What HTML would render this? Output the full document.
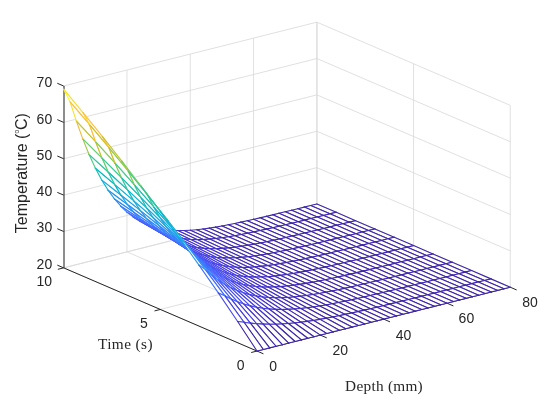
<!DOCTYPE html><html><head><meta charset="utf-8"><style>html,body{margin:0;padding:0;background:#fff;}svg{display:block;}</style></head><body><svg width="550" height="406" viewBox="0 0 550 406"><rect width="550" height="406" fill="#fff"/><g stroke="#dadada" stroke-width="0.85"><line x1="126.96" y1="251.89" x2="126.96" y2="70.04"/><line x1="190.28" y1="235.93" x2="190.28" y2="54.08"/><line x1="253.59" y1="219.96" x2="253.59" y2="38.11"/><line x1="316.90" y1="204.00" x2="316.90" y2="22.15"/><line x1="63.65" y1="267.85" x2="316.90" y2="204.00"/><line x1="63.65" y1="231.48" x2="316.90" y2="167.63"/><line x1="63.65" y1="195.11" x2="316.90" y2="131.26"/><line x1="63.65" y1="158.74" x2="316.90" y2="94.89"/><line x1="63.65" y1="122.37" x2="316.90" y2="58.52"/><line x1="63.65" y1="86.00" x2="316.90" y2="22.15"/><line x1="510.25" y1="287.20" x2="510.25" y2="105.35"/><line x1="413.57" y1="245.60" x2="413.57" y2="63.75"/><line x1="316.90" y1="204.00" x2="316.90" y2="22.15"/><line x1="510.25" y1="287.20" x2="316.90" y2="204.00"/><line x1="510.25" y1="250.83" x2="316.90" y2="167.63"/><line x1="510.25" y1="214.46" x2="316.90" y2="131.26"/><line x1="510.25" y1="178.09" x2="316.90" y2="94.89"/><line x1="510.25" y1="141.72" x2="316.90" y2="58.52"/><line x1="510.25" y1="105.35" x2="316.90" y2="22.15"/><line x1="257.00" y1="351.05" x2="63.65" y2="267.85"/><line x1="320.31" y1="335.09" x2="126.96" y2="251.89"/><line x1="383.62" y1="319.12" x2="190.28" y2="235.93"/><line x1="446.94" y1="303.16" x2="253.59" y2="219.96"/><line x1="510.25" y1="287.20" x2="316.90" y2="204.00"/><line x1="257.00" y1="351.05" x2="510.25" y2="287.20"/><line x1="160.32" y1="309.45" x2="413.57" y2="245.60"/><line x1="63.65" y1="267.85" x2="316.90" y2="204.00"/></g><g stroke="#262626" stroke-width="1.00" stroke-linecap="butt"><line x1="257.00" y1="351.05" x2="510.25" y2="287.20"/><line x1="257.00" y1="351.05" x2="63.65" y2="267.85"/><line x1="64.00" y1="267.85" x2="64.00" y2="86.00" stroke-width="1.05"/><line x1="257.00" y1="351.05" x2="263.43" y2="353.82"/><line x1="320.31" y1="335.09" x2="326.74" y2="337.85"/><line x1="383.62" y1="319.12" x2="390.05" y2="321.89"/><line x1="446.94" y1="303.16" x2="453.37" y2="305.93"/><line x1="510.25" y1="287.20" x2="516.68" y2="289.97"/><line x1="257.00" y1="351.05" x2="251.18" y2="352.52"/><line x1="160.32" y1="309.45" x2="154.51" y2="310.92"/><line x1="63.65" y1="267.85" x2="57.83" y2="269.32"/><line x1="63.65" y1="267.85" x2="57.31" y2="265.12"/><line x1="63.65" y1="231.48" x2="57.31" y2="228.75"/><line x1="63.65" y1="195.11" x2="57.31" y2="192.38"/><line x1="63.65" y1="158.74" x2="57.31" y2="156.01"/><line x1="63.65" y1="122.37" x2="57.31" y2="119.64"/><line x1="63.65" y1="86.00" x2="57.31" y2="83.27"/></g><g stroke-width="1.1" stroke-linecap="round"><polygon points="329.90,213.85 336.24,212.32 316.90,204.00 310.57,205.53" fill="#fff"/>
<line x1="329.90" y1="213.85" x2="336.24" y2="212.32" stroke="#3e26a8"/>
<line x1="336.24" y1="212.32" x2="316.90" y2="204.00" stroke="#3e26a8"/>
<line x1="310.57" y1="205.53" x2="316.90" y2="204.00" stroke="#3e26a8"/>
<line x1="329.90" y1="213.85" x2="310.57" y2="205.53" stroke="#3e26a8"/>
<polygon points="323.57,215.42 329.90,213.85 310.57,205.53 304.24,207.10" fill="#fff"/>
<line x1="323.57" y1="215.42" x2="329.90" y2="213.85" stroke="#3e26a8"/>
<line x1="329.90" y1="213.85" x2="310.57" y2="205.53" stroke="#3e26a8"/>
<line x1="304.24" y1="207.10" x2="310.57" y2="205.53" stroke="#3e26a8"/>
<line x1="323.57" y1="215.42" x2="304.24" y2="207.10" stroke="#3e26a8"/>
<polygon points="317.24,217.00 323.57,215.42 304.24,207.10 297.91,208.67" fill="#fff"/>
<line x1="317.24" y1="217.00" x2="323.57" y2="215.42" stroke="#3e26a8"/>
<line x1="323.57" y1="215.42" x2="304.24" y2="207.10" stroke="#3e26a8"/>
<line x1="297.91" y1="208.67" x2="304.24" y2="207.10" stroke="#3e26a8"/>
<line x1="317.24" y1="217.00" x2="297.91" y2="208.67" stroke="#3e26a8"/>
<polygon points="310.91,218.56 317.24,217.00 297.91,208.67 291.58,210.23" fill="#fff"/>
<line x1="310.91" y1="218.56" x2="317.24" y2="217.00" stroke="#3e26a8"/>
<line x1="317.24" y1="217.00" x2="297.91" y2="208.67" stroke="#3e26a8"/>
<line x1="291.58" y1="210.23" x2="297.91" y2="208.67" stroke="#3e26a8"/>
<line x1="310.91" y1="218.56" x2="291.58" y2="210.23" stroke="#3e26a8"/>
<polygon points="304.58,220.12 310.91,218.56 291.58,210.23 285.24,211.78" fill="#fff"/>
<line x1="304.58" y1="220.12" x2="310.91" y2="218.56" stroke="#3e26a8"/>
<line x1="310.91" y1="218.56" x2="291.58" y2="210.23" stroke="#3e26a8"/>
<line x1="285.24" y1="211.78" x2="291.58" y2="210.23" stroke="#3e26a8"/>
<line x1="304.58" y1="220.12" x2="285.24" y2="211.78" stroke="#3e26a8"/>
<polygon points="298.25,221.67 304.58,220.12 285.24,211.78 278.91,213.33" fill="#fff"/>
<line x1="298.25" y1="221.67" x2="304.58" y2="220.12" stroke="#3e26a8"/>
<line x1="304.58" y1="220.12" x2="285.24" y2="211.78" stroke="#3e26a8"/>
<line x1="278.91" y1="213.33" x2="285.24" y2="211.78" stroke="#3e26a8"/>
<line x1="298.25" y1="221.67" x2="278.91" y2="213.33" stroke="#3e26a8"/>
<polygon points="349.24,222.18 355.57,220.64 336.24,212.32 329.90,213.85" fill="#fff"/>
<line x1="349.24" y1="222.18" x2="355.57" y2="220.64" stroke="#3e26a8"/>
<line x1="355.57" y1="220.64" x2="336.24" y2="212.32" stroke="#3e26a8"/>
<line x1="329.90" y1="213.85" x2="336.24" y2="212.32" stroke="#3e26a8"/>
<line x1="349.24" y1="222.18" x2="329.90" y2="213.85" stroke="#3e26a8"/>
<polygon points="291.92,223.20 298.25,221.67 278.91,213.33 272.58,214.86" fill="#fff"/>
<line x1="291.92" y1="223.20" x2="298.25" y2="221.67" stroke="#3e26a8"/>
<line x1="298.25" y1="221.67" x2="278.91" y2="213.33" stroke="#3e26a8"/>
<line x1="272.58" y1="214.86" x2="278.91" y2="213.33" stroke="#3e26a8"/>
<line x1="291.92" y1="223.20" x2="272.58" y2="214.86" stroke="#3e26a8"/>
<polygon points="342.91,223.75 349.24,222.18 329.90,213.85 323.57,215.42" fill="#fff"/>
<line x1="342.91" y1="223.75" x2="349.24" y2="222.18" stroke="#3e26a8"/>
<line x1="349.24" y1="222.18" x2="329.90" y2="213.85" stroke="#3e26a8"/>
<line x1="323.57" y1="215.42" x2="329.90" y2="213.85" stroke="#3e26a8"/>
<line x1="342.91" y1="223.75" x2="323.57" y2="215.42" stroke="#3e26a8"/>
<polygon points="285.59,224.73 291.92,223.20 272.58,214.86 266.25,216.37" fill="#fff"/>
<line x1="285.59" y1="224.73" x2="291.92" y2="223.20" stroke="#3e26a8"/>
<line x1="291.92" y1="223.20" x2="272.58" y2="214.86" stroke="#3e26a8"/>
<line x1="266.25" y1="216.37" x2="272.58" y2="214.86" stroke="#3e26a8"/>
<line x1="285.59" y1="224.73" x2="266.25" y2="216.37" stroke="#3e26a8"/>
<polygon points="336.58,225.33 342.91,223.75 323.57,215.42 317.24,217.00" fill="#fff"/>
<line x1="336.58" y1="225.33" x2="342.91" y2="223.75" stroke="#3e26a8"/>
<line x1="342.91" y1="223.75" x2="323.57" y2="215.42" stroke="#3e26a8"/>
<line x1="317.24" y1="217.00" x2="323.57" y2="215.42" stroke="#3e26a8"/>
<line x1="336.58" y1="225.33" x2="317.24" y2="217.00" stroke="#3e26a8"/>
<polygon points="279.25,226.23 285.59,224.73 266.25,216.37 259.92,217.86" fill="#fff"/>
<line x1="279.25" y1="226.23" x2="285.59" y2="224.73" stroke="#3e26a8"/>
<line x1="285.59" y1="224.73" x2="266.25" y2="216.37" stroke="#3e26a8"/>
<line x1="259.92" y1="217.86" x2="266.25" y2="216.37" stroke="#3e26a8"/>
<line x1="279.25" y1="226.23" x2="259.92" y2="217.86" stroke="#3e26a8"/>
<polygon points="330.25,226.90 336.58,225.33 317.24,217.00 310.91,218.56" fill="#fff"/>
<line x1="330.25" y1="226.90" x2="336.58" y2="225.33" stroke="#3e26a8"/>
<line x1="336.58" y1="225.33" x2="317.24" y2="217.00" stroke="#3e26a8"/>
<line x1="310.91" y1="218.56" x2="317.24" y2="217.00" stroke="#3e26a8"/>
<line x1="330.25" y1="226.90" x2="310.91" y2="218.56" stroke="#3e26a8"/>
<polygon points="272.92,227.71 279.25,226.23 259.92,217.86 253.59,219.33" fill="#fff"/>
<line x1="272.92" y1="227.71" x2="279.25" y2="226.23" stroke="#3e26a8"/>
<line x1="279.25" y1="226.23" x2="259.92" y2="217.86" stroke="#3e26a8"/>
<line x1="253.59" y1="219.33" x2="259.92" y2="217.86" stroke="#3e26a8"/>
<line x1="272.92" y1="227.71" x2="253.59" y2="219.33" stroke="#3e26a8"/>
<polygon points="323.91,228.46 330.25,226.90 310.91,218.56 304.58,220.12" fill="#fff"/>
<line x1="323.91" y1="228.46" x2="330.25" y2="226.90" stroke="#3e26a8"/>
<line x1="330.25" y1="226.90" x2="310.91" y2="218.56" stroke="#3e26a8"/>
<line x1="304.58" y1="220.12" x2="310.91" y2="218.56" stroke="#3e26a8"/>
<line x1="323.91" y1="228.46" x2="304.58" y2="220.12" stroke="#3e26a8"/>
<polygon points="266.59,229.16 272.92,227.71 253.59,219.33 247.26,220.77" fill="#fff"/>
<line x1="266.59" y1="229.16" x2="272.92" y2="227.71" stroke="#3e26a8"/>
<line x1="272.92" y1="227.71" x2="253.59" y2="219.33" stroke="#3e26a8"/>
<line x1="247.26" y1="220.77" x2="253.59" y2="219.33" stroke="#3e26a8"/>
<line x1="266.59" y1="229.16" x2="247.26" y2="220.77" stroke="#3e26a8"/>
<polygon points="317.58,230.01 323.91,228.46 304.58,220.12 298.25,221.67" fill="#fff"/>
<line x1="317.58" y1="230.01" x2="323.91" y2="228.46" stroke="#3e26a8"/>
<line x1="323.91" y1="228.46" x2="304.58" y2="220.12" stroke="#3e26a8"/>
<line x1="298.25" y1="221.67" x2="304.58" y2="220.12" stroke="#3e26a8"/>
<line x1="317.58" y1="230.01" x2="298.25" y2="221.67" stroke="#3e26a8"/>
<polygon points="368.57,230.50 374.90,228.96 355.57,220.64 349.24,222.18" fill="#fff"/>
<line x1="368.57" y1="230.50" x2="374.90" y2="228.96" stroke="#3e26a8"/>
<line x1="374.90" y1="228.96" x2="355.57" y2="220.64" stroke="#3e26a8"/>
<line x1="349.24" y1="222.18" x2="355.57" y2="220.64" stroke="#3e26a8"/>
<line x1="368.57" y1="230.50" x2="349.24" y2="222.18" stroke="#3e26a8"/>
<polygon points="260.26,230.57 266.59,229.16 247.26,220.77 240.92,222.16" fill="#fff"/>
<line x1="260.26" y1="230.57" x2="266.59" y2="229.16" stroke="#3e26a8"/>
<line x1="266.59" y1="229.16" x2="247.26" y2="220.77" stroke="#3e26a8"/>
<line x1="240.92" y1="222.16" x2="247.26" y2="220.77" stroke="#3e26a8"/>
<line x1="260.26" y1="230.57" x2="240.92" y2="222.16" stroke="#3e26a8"/>
<polygon points="311.25,231.55 317.58,230.01 298.25,221.67 291.92,223.20" fill="#fff"/>
<line x1="311.25" y1="231.55" x2="317.58" y2="230.01" stroke="#3e26a8"/>
<line x1="317.58" y1="230.01" x2="298.25" y2="221.67" stroke="#3e26a8"/>
<line x1="291.92" y1="223.20" x2="298.25" y2="221.67" stroke="#3e26a8"/>
<line x1="311.25" y1="231.55" x2="291.92" y2="223.20" stroke="#3e26a8"/>
<polygon points="362.24,232.08 368.57,230.50 349.24,222.18 342.91,223.75" fill="#fff"/>
<line x1="362.24" y1="232.08" x2="368.57" y2="230.50" stroke="#3e26a8"/>
<line x1="368.57" y1="230.50" x2="349.24" y2="222.18" stroke="#3e26a8"/>
<line x1="342.91" y1="223.75" x2="349.24" y2="222.18" stroke="#3e26a8"/>
<line x1="362.24" y1="232.08" x2="342.91" y2="223.75" stroke="#3e26a8"/>
<polygon points="253.93,231.94 260.26,230.57 240.92,222.16 234.59,223.51" fill="#fff"/>
<line x1="253.93" y1="231.94" x2="260.26" y2="230.57" stroke="#3e26a8"/>
<line x1="260.26" y1="230.57" x2="240.92" y2="222.16" stroke="#3e26a8"/>
<line x1="234.59" y1="223.51" x2="240.92" y2="222.16" stroke="#3e26a8"/>
<line x1="253.93" y1="231.94" x2="234.59" y2="223.51" stroke="#3e26a8"/>
<polygon points="304.92,233.08 311.25,231.55 291.92,223.20 285.59,224.73" fill="#fff"/>
<line x1="304.92" y1="233.08" x2="311.25" y2="231.55" stroke="#3e26a8"/>
<line x1="311.25" y1="231.55" x2="291.92" y2="223.20" stroke="#3e26a8"/>
<line x1="285.59" y1="224.73" x2="291.92" y2="223.20" stroke="#3e26a8"/>
<line x1="304.92" y1="233.08" x2="285.59" y2="224.73" stroke="#3e26a8"/>
<polygon points="355.91,233.66 362.24,232.08 342.91,223.75 336.58,225.33" fill="#fff"/>
<line x1="355.91" y1="233.66" x2="362.24" y2="232.08" stroke="#3e26a8"/>
<line x1="362.24" y1="232.08" x2="342.91" y2="223.75" stroke="#3e26a8"/>
<line x1="336.58" y1="225.33" x2="342.91" y2="223.75" stroke="#3e26a8"/>
<line x1="355.91" y1="233.66" x2="336.58" y2="225.33" stroke="#3e26a8"/>
<polygon points="247.60,233.26 253.93,231.94 234.59,223.51 228.26,224.80" fill="#fff"/>
<line x1="247.60" y1="233.26" x2="253.93" y2="231.94" stroke="#3e26a8"/>
<line x1="253.93" y1="231.94" x2="234.59" y2="223.51" stroke="#3e26a8"/>
<line x1="228.26" y1="224.80" x2="234.59" y2="223.51" stroke="#3e26a8"/>
<line x1="247.60" y1="233.26" x2="228.26" y2="224.80" stroke="#3e26a8"/>
<polygon points="298.59,234.59 304.92,233.08 285.59,224.73 279.25,226.23" fill="#fff"/>
<line x1="298.59" y1="234.59" x2="304.92" y2="233.08" stroke="#3e26a8"/>
<line x1="304.92" y1="233.08" x2="285.59" y2="224.73" stroke="#3e26a8"/>
<line x1="279.25" y1="226.23" x2="285.59" y2="224.73" stroke="#3e26a8"/>
<line x1="298.59" y1="234.59" x2="279.25" y2="226.23" stroke="#3e26a8"/>
<polygon points="349.58,235.23 355.91,233.66 336.58,225.33 330.25,226.90" fill="#fff"/>
<line x1="349.58" y1="235.23" x2="355.91" y2="233.66" stroke="#3e26a8"/>
<line x1="355.91" y1="233.66" x2="336.58" y2="225.33" stroke="#3e26a8"/>
<line x1="330.25" y1="226.90" x2="336.58" y2="225.33" stroke="#3e26a8"/>
<line x1="349.58" y1="235.23" x2="330.25" y2="226.90" stroke="#3e26a8"/>
<polygon points="241.27,234.50 247.60,233.26 228.26,224.80 221.93,226.01" fill="#fff"/>
<line x1="241.27" y1="234.50" x2="247.60" y2="233.26" stroke="#3e26a8"/>
<line x1="247.60" y1="233.26" x2="228.26" y2="224.80" stroke="#3e26a8"/>
<line x1="221.93" y1="226.01" x2="228.26" y2="224.80" stroke="#3e26a8"/>
<line x1="241.27" y1="234.50" x2="221.93" y2="226.01" stroke="#3e26a8"/>
<polygon points="292.26,236.08 298.59,234.59 279.25,226.23 272.92,227.71" fill="#fff"/>
<line x1="292.26" y1="236.08" x2="298.59" y2="234.59" stroke="#3e26a8"/>
<line x1="298.59" y1="234.59" x2="279.25" y2="226.23" stroke="#3e26a8"/>
<line x1="272.92" y1="227.71" x2="279.25" y2="226.23" stroke="#3e26a8"/>
<line x1="292.26" y1="236.08" x2="272.92" y2="227.71" stroke="#3e26a8"/>
<polygon points="343.25,236.80 349.58,235.23 330.25,226.90 323.91,228.46" fill="#fff"/>
<line x1="343.25" y1="236.80" x2="349.58" y2="235.23" stroke="#3e26a8"/>
<line x1="349.58" y1="235.23" x2="330.25" y2="226.90" stroke="#3e26a8"/>
<line x1="323.91" y1="228.46" x2="330.25" y2="226.90" stroke="#3e26a8"/>
<line x1="343.25" y1="236.80" x2="323.91" y2="228.46" stroke="#3e26a8"/>
<polygon points="234.94,235.67 241.27,234.50 221.93,226.01 215.60,227.14" fill="#fff"/>
<line x1="234.94" y1="235.67" x2="241.27" y2="234.50" stroke="#3e26a8"/>
<line x1="241.27" y1="234.50" x2="221.93" y2="226.01" stroke="#3e26a8"/>
<line x1="215.60" y1="227.14" x2="221.93" y2="226.01" stroke="#3e26a8"/>
<line x1="234.94" y1="235.67" x2="215.60" y2="227.14" stroke="#3e26a8"/>
<polygon points="285.93,237.55 292.26,236.08 272.92,227.71 266.59,229.16" fill="#fff"/>
<line x1="285.93" y1="237.55" x2="292.26" y2="236.08" stroke="#3e26a8"/>
<line x1="292.26" y1="236.08" x2="272.92" y2="227.71" stroke="#3e26a8"/>
<line x1="266.59" y1="229.16" x2="272.92" y2="227.71" stroke="#3e26a8"/>
<line x1="285.93" y1="237.55" x2="266.59" y2="229.16" stroke="#3e26a8"/>
<polygon points="336.92,238.35 343.25,236.80 323.91,228.46 317.58,230.01" fill="#fff"/>
<line x1="336.92" y1="238.35" x2="343.25" y2="236.80" stroke="#3e26a8"/>
<line x1="343.25" y1="236.80" x2="323.91" y2="228.46" stroke="#3e26a8"/>
<line x1="317.58" y1="230.01" x2="323.91" y2="228.46" stroke="#3e26a8"/>
<line x1="336.92" y1="238.35" x2="317.58" y2="230.01" stroke="#3e26a8"/>
<polygon points="387.91,238.83 394.24,237.28 374.90,228.96 368.57,230.50" fill="#fff"/>
<line x1="387.91" y1="238.83" x2="394.24" y2="237.28" stroke="#3e26a8"/>
<line x1="394.24" y1="237.28" x2="374.90" y2="228.96" stroke="#3e26a8"/>
<line x1="368.57" y1="230.50" x2="374.90" y2="228.96" stroke="#3e26a8"/>
<line x1="387.91" y1="238.83" x2="368.57" y2="230.50" stroke="#3e26a8"/>
<polygon points="228.60,236.73 234.94,235.67 215.60,227.14 209.27,228.15" fill="#fff"/>
<line x1="228.60" y1="236.73" x2="234.94" y2="235.67" stroke="#3e26a8"/>
<line x1="234.94" y1="235.67" x2="215.60" y2="227.14" stroke="#3e26a8"/>
<line x1="209.27" y1="228.15" x2="215.60" y2="227.14" stroke="#402ab4"/>
<line x1="228.60" y1="236.73" x2="209.27" y2="228.15" stroke="#3e26a8"/>
<polygon points="279.59,238.98 285.93,237.55 266.59,229.16 260.26,230.57" fill="#fff"/>
<line x1="279.59" y1="238.98" x2="285.93" y2="237.55" stroke="#3e26a8"/>
<line x1="285.93" y1="237.55" x2="266.59" y2="229.16" stroke="#3e26a8"/>
<line x1="260.26" y1="230.57" x2="266.59" y2="229.16" stroke="#3e26a8"/>
<line x1="279.59" y1="238.98" x2="260.26" y2="230.57" stroke="#3e26a8"/>
<polygon points="330.59,239.90 336.92,238.35 317.58,230.01 311.25,231.55" fill="#fff"/>
<line x1="330.59" y1="239.90" x2="336.92" y2="238.35" stroke="#3e26a8"/>
<line x1="336.92" y1="238.35" x2="317.58" y2="230.01" stroke="#3e26a8"/>
<line x1="311.25" y1="231.55" x2="317.58" y2="230.01" stroke="#3e26a8"/>
<line x1="330.59" y1="239.90" x2="311.25" y2="231.55" stroke="#3e26a8"/>
<polygon points="381.58,240.41 387.91,238.83 368.57,230.50 362.24,232.08" fill="#fff"/>
<line x1="381.58" y1="240.41" x2="387.91" y2="238.83" stroke="#3e26a8"/>
<line x1="387.91" y1="238.83" x2="368.57" y2="230.50" stroke="#3e26a8"/>
<line x1="362.24" y1="232.08" x2="368.57" y2="230.50" stroke="#3e26a8"/>
<line x1="381.58" y1="240.41" x2="362.24" y2="232.08" stroke="#3e26a8"/>
<polygon points="222.27,237.67 228.60,236.73 209.27,228.15 202.94,229.03" fill="#fff"/>
<line x1="222.27" y1="237.67" x2="228.60" y2="236.73" stroke="#402ab4"/>
<line x1="228.60" y1="236.73" x2="209.27" y2="228.15" stroke="#3e26a8"/>
<line x1="202.94" y1="229.03" x2="209.27" y2="228.15" stroke="#402ab4"/>
<line x1="222.27" y1="237.67" x2="202.94" y2="229.03" stroke="#402ab4"/>
<polygon points="273.26,240.37 279.59,238.98 260.26,230.57 253.93,231.94" fill="#fff"/>
<line x1="273.26" y1="240.37" x2="279.59" y2="238.98" stroke="#3e26a8"/>
<line x1="279.59" y1="238.98" x2="260.26" y2="230.57" stroke="#3e26a8"/>
<line x1="253.93" y1="231.94" x2="260.26" y2="230.57" stroke="#3e26a8"/>
<line x1="273.26" y1="240.37" x2="253.93" y2="231.94" stroke="#3e26a8"/>
<polygon points="324.25,241.44 330.59,239.90 311.25,231.55 304.92,233.08" fill="#fff"/>
<line x1="324.25" y1="241.44" x2="330.59" y2="239.90" stroke="#3e26a8"/>
<line x1="330.59" y1="239.90" x2="311.25" y2="231.55" stroke="#3e26a8"/>
<line x1="304.92" y1="233.08" x2="311.25" y2="231.55" stroke="#3e26a8"/>
<line x1="324.25" y1="241.44" x2="304.92" y2="233.08" stroke="#3e26a8"/>
<polygon points="375.25,241.99 381.58,240.41 362.24,232.08 355.91,233.66" fill="#fff"/>
<line x1="375.25" y1="241.99" x2="381.58" y2="240.41" stroke="#3e26a8"/>
<line x1="381.58" y1="240.41" x2="362.24" y2="232.08" stroke="#3e26a8"/>
<line x1="355.91" y1="233.66" x2="362.24" y2="232.08" stroke="#3e26a8"/>
<line x1="375.25" y1="241.99" x2="355.91" y2="233.66" stroke="#3e26a8"/>
<polygon points="215.94,238.47 222.27,237.67 202.94,229.03 196.61,229.74" fill="#fff"/>
<line x1="215.94" y1="238.47" x2="222.27" y2="237.67" stroke="#402ab4"/>
<line x1="222.27" y1="237.67" x2="202.94" y2="229.03" stroke="#402ab4"/>
<line x1="196.61" y1="229.74" x2="202.94" y2="229.03" stroke="#402ab4"/>
<line x1="215.94" y1="238.47" x2="196.61" y2="229.74" stroke="#402ab4"/>
<polygon points="266.93,241.72 273.26,240.37 253.93,231.94 247.60,233.26" fill="#fff"/>
<line x1="266.93" y1="241.72" x2="273.26" y2="240.37" stroke="#3e26a8"/>
<line x1="273.26" y1="240.37" x2="253.93" y2="231.94" stroke="#3e26a8"/>
<line x1="247.60" y1="233.26" x2="253.93" y2="231.94" stroke="#3e26a8"/>
<line x1="266.93" y1="241.72" x2="247.60" y2="233.26" stroke="#3e26a8"/>
<polygon points="317.92,242.96 324.25,241.44 304.92,233.08 298.59,234.59" fill="#fff"/>
<line x1="317.92" y1="242.96" x2="324.25" y2="241.44" stroke="#3e26a8"/>
<line x1="324.25" y1="241.44" x2="304.92" y2="233.08" stroke="#3e26a8"/>
<line x1="298.59" y1="234.59" x2="304.92" y2="233.08" stroke="#3e26a8"/>
<line x1="317.92" y1="242.96" x2="298.59" y2="234.59" stroke="#3e26a8"/>
<polygon points="368.92,243.57 375.25,241.99 355.91,233.66 349.58,235.23" fill="#fff"/>
<line x1="368.92" y1="243.57" x2="375.25" y2="241.99" stroke="#3e26a8"/>
<line x1="375.25" y1="241.99" x2="355.91" y2="233.66" stroke="#3e26a8"/>
<line x1="349.58" y1="235.23" x2="355.91" y2="233.66" stroke="#3e26a8"/>
<line x1="368.92" y1="243.57" x2="349.58" y2="235.23" stroke="#3e26a8"/>
<polygon points="209.61,239.08 215.94,238.47 196.61,229.74 190.28,230.26" fill="#fff"/>
<line x1="209.61" y1="239.08" x2="215.94" y2="238.47" stroke="#402ab4"/>
<line x1="215.94" y1="238.47" x2="196.61" y2="229.74" stroke="#402ab4"/>
<line x1="190.28" y1="230.26" x2="196.61" y2="229.74" stroke="#422ec0"/>
<line x1="209.61" y1="239.08" x2="190.28" y2="230.26" stroke="#402ab4"/>
<polygon points="260.60,243.00 266.93,241.72 247.60,233.26 241.27,234.50" fill="#fff"/>
<line x1="260.60" y1="243.00" x2="266.93" y2="241.72" stroke="#3e26a8"/>
<line x1="266.93" y1="241.72" x2="247.60" y2="233.26" stroke="#3e26a8"/>
<line x1="241.27" y1="234.50" x2="247.60" y2="233.26" stroke="#3e26a8"/>
<line x1="260.60" y1="243.00" x2="241.27" y2="234.50" stroke="#3e26a8"/>
<polygon points="311.59,244.46 317.92,242.96 298.59,234.59 292.26,236.08" fill="#fff"/>
<line x1="311.59" y1="244.46" x2="317.92" y2="242.96" stroke="#3e26a8"/>
<line x1="317.92" y1="242.96" x2="298.59" y2="234.59" stroke="#3e26a8"/>
<line x1="292.26" y1="236.08" x2="298.59" y2="234.59" stroke="#3e26a8"/>
<line x1="311.59" y1="244.46" x2="292.26" y2="236.08" stroke="#3e26a8"/>
<polygon points="362.58,245.14 368.92,243.57 349.58,235.23 343.25,236.80" fill="#fff"/>
<line x1="362.58" y1="245.14" x2="368.92" y2="243.57" stroke="#3e26a8"/>
<line x1="368.92" y1="243.57" x2="349.58" y2="235.23" stroke="#3e26a8"/>
<line x1="343.25" y1="236.80" x2="349.58" y2="235.23" stroke="#3e26a8"/>
<line x1="362.58" y1="245.14" x2="343.25" y2="236.80" stroke="#3e26a8"/>
<polygon points="203.28,239.47 209.61,239.08 190.28,230.26 183.94,230.54" fill="#fff"/>
<line x1="203.28" y1="239.47" x2="209.61" y2="239.08" stroke="#422ec0"/>
<line x1="209.61" y1="239.08" x2="190.28" y2="230.26" stroke="#402ab4"/>
<line x1="183.94" y1="230.54" x2="190.28" y2="230.26" stroke="#422ec0"/>
<line x1="203.28" y1="239.47" x2="183.94" y2="230.54" stroke="#422ec0"/>
<polygon points="254.27,244.20 260.60,243.00 241.27,234.50 234.94,235.67" fill="#fff"/>
<line x1="254.27" y1="244.20" x2="260.60" y2="243.00" stroke="#3e26a8"/>
<line x1="260.60" y1="243.00" x2="241.27" y2="234.50" stroke="#3e26a8"/>
<line x1="234.94" y1="235.67" x2="241.27" y2="234.50" stroke="#3e26a8"/>
<line x1="254.27" y1="244.20" x2="234.94" y2="235.67" stroke="#3e26a8"/>
<polygon points="305.26,245.94 311.59,244.46 292.26,236.08 285.93,237.55" fill="#fff"/>
<line x1="305.26" y1="245.94" x2="311.59" y2="244.46" stroke="#3e26a8"/>
<line x1="311.59" y1="244.46" x2="292.26" y2="236.08" stroke="#3e26a8"/>
<line x1="285.93" y1="237.55" x2="292.26" y2="236.08" stroke="#3e26a8"/>
<line x1="305.26" y1="245.94" x2="285.93" y2="237.55" stroke="#3e26a8"/>
<polygon points="356.25,246.70 362.58,245.14 343.25,236.80 336.92,238.35" fill="#fff"/>
<line x1="356.25" y1="246.70" x2="362.58" y2="245.14" stroke="#3e26a8"/>
<line x1="362.58" y1="245.14" x2="343.25" y2="236.80" stroke="#3e26a8"/>
<line x1="336.92" y1="238.35" x2="343.25" y2="236.80" stroke="#3e26a8"/>
<line x1="356.25" y1="246.70" x2="336.92" y2="238.35" stroke="#3e26a8"/>
<polygon points="407.24,247.16 413.57,245.60 394.24,237.28 387.91,238.83" fill="#fff"/>
<line x1="407.24" y1="247.16" x2="413.57" y2="245.60" stroke="#3e26a8"/>
<line x1="413.57" y1="245.60" x2="394.24" y2="237.28" stroke="#3e26a8"/>
<line x1="387.91" y1="238.83" x2="394.24" y2="237.28" stroke="#3e26a8"/>
<line x1="407.24" y1="247.16" x2="387.91" y2="238.83" stroke="#3e26a8"/>
<polygon points="196.95,239.61 203.28,239.47 183.94,230.54 177.61,230.54" fill="#fff"/>
<line x1="196.95" y1="239.61" x2="203.28" y2="239.47" stroke="#422ec0"/>
<line x1="203.28" y1="239.47" x2="183.94" y2="230.54" stroke="#422ec0"/>
<line x1="177.61" y1="230.54" x2="183.94" y2="230.54" stroke="#4332cb"/>
<line x1="196.95" y1="239.61" x2="177.61" y2="230.54" stroke="#422ec0"/>
<polygon points="247.94,245.32 254.27,244.20 234.94,235.67 228.60,236.73" fill="#fff"/>
<line x1="247.94" y1="245.32" x2="254.27" y2="244.20" stroke="#3e26a8"/>
<line x1="254.27" y1="244.20" x2="234.94" y2="235.67" stroke="#3e26a8"/>
<line x1="228.60" y1="236.73" x2="234.94" y2="235.67" stroke="#3e26a8"/>
<line x1="247.94" y1="245.32" x2="228.60" y2="236.73" stroke="#3e26a8"/>
<polygon points="298.93,247.39 305.26,245.94 285.93,237.55 279.59,238.98" fill="#fff"/>
<line x1="298.93" y1="247.39" x2="305.26" y2="245.94" stroke="#3e26a8"/>
<line x1="305.26" y1="245.94" x2="285.93" y2="237.55" stroke="#3e26a8"/>
<line x1="279.59" y1="238.98" x2="285.93" y2="237.55" stroke="#3e26a8"/>
<line x1="298.93" y1="247.39" x2="279.59" y2="238.98" stroke="#3e26a8"/>
<polygon points="349.92,248.25 356.25,246.70 336.92,238.35 330.59,239.90" fill="#fff"/>
<line x1="349.92" y1="248.25" x2="356.25" y2="246.70" stroke="#3e26a8"/>
<line x1="356.25" y1="246.70" x2="336.92" y2="238.35" stroke="#3e26a8"/>
<line x1="330.59" y1="239.90" x2="336.92" y2="238.35" stroke="#3e26a8"/>
<line x1="349.92" y1="248.25" x2="330.59" y2="239.90" stroke="#3e26a8"/>
<polygon points="400.91,248.74 407.24,247.16 387.91,238.83 381.58,240.41" fill="#fff"/>
<line x1="400.91" y1="248.74" x2="407.24" y2="247.16" stroke="#3e26a8"/>
<line x1="407.24" y1="247.16" x2="387.91" y2="238.83" stroke="#3e26a8"/>
<line x1="381.58" y1="240.41" x2="387.91" y2="238.83" stroke="#3e26a8"/>
<line x1="400.91" y1="248.74" x2="381.58" y2="240.41" stroke="#3e26a8"/>
<polygon points="190.62,239.44 196.95,239.61 177.61,230.54 171.28,230.20" fill="#fff"/>
<line x1="190.62" y1="239.44" x2="196.95" y2="239.61" stroke="#4332cb"/>
<line x1="196.95" y1="239.61" x2="177.61" y2="230.54" stroke="#422ec0"/>
<line x1="171.28" y1="230.20" x2="177.61" y2="230.54" stroke="#4332cb"/>
<line x1="190.62" y1="239.44" x2="171.28" y2="230.20" stroke="#4332cb"/>
<polygon points="241.61,246.33 247.94,245.32 228.60,236.73 222.27,237.67" fill="#fff"/>
<line x1="241.61" y1="246.33" x2="247.94" y2="245.32" stroke="#402ab4"/>
<line x1="247.94" y1="245.32" x2="228.60" y2="236.73" stroke="#3e26a8"/>
<line x1="222.27" y1="237.67" x2="228.60" y2="236.73" stroke="#402ab4"/>
<line x1="241.61" y1="246.33" x2="222.27" y2="237.67" stroke="#402ab4"/>
<polygon points="292.60,248.81 298.93,247.39 279.59,238.98 273.26,240.37" fill="#fff"/>
<line x1="292.60" y1="248.81" x2="298.93" y2="247.39" stroke="#3e26a8"/>
<line x1="298.93" y1="247.39" x2="279.59" y2="238.98" stroke="#3e26a8"/>
<line x1="273.26" y1="240.37" x2="279.59" y2="238.98" stroke="#3e26a8"/>
<line x1="292.60" y1="248.81" x2="273.26" y2="240.37" stroke="#3e26a8"/>
<polygon points="343.59,249.80 349.92,248.25 330.59,239.90 324.25,241.44" fill="#fff"/>
<line x1="343.59" y1="249.80" x2="349.92" y2="248.25" stroke="#3e26a8"/>
<line x1="349.92" y1="248.25" x2="330.59" y2="239.90" stroke="#3e26a8"/>
<line x1="324.25" y1="241.44" x2="330.59" y2="239.90" stroke="#3e26a8"/>
<line x1="343.59" y1="249.80" x2="324.25" y2="241.44" stroke="#3e26a8"/>
<polygon points="394.58,250.32 400.91,248.74 381.58,240.41 375.25,241.99" fill="#fff"/>
<line x1="394.58" y1="250.32" x2="400.91" y2="248.74" stroke="#3e26a8"/>
<line x1="400.91" y1="248.74" x2="381.58" y2="240.41" stroke="#3e26a8"/>
<line x1="375.25" y1="241.99" x2="381.58" y2="240.41" stroke="#3e26a8"/>
<line x1="394.58" y1="250.32" x2="375.25" y2="241.99" stroke="#3e26a8"/>
<polygon points="184.29,238.91 190.62,239.44 171.28,230.20 164.95,229.46" fill="#fff"/>
<line x1="184.29" y1="238.91" x2="190.62" y2="239.44" stroke="#4537d5"/>
<line x1="190.62" y1="239.44" x2="171.28" y2="230.20" stroke="#4332cb"/>
<line x1="164.95" y1="229.46" x2="171.28" y2="230.20" stroke="#4537d5"/>
<line x1="184.29" y1="238.91" x2="164.95" y2="229.46" stroke="#4537d5"/>
<polygon points="235.28,247.20 241.61,246.33 222.27,237.67 215.94,238.47" fill="#fff"/>
<line x1="235.28" y1="247.20" x2="241.61" y2="246.33" stroke="#402ab4"/>
<line x1="241.61" y1="246.33" x2="222.27" y2="237.67" stroke="#402ab4"/>
<line x1="215.94" y1="238.47" x2="222.27" y2="237.67" stroke="#402ab4"/>
<line x1="235.28" y1="247.20" x2="215.94" y2="238.47" stroke="#402ab4"/>
<polygon points="286.27,250.18 292.60,248.81 273.26,240.37 266.93,241.72" fill="#fff"/>
<line x1="286.27" y1="250.18" x2="292.60" y2="248.81" stroke="#3e26a8"/>
<line x1="292.60" y1="248.81" x2="273.26" y2="240.37" stroke="#3e26a8"/>
<line x1="266.93" y1="241.72" x2="273.26" y2="240.37" stroke="#3e26a8"/>
<line x1="286.27" y1="250.18" x2="266.93" y2="241.72" stroke="#3e26a8"/>
<polygon points="337.26,251.33 343.59,249.80 324.25,241.44 317.92,242.96" fill="#fff"/>
<line x1="337.26" y1="251.33" x2="343.59" y2="249.80" stroke="#3e26a8"/>
<line x1="343.59" y1="249.80" x2="324.25" y2="241.44" stroke="#3e26a8"/>
<line x1="317.92" y1="242.96" x2="324.25" y2="241.44" stroke="#3e26a8"/>
<line x1="337.26" y1="251.33" x2="317.92" y2="242.96" stroke="#3e26a8"/>
<polygon points="388.25,251.90 394.58,250.32 375.25,241.99 368.92,243.57" fill="#fff"/>
<line x1="388.25" y1="251.90" x2="394.58" y2="250.32" stroke="#3e26a8"/>
<line x1="394.58" y1="250.32" x2="375.25" y2="241.99" stroke="#3e26a8"/>
<line x1="368.92" y1="243.57" x2="375.25" y2="241.99" stroke="#3e26a8"/>
<line x1="388.25" y1="251.90" x2="368.92" y2="243.57" stroke="#3e26a8"/>
<polygon points="177.95,237.94 184.29,238.91 164.95,229.46 158.62,228.25" fill="#fff"/>
<line x1="177.95" y1="237.94" x2="184.29" y2="238.91" stroke="#463cde"/>
<line x1="184.29" y1="238.91" x2="164.95" y2="229.46" stroke="#4537d5"/>
<line x1="158.62" y1="228.25" x2="164.95" y2="229.46" stroke="#463cde"/>
<line x1="177.95" y1="237.94" x2="158.62" y2="228.25" stroke="#463cde"/>
<polygon points="228.94,247.91 235.28,247.20 215.94,238.47 209.61,239.08" fill="#fff"/>
<line x1="228.94" y1="247.91" x2="235.28" y2="247.20" stroke="#402ab4"/>
<line x1="235.28" y1="247.20" x2="215.94" y2="238.47" stroke="#402ab4"/>
<line x1="209.61" y1="239.08" x2="215.94" y2="238.47" stroke="#402ab4"/>
<line x1="228.94" y1="247.91" x2="209.61" y2="239.08" stroke="#402ab4"/>
<polygon points="279.94,251.50 286.27,250.18 266.93,241.72 260.60,243.00" fill="#fff"/>
<line x1="279.94" y1="251.50" x2="286.27" y2="250.18" stroke="#3e26a8"/>
<line x1="286.27" y1="250.18" x2="266.93" y2="241.72" stroke="#3e26a8"/>
<line x1="260.60" y1="243.00" x2="266.93" y2="241.72" stroke="#3e26a8"/>
<line x1="279.94" y1="251.50" x2="260.60" y2="243.00" stroke="#3e26a8"/>
<polygon points="330.93,252.84 337.26,251.33 317.92,242.96 311.59,244.46" fill="#fff"/>
<line x1="330.93" y1="252.84" x2="337.26" y2="251.33" stroke="#3e26a8"/>
<line x1="337.26" y1="251.33" x2="317.92" y2="242.96" stroke="#3e26a8"/>
<line x1="311.59" y1="244.46" x2="317.92" y2="242.96" stroke="#3e26a8"/>
<line x1="330.93" y1="252.84" x2="311.59" y2="244.46" stroke="#3e26a8"/>
<polygon points="381.92,253.48 388.25,251.90 368.92,243.57 362.58,245.14" fill="#fff"/>
<line x1="381.92" y1="253.48" x2="388.25" y2="251.90" stroke="#3e26a8"/>
<line x1="388.25" y1="251.90" x2="368.92" y2="243.57" stroke="#3e26a8"/>
<line x1="362.58" y1="245.14" x2="368.92" y2="243.57" stroke="#3e26a8"/>
<line x1="381.92" y1="253.48" x2="362.58" y2="245.14" stroke="#3e26a8"/>
<polygon points="171.62,236.48 177.95,237.94 158.62,228.25 152.29,226.49" fill="#fff"/>
<line x1="171.62" y1="236.48" x2="177.95" y2="237.94" stroke="#4741e5"/>
<line x1="177.95" y1="237.94" x2="158.62" y2="228.25" stroke="#463cde"/>
<line x1="152.29" y1="226.49" x2="158.62" y2="228.25" stroke="#4741e5"/>
<line x1="171.62" y1="236.48" x2="152.29" y2="226.49" stroke="#4741e5"/>
<polygon points="222.61,248.42 228.94,247.91 209.61,239.08 203.28,239.47" fill="#fff"/>
<line x1="222.61" y1="248.42" x2="228.94" y2="247.91" stroke="#422ec0"/>
<line x1="228.94" y1="247.91" x2="209.61" y2="239.08" stroke="#402ab4"/>
<line x1="203.28" y1="239.47" x2="209.61" y2="239.08" stroke="#422ec0"/>
<line x1="222.61" y1="248.42" x2="203.28" y2="239.47" stroke="#422ec0"/>
<polygon points="273.61,252.75 279.94,251.50 260.60,243.00 254.27,244.20" fill="#fff"/>
<line x1="273.61" y1="252.75" x2="279.94" y2="251.50" stroke="#3e26a8"/>
<line x1="279.94" y1="251.50" x2="260.60" y2="243.00" stroke="#3e26a8"/>
<line x1="254.27" y1="244.20" x2="260.60" y2="243.00" stroke="#3e26a8"/>
<line x1="273.61" y1="252.75" x2="254.27" y2="244.20" stroke="#3e26a8"/>
<polygon points="324.60,254.34 330.93,252.84 311.59,244.46 305.26,245.94" fill="#fff"/>
<line x1="324.60" y1="254.34" x2="330.93" y2="252.84" stroke="#3e26a8"/>
<line x1="330.93" y1="252.84" x2="311.59" y2="244.46" stroke="#3e26a8"/>
<line x1="305.26" y1="245.94" x2="311.59" y2="244.46" stroke="#3e26a8"/>
<line x1="324.60" y1="254.34" x2="305.26" y2="245.94" stroke="#3e26a8"/>
<polygon points="375.59,255.04 381.92,253.48 362.58,245.14 356.25,246.70" fill="#fff"/>
<line x1="375.59" y1="255.04" x2="381.92" y2="253.48" stroke="#3e26a8"/>
<line x1="381.92" y1="253.48" x2="362.58" y2="245.14" stroke="#3e26a8"/>
<line x1="356.25" y1="246.70" x2="362.58" y2="245.14" stroke="#3e26a8"/>
<line x1="375.59" y1="255.04" x2="356.25" y2="246.70" stroke="#3e26a8"/>
<polygon points="165.29,234.43 171.62,236.48 152.29,226.49 145.96,224.10" fill="#fff"/>
<line x1="165.29" y1="234.43" x2="171.62" y2="236.48" stroke="#4747eb"/>
<line x1="171.62" y1="236.48" x2="152.29" y2="226.49" stroke="#4741e5"/>
<line x1="145.96" y1="224.10" x2="152.29" y2="226.49" stroke="#484df0"/>
<line x1="165.29" y1="234.43" x2="145.96" y2="224.10" stroke="#4747eb"/>
<polygon points="426.58,255.48 432.91,253.92 413.57,245.60 407.24,247.16" fill="#fff"/>
<line x1="426.58" y1="255.48" x2="432.91" y2="253.92" stroke="#3e26a8"/>
<line x1="432.91" y1="253.92" x2="413.57" y2="245.60" stroke="#3e26a8"/>
<line x1="407.24" y1="247.16" x2="413.57" y2="245.60" stroke="#3e26a8"/>
<line x1="426.58" y1="255.48" x2="407.24" y2="247.16" stroke="#3e26a8"/>
<polygon points="216.28,248.71 222.61,248.42 203.28,239.47 196.95,239.61" fill="#fff"/>
<line x1="216.28" y1="248.71" x2="222.61" y2="248.42" stroke="#422ec0"/>
<line x1="222.61" y1="248.42" x2="203.28" y2="239.47" stroke="#422ec0"/>
<line x1="196.95" y1="239.61" x2="203.28" y2="239.47" stroke="#422ec0"/>
<line x1="216.28" y1="248.71" x2="196.95" y2="239.61" stroke="#422ec0"/>
<polygon points="267.27,253.92 273.61,252.75 254.27,244.20 247.94,245.32" fill="#fff"/>
<line x1="267.27" y1="253.92" x2="273.61" y2="252.75" stroke="#3e26a8"/>
<line x1="273.61" y1="252.75" x2="254.27" y2="244.20" stroke="#3e26a8"/>
<line x1="247.94" y1="245.32" x2="254.27" y2="244.20" stroke="#3e26a8"/>
<line x1="267.27" y1="253.92" x2="247.94" y2="245.32" stroke="#3e26a8"/>
<polygon points="318.26,255.81 324.60,254.34 305.26,245.94 298.93,247.39" fill="#fff"/>
<line x1="318.26" y1="255.81" x2="324.60" y2="254.34" stroke="#3e26a8"/>
<line x1="324.60" y1="254.34" x2="305.26" y2="245.94" stroke="#3e26a8"/>
<line x1="298.93" y1="247.39" x2="305.26" y2="245.94" stroke="#3e26a8"/>
<line x1="318.26" y1="255.81" x2="298.93" y2="247.39" stroke="#3e26a8"/>
<polygon points="369.26,256.60 375.59,255.04 356.25,246.70 349.92,248.25" fill="#fff"/>
<line x1="369.26" y1="256.60" x2="375.59" y2="255.04" stroke="#3e26a8"/>
<line x1="375.59" y1="255.04" x2="356.25" y2="246.70" stroke="#3e26a8"/>
<line x1="349.92" y1="248.25" x2="356.25" y2="246.70" stroke="#3e26a8"/>
<line x1="369.26" y1="256.60" x2="349.92" y2="248.25" stroke="#3e26a8"/>
<polygon points="158.96,231.71 165.29,234.43 145.96,224.10 139.63,220.96" fill="#fff"/>
<line x1="158.96" y1="231.71" x2="165.29" y2="234.43" stroke="#4852f4"/>
<line x1="165.29" y1="234.43" x2="145.96" y2="224.10" stroke="#4747eb"/>
<line x1="139.63" y1="220.96" x2="145.96" y2="224.10" stroke="#4852f4"/>
<line x1="158.96" y1="231.71" x2="139.63" y2="220.96" stroke="#4852f4"/>
<polygon points="420.25,257.07 426.58,255.48 407.24,247.16 400.91,248.74" fill="#fff"/>
<line x1="420.25" y1="257.07" x2="426.58" y2="255.48" stroke="#3e26a8"/>
<line x1="426.58" y1="255.48" x2="407.24" y2="247.16" stroke="#3e26a8"/>
<line x1="400.91" y1="248.74" x2="407.24" y2="247.16" stroke="#3e26a8"/>
<line x1="420.25" y1="257.07" x2="400.91" y2="248.74" stroke="#3e26a8"/>
<polygon points="209.95,248.71 216.28,248.71 196.95,239.61 190.62,239.44" fill="#fff"/>
<line x1="209.95" y1="248.71" x2="216.28" y2="248.71" stroke="#4332cb"/>
<line x1="216.28" y1="248.71" x2="196.95" y2="239.61" stroke="#422ec0"/>
<line x1="190.62" y1="239.44" x2="196.95" y2="239.61" stroke="#4332cb"/>
<line x1="209.95" y1="248.71" x2="190.62" y2="239.44" stroke="#4332cb"/>
<polygon points="260.94,254.99 267.27,253.92 247.94,245.32 241.61,246.33" fill="#fff"/>
<line x1="260.94" y1="254.99" x2="267.27" y2="253.92" stroke="#3e26a8"/>
<line x1="267.27" y1="253.92" x2="247.94" y2="245.32" stroke="#3e26a8"/>
<line x1="241.61" y1="246.33" x2="247.94" y2="245.32" stroke="#402ab4"/>
<line x1="260.94" y1="254.99" x2="241.61" y2="246.33" stroke="#3e26a8"/>
<polygon points="311.93,257.25 318.26,255.81 298.93,247.39 292.60,248.81" fill="#fff"/>
<line x1="311.93" y1="257.25" x2="318.26" y2="255.81" stroke="#3e26a8"/>
<line x1="318.26" y1="255.81" x2="298.93" y2="247.39" stroke="#3e26a8"/>
<line x1="292.60" y1="248.81" x2="298.93" y2="247.39" stroke="#3e26a8"/>
<line x1="311.93" y1="257.25" x2="292.60" y2="248.81" stroke="#3e26a8"/>
<polygon points="362.93,258.16 369.26,256.60 349.92,248.25 343.59,249.80" fill="#fff"/>
<line x1="362.93" y1="258.16" x2="369.26" y2="256.60" stroke="#3e26a8"/>
<line x1="369.26" y1="256.60" x2="349.92" y2="248.25" stroke="#3e26a8"/>
<line x1="343.59" y1="249.80" x2="349.92" y2="248.25" stroke="#3e26a8"/>
<line x1="362.93" y1="258.16" x2="343.59" y2="249.80" stroke="#3e26a8"/>
<polygon points="152.63,228.21 158.96,231.71 139.63,220.96 133.29,216.98" fill="#fff"/>
<line x1="152.63" y1="228.21" x2="158.96" y2="231.71" stroke="#4758f8"/>
<line x1="158.96" y1="231.71" x2="139.63" y2="220.96" stroke="#4852f4"/>
<line x1="133.29" y1="216.98" x2="139.63" y2="220.96" stroke="#465efb"/>
<line x1="152.63" y1="228.21" x2="133.29" y2="216.98" stroke="#4758f8"/>
<polygon points="413.92,258.66 420.25,257.07 400.91,248.74 394.58,250.32" fill="#fff"/>
<line x1="413.92" y1="258.66" x2="420.25" y2="257.07" stroke="#3e26a8"/>
<line x1="420.25" y1="257.07" x2="400.91" y2="248.74" stroke="#3e26a8"/>
<line x1="394.58" y1="250.32" x2="400.91" y2="248.74" stroke="#3e26a8"/>
<line x1="413.92" y1="258.66" x2="394.58" y2="250.32" stroke="#3e26a8"/>
<polygon points="203.62,248.38 209.95,248.71 190.62,239.44 184.29,238.91" fill="#fff"/>
<line x1="203.62" y1="248.38" x2="209.95" y2="248.71" stroke="#4332cb"/>
<line x1="209.95" y1="248.71" x2="190.62" y2="239.44" stroke="#4332cb"/>
<line x1="184.29" y1="238.91" x2="190.62" y2="239.44" stroke="#4537d5"/>
<line x1="203.62" y1="248.38" x2="184.29" y2="238.91" stroke="#4332cb"/>
<polygon points="254.61,255.94 260.94,254.99 241.61,246.33 235.28,247.20" fill="#fff"/>
<line x1="254.61" y1="255.94" x2="260.94" y2="254.99" stroke="#402ab4"/>
<line x1="260.94" y1="254.99" x2="241.61" y2="246.33" stroke="#3e26a8"/>
<line x1="235.28" y1="247.20" x2="241.61" y2="246.33" stroke="#402ab4"/>
<line x1="254.61" y1="255.94" x2="235.28" y2="247.20" stroke="#402ab4"/>
<polygon points="305.60,258.65 311.93,257.25 292.60,248.81 286.27,250.18" fill="#fff"/>
<line x1="305.60" y1="258.65" x2="311.93" y2="257.25" stroke="#3e26a8"/>
<line x1="311.93" y1="257.25" x2="292.60" y2="248.81" stroke="#3e26a8"/>
<line x1="286.27" y1="250.18" x2="292.60" y2="248.81" stroke="#3e26a8"/>
<line x1="305.60" y1="258.65" x2="286.27" y2="250.18" stroke="#3e26a8"/>
<polygon points="356.59,259.70 362.93,258.16 343.59,249.80 337.26,251.33" fill="#fff"/>
<line x1="356.59" y1="259.70" x2="362.93" y2="258.16" stroke="#3e26a8"/>
<line x1="362.93" y1="258.16" x2="343.59" y2="249.80" stroke="#3e26a8"/>
<line x1="337.26" y1="251.33" x2="343.59" y2="249.80" stroke="#3e26a8"/>
<line x1="356.59" y1="259.70" x2="337.26" y2="251.33" stroke="#3e26a8"/>
<polygon points="146.30,223.83 152.63,228.21 133.29,216.98 126.96,212.03" fill="#fff"/>
<line x1="146.30" y1="223.83" x2="152.63" y2="228.21" stroke="#4269fe"/>
<line x1="152.63" y1="228.21" x2="133.29" y2="216.98" stroke="#4758f8"/>
<line x1="126.96" y1="212.03" x2="133.29" y2="216.98" stroke="#3e6fff"/>
<line x1="146.30" y1="223.83" x2="126.96" y2="212.03" stroke="#4269fe"/>
<polygon points="407.59,260.24 413.92,258.66 394.58,250.32 388.25,251.90" fill="#fff"/>
<line x1="407.59" y1="260.24" x2="413.92" y2="258.66" stroke="#3e26a8"/>
<line x1="413.92" y1="258.66" x2="394.58" y2="250.32" stroke="#3e26a8"/>
<line x1="388.25" y1="251.90" x2="394.58" y2="250.32" stroke="#3e26a8"/>
<line x1="407.59" y1="260.24" x2="388.25" y2="251.90" stroke="#3e26a8"/>
<polygon points="197.29,247.67 203.62,248.38 184.29,238.91 177.95,237.94" fill="#fff"/>
<line x1="197.29" y1="247.67" x2="203.62" y2="248.38" stroke="#4537d5"/>
<line x1="203.62" y1="248.38" x2="184.29" y2="238.91" stroke="#4332cb"/>
<line x1="177.95" y1="237.94" x2="184.29" y2="238.91" stroke="#463cde"/>
<line x1="197.29" y1="247.67" x2="177.95" y2="237.94" stroke="#4537d5"/>
<polygon points="248.28,256.75 254.61,255.94 235.28,247.20 228.94,247.91" fill="#fff"/>
<line x1="248.28" y1="256.75" x2="254.61" y2="255.94" stroke="#402ab4"/>
<line x1="254.61" y1="255.94" x2="235.28" y2="247.20" stroke="#402ab4"/>
<line x1="228.94" y1="247.91" x2="235.28" y2="247.20" stroke="#402ab4"/>
<line x1="248.28" y1="256.75" x2="228.94" y2="247.91" stroke="#402ab4"/>
<polygon points="299.27,260.00 305.60,258.65 286.27,250.18 279.94,251.50" fill="#fff"/>
<line x1="299.27" y1="260.00" x2="305.60" y2="258.65" stroke="#3e26a8"/>
<line x1="305.60" y1="258.65" x2="286.27" y2="250.18" stroke="#3e26a8"/>
<line x1="279.94" y1="251.50" x2="286.27" y2="250.18" stroke="#3e26a8"/>
<line x1="299.27" y1="260.00" x2="279.94" y2="251.50" stroke="#3e26a8"/>
<polygon points="350.26,261.23 356.59,259.70 337.26,251.33 330.93,252.84" fill="#fff"/>
<line x1="350.26" y1="261.23" x2="356.59" y2="259.70" stroke="#3e26a8"/>
<line x1="356.59" y1="259.70" x2="337.26" y2="251.33" stroke="#3e26a8"/>
<line x1="330.93" y1="252.84" x2="337.26" y2="251.33" stroke="#3e26a8"/>
<line x1="350.26" y1="261.23" x2="330.93" y2="252.84" stroke="#3e26a8"/>
<polygon points="139.97,218.45 146.30,223.83 126.96,212.03 120.63,205.98" fill="#fff"/>
<line x1="139.97" y1="218.45" x2="146.30" y2="223.83" stroke="#3875fe"/>
<line x1="146.30" y1="223.83" x2="126.96" y2="212.03" stroke="#4269fe"/>
<line x1="120.63" y1="205.98" x2="126.96" y2="212.03" stroke="#2f81fa"/>
<line x1="139.97" y1="218.45" x2="120.63" y2="205.98" stroke="#3875fe"/>
<polygon points="401.25,261.82 407.59,260.24 388.25,251.90 381.92,253.48" fill="#fff"/>
<line x1="401.25" y1="261.82" x2="407.59" y2="260.24" stroke="#3e26a8"/>
<line x1="407.59" y1="260.24" x2="388.25" y2="251.90" stroke="#3e26a8"/>
<line x1="381.92" y1="253.48" x2="388.25" y2="251.90" stroke="#3e26a8"/>
<line x1="401.25" y1="261.82" x2="381.92" y2="253.48" stroke="#3e26a8"/>
<polygon points="190.96,246.51 197.29,247.67 177.95,237.94 171.62,236.48" fill="#fff"/>
<line x1="190.96" y1="246.51" x2="197.29" y2="247.67" stroke="#463cde"/>
<line x1="197.29" y1="247.67" x2="177.95" y2="237.94" stroke="#4537d5"/>
<line x1="171.62" y1="236.48" x2="177.95" y2="237.94" stroke="#4741e5"/>
<line x1="190.96" y1="246.51" x2="171.62" y2="236.48" stroke="#463cde"/>
<polygon points="241.95,257.39 248.28,256.75 228.94,247.91 222.61,248.42" fill="#fff"/>
<line x1="241.95" y1="257.39" x2="248.28" y2="256.75" stroke="#402ab4"/>
<line x1="248.28" y1="256.75" x2="228.94" y2="247.91" stroke="#402ab4"/>
<line x1="222.61" y1="248.42" x2="228.94" y2="247.91" stroke="#422ec0"/>
<line x1="241.95" y1="257.39" x2="222.61" y2="248.42" stroke="#402ab4"/>
<polygon points="292.94,261.30 299.27,260.00 279.94,251.50 273.61,252.75" fill="#fff"/>
<line x1="292.94" y1="261.30" x2="299.27" y2="260.00" stroke="#3e26a8"/>
<line x1="299.27" y1="260.00" x2="279.94" y2="251.50" stroke="#3e26a8"/>
<line x1="273.61" y1="252.75" x2="279.94" y2="251.50" stroke="#3e26a8"/>
<line x1="292.94" y1="261.30" x2="273.61" y2="252.75" stroke="#3e26a8"/>
<polygon points="343.93,262.74 350.26,261.23 330.93,252.84 324.60,254.34" fill="#fff"/>
<line x1="343.93" y1="262.74" x2="350.26" y2="261.23" stroke="#3e26a8"/>
<line x1="350.26" y1="261.23" x2="330.93" y2="252.84" stroke="#3e26a8"/>
<line x1="324.60" y1="254.34" x2="330.93" y2="252.84" stroke="#3e26a8"/>
<line x1="343.93" y1="262.74" x2="324.60" y2="254.34" stroke="#3e26a8"/>
<polygon points="133.63,211.95 139.97,218.45 120.63,205.98 114.30,198.70" fill="#fff"/>
<line x1="133.63" y1="211.95" x2="139.97" y2="218.45" stroke="#2e87f7"/>
<line x1="139.97" y1="218.45" x2="120.63" y2="205.98" stroke="#3875fe"/>
<line x1="114.30" y1="198.70" x2="120.63" y2="205.98" stroke="#2b91ef"/>
<line x1="133.63" y1="211.95" x2="114.30" y2="198.70" stroke="#2e87f7"/>
<polygon points="394.92,263.39 401.25,261.82 381.92,253.48 375.59,255.04" fill="#fff"/>
<line x1="394.92" y1="263.39" x2="401.25" y2="261.82" stroke="#3e26a8"/>
<line x1="401.25" y1="261.82" x2="381.92" y2="253.48" stroke="#3e26a8"/>
<line x1="375.59" y1="255.04" x2="381.92" y2="253.48" stroke="#3e26a8"/>
<line x1="394.92" y1="263.39" x2="375.59" y2="255.04" stroke="#3e26a8"/>
<polygon points="184.63,244.82 190.96,246.51 171.62,236.48 165.29,234.43" fill="#fff"/>
<line x1="184.63" y1="244.82" x2="190.96" y2="246.51" stroke="#4741e5"/>
<line x1="190.96" y1="246.51" x2="171.62" y2="236.48" stroke="#463cde"/>
<line x1="165.29" y1="234.43" x2="171.62" y2="236.48" stroke="#4747eb"/>
<line x1="184.63" y1="244.82" x2="165.29" y2="234.43" stroke="#4741e5"/>
<polygon points="445.91,263.81 452.25,262.24 432.91,253.92 426.58,255.48" fill="#fff"/>
<line x1="445.91" y1="263.81" x2="452.25" y2="262.24" stroke="#3e26a8"/>
<line x1="452.25" y1="262.24" x2="432.91" y2="253.92" stroke="#3e26a8"/>
<line x1="426.58" y1="255.48" x2="432.91" y2="253.92" stroke="#3e26a8"/>
<line x1="445.91" y1="263.81" x2="426.58" y2="255.48" stroke="#3e26a8"/>
<polygon points="235.62,257.82 241.95,257.39 222.61,248.42 216.28,248.71" fill="#fff"/>
<line x1="235.62" y1="257.82" x2="241.95" y2="257.39" stroke="#422ec0"/>
<line x1="241.95" y1="257.39" x2="222.61" y2="248.42" stroke="#402ab4"/>
<line x1="216.28" y1="248.71" x2="222.61" y2="248.42" stroke="#422ec0"/>
<line x1="235.62" y1="257.82" x2="216.28" y2="248.71" stroke="#422ec0"/>
<polygon points="286.61,262.52 292.94,261.30 273.61,252.75 267.27,253.92" fill="#fff"/>
<line x1="286.61" y1="262.52" x2="292.94" y2="261.30" stroke="#3e26a8"/>
<line x1="292.94" y1="261.30" x2="273.61" y2="252.75" stroke="#3e26a8"/>
<line x1="267.27" y1="253.92" x2="273.61" y2="252.75" stroke="#3e26a8"/>
<line x1="286.61" y1="262.52" x2="267.27" y2="253.92" stroke="#3e26a8"/>
<polygon points="337.60,264.22 343.93,262.74 324.60,254.34 318.26,255.81" fill="#fff"/>
<line x1="337.60" y1="264.22" x2="343.93" y2="262.74" stroke="#3e26a8"/>
<line x1="343.93" y1="262.74" x2="324.60" y2="254.34" stroke="#3e26a8"/>
<line x1="318.26" y1="255.81" x2="324.60" y2="254.34" stroke="#3e26a8"/>
<line x1="337.60" y1="264.22" x2="318.26" y2="255.81" stroke="#3e26a8"/>
<polygon points="127.30,204.20 133.63,211.95 114.30,198.70 107.97,190.06" fill="#fff"/>
<line x1="127.30" y1="204.20" x2="133.63" y2="211.95" stroke="#2797eb"/>
<line x1="133.63" y1="211.95" x2="114.30" y2="198.70" stroke="#2e87f7"/>
<line x1="107.97" y1="190.06" x2="114.30" y2="198.70" stroke="#23a0e5"/>
<line x1="127.30" y1="204.20" x2="107.97" y2="190.06" stroke="#2797eb"/>
<polygon points="388.59,264.96 394.92,263.39 375.59,255.04 369.26,256.60" fill="#fff"/>
<line x1="388.59" y1="264.96" x2="394.92" y2="263.39" stroke="#3e26a8"/>
<line x1="394.92" y1="263.39" x2="375.59" y2="255.04" stroke="#3e26a8"/>
<line x1="369.26" y1="256.60" x2="375.59" y2="255.04" stroke="#3e26a8"/>
<line x1="388.59" y1="264.96" x2="369.26" y2="256.60" stroke="#3e26a8"/>
<polygon points="178.30,242.52 184.63,244.82 165.29,234.43 158.96,231.71" fill="#fff"/>
<line x1="178.30" y1="242.52" x2="184.63" y2="244.82" stroke="#484df0"/>
<line x1="184.63" y1="244.82" x2="165.29" y2="234.43" stroke="#4741e5"/>
<line x1="158.96" y1="231.71" x2="165.29" y2="234.43" stroke="#4852f4"/>
<line x1="178.30" y1="242.52" x2="158.96" y2="231.71" stroke="#484df0"/>
<polygon points="439.58,265.40 445.91,263.81 426.58,255.48 420.25,257.07" fill="#fff"/>
<line x1="439.58" y1="265.40" x2="445.91" y2="263.81" stroke="#3e26a8"/>
<line x1="445.91" y1="263.81" x2="426.58" y2="255.48" stroke="#3e26a8"/>
<line x1="420.25" y1="257.07" x2="426.58" y2="255.48" stroke="#3e26a8"/>
<line x1="439.58" y1="265.40" x2="420.25" y2="257.07" stroke="#3e26a8"/>
<polygon points="229.29,258.00 235.62,257.82 216.28,248.71 209.95,248.71" fill="#fff"/>
<line x1="229.29" y1="258.00" x2="235.62" y2="257.82" stroke="#422ec0"/>
<line x1="235.62" y1="257.82" x2="216.28" y2="248.71" stroke="#422ec0"/>
<line x1="209.95" y1="248.71" x2="216.28" y2="248.71" stroke="#4332cb"/>
<line x1="229.29" y1="258.00" x2="209.95" y2="248.71" stroke="#422ec0"/>
<polygon points="280.28,263.66 286.61,262.52 267.27,253.92 260.94,254.99" fill="#fff"/>
<line x1="280.28" y1="263.66" x2="286.61" y2="262.52" stroke="#3e26a8"/>
<line x1="286.61" y1="262.52" x2="267.27" y2="253.92" stroke="#3e26a8"/>
<line x1="260.94" y1="254.99" x2="267.27" y2="253.92" stroke="#3e26a8"/>
<line x1="280.28" y1="263.66" x2="260.94" y2="254.99" stroke="#3e26a8"/>
<polygon points="331.27,265.69 337.60,264.22 318.26,255.81 311.93,257.25" fill="#fff"/>
<line x1="331.27" y1="265.69" x2="337.60" y2="264.22" stroke="#3e26a8"/>
<line x1="337.60" y1="264.22" x2="318.26" y2="255.81" stroke="#3e26a8"/>
<line x1="311.93" y1="257.25" x2="318.26" y2="255.81" stroke="#3e26a8"/>
<line x1="331.27" y1="265.69" x2="311.93" y2="257.25" stroke="#3e26a8"/>
<polygon points="120.97,195.05 127.30,204.20 107.97,190.06 101.64,179.88" fill="#fff"/>
<line x1="120.97" y1="195.05" x2="127.30" y2="204.20" stroke="#1ca9df"/>
<line x1="127.30" y1="204.20" x2="107.97" y2="190.06" stroke="#2797eb"/>
<line x1="101.64" y1="179.88" x2="107.97" y2="190.06" stroke="#08b5d0"/>
<line x1="120.97" y1="195.05" x2="101.64" y2="179.88" stroke="#1ca9df"/>
<polygon points="382.26,266.52 388.59,264.96 369.26,256.60 362.93,258.16" fill="#fff"/>
<line x1="382.26" y1="266.52" x2="388.59" y2="264.96" stroke="#3e26a8"/>
<line x1="388.59" y1="264.96" x2="369.26" y2="256.60" stroke="#3e26a8"/>
<line x1="362.93" y1="258.16" x2="369.26" y2="256.60" stroke="#3e26a8"/>
<line x1="382.26" y1="266.52" x2="362.93" y2="258.16" stroke="#3e26a8"/>
<polygon points="171.96,239.53 178.30,242.52 158.96,231.71 152.63,228.21" fill="#fff"/>
<line x1="171.96" y1="239.53" x2="178.30" y2="242.52" stroke="#4852f4"/>
<line x1="178.30" y1="242.52" x2="158.96" y2="231.71" stroke="#484df0"/>
<line x1="152.63" y1="228.21" x2="158.96" y2="231.71" stroke="#4758f8"/>
<line x1="171.96" y1="239.53" x2="152.63" y2="228.21" stroke="#4852f4"/>
<polygon points="433.25,266.99 439.58,265.40 420.25,257.07 413.92,258.66" fill="#fff"/>
<line x1="433.25" y1="266.99" x2="439.58" y2="265.40" stroke="#3e26a8"/>
<line x1="439.58" y1="265.40" x2="420.25" y2="257.07" stroke="#3e26a8"/>
<line x1="413.92" y1="258.66" x2="420.25" y2="257.07" stroke="#3e26a8"/>
<line x1="433.25" y1="266.99" x2="413.92" y2="258.66" stroke="#3e26a8"/>
<polygon points="222.96,257.90 229.29,258.00 209.95,248.71 203.62,248.38" fill="#fff"/>
<line x1="222.96" y1="257.90" x2="229.29" y2="258.00" stroke="#4332cb"/>
<line x1="229.29" y1="258.00" x2="209.95" y2="248.71" stroke="#422ec0"/>
<line x1="203.62" y1="248.38" x2="209.95" y2="248.71" stroke="#4332cb"/>
<line x1="222.96" y1="257.90" x2="203.62" y2="248.38" stroke="#4332cb"/>
<polygon points="273.95,264.70 280.28,263.66 260.94,254.99 254.61,255.94" fill="#fff"/>
<line x1="273.95" y1="264.70" x2="280.28" y2="263.66" stroke="#402ab4"/>
<line x1="280.28" y1="263.66" x2="260.94" y2="254.99" stroke="#3e26a8"/>
<line x1="254.61" y1="255.94" x2="260.94" y2="254.99" stroke="#402ab4"/>
<line x1="273.95" y1="264.70" x2="254.61" y2="255.94" stroke="#402ab4"/>
<polygon points="324.94,267.12 331.27,265.69 311.93,257.25 305.60,258.65" fill="#fff"/>
<line x1="324.94" y1="267.12" x2="331.27" y2="265.69" stroke="#3e26a8"/>
<line x1="331.27" y1="265.69" x2="311.93" y2="257.25" stroke="#3e26a8"/>
<line x1="305.60" y1="258.65" x2="311.93" y2="257.25" stroke="#3e26a8"/>
<line x1="324.94" y1="267.12" x2="305.60" y2="258.65" stroke="#3e26a8"/>
<polygon points="114.64,184.37 120.97,195.05 101.64,179.88 95.31,168.03" fill="#fff"/>
<line x1="114.64" y1="184.37" x2="120.97" y2="195.05" stroke="#02bac3"/>
<line x1="120.97" y1="195.05" x2="101.64" y2="179.88" stroke="#1ca9df"/>
<line x1="95.31" y1="168.03" x2="101.64" y2="179.88" stroke="#19bfb6"/>
<line x1="114.64" y1="184.37" x2="95.31" y2="168.03" stroke="#02bac3"/>
<polygon points="375.93,268.07 382.26,266.52 362.93,258.16 356.59,259.70" fill="#fff"/>
<line x1="375.93" y1="268.07" x2="382.26" y2="266.52" stroke="#3e26a8"/>
<line x1="382.26" y1="266.52" x2="362.93" y2="258.16" stroke="#3e26a8"/>
<line x1="356.59" y1="259.70" x2="362.93" y2="258.16" stroke="#3e26a8"/>
<line x1="375.93" y1="268.07" x2="356.59" y2="259.70" stroke="#3e26a8"/>
<polygon points="165.63,235.74 171.96,239.53 152.63,228.21 146.30,223.83" fill="#fff"/>
<line x1="165.63" y1="235.74" x2="171.96" y2="239.53" stroke="#465efb"/>
<line x1="171.96" y1="239.53" x2="152.63" y2="228.21" stroke="#4852f4"/>
<line x1="146.30" y1="223.83" x2="152.63" y2="228.21" stroke="#4269fe"/>
<line x1="165.63" y1="235.74" x2="146.30" y2="223.83" stroke="#465efb"/>
<polygon points="426.92,268.57 433.25,266.99 413.92,258.66 407.59,260.24" fill="#fff"/>
<line x1="426.92" y1="268.57" x2="433.25" y2="266.99" stroke="#3e26a8"/>
<line x1="433.25" y1="266.99" x2="413.92" y2="258.66" stroke="#3e26a8"/>
<line x1="407.59" y1="260.24" x2="413.92" y2="258.66" stroke="#3e26a8"/>
<line x1="426.92" y1="268.57" x2="407.59" y2="260.24" stroke="#3e26a8"/>
<polygon points="216.62,257.45 222.96,257.90 203.62,248.38 197.29,247.67" fill="#fff"/>
<line x1="216.62" y1="257.45" x2="222.96" y2="257.90" stroke="#4537d5"/>
<line x1="222.96" y1="257.90" x2="203.62" y2="248.38" stroke="#4332cb"/>
<line x1="197.29" y1="247.67" x2="203.62" y2="248.38" stroke="#4537d5"/>
<line x1="216.62" y1="257.45" x2="197.29" y2="247.67" stroke="#4537d5"/>
<polygon points="267.62,265.61 273.95,264.70 254.61,255.94 248.28,256.75" fill="#fff"/>
<line x1="267.62" y1="265.61" x2="273.95" y2="264.70" stroke="#402ab4"/>
<line x1="273.95" y1="264.70" x2="254.61" y2="255.94" stroke="#402ab4"/>
<line x1="248.28" y1="256.75" x2="254.61" y2="255.94" stroke="#402ab4"/>
<line x1="267.62" y1="265.61" x2="248.28" y2="256.75" stroke="#402ab4"/>
<polygon points="318.61,268.51 324.94,267.12 305.60,258.65 299.27,260.00" fill="#fff"/>
<line x1="318.61" y1="268.51" x2="324.94" y2="267.12" stroke="#3e26a8"/>
<line x1="324.94" y1="267.12" x2="305.60" y2="258.65" stroke="#3e26a8"/>
<line x1="299.27" y1="260.00" x2="305.60" y2="258.65" stroke="#3e26a8"/>
<line x1="318.61" y1="268.51" x2="299.27" y2="260.00" stroke="#3e26a8"/>
<polygon points="108.31,172.01 114.64,184.37 95.31,168.03 88.97,154.33" fill="#fff"/>
<line x1="108.31" y1="172.01" x2="114.64" y2="184.37" stroke="#31c69f"/>
<line x1="114.64" y1="184.37" x2="95.31" y2="168.03" stroke="#02bac3"/>
<line x1="88.97" y1="154.33" x2="95.31" y2="168.03" stroke="#4acb84"/>
<line x1="108.31" y1="172.01" x2="88.97" y2="154.33" stroke="#31c69f"/>
<polygon points="369.60,269.61 375.93,268.07 356.59,259.70 350.26,261.23" fill="#fff"/>
<line x1="369.60" y1="269.61" x2="375.93" y2="268.07" stroke="#3e26a8"/>
<line x1="375.93" y1="268.07" x2="356.59" y2="259.70" stroke="#3e26a8"/>
<line x1="350.26" y1="261.23" x2="356.59" y2="259.70" stroke="#3e26a8"/>
<line x1="369.60" y1="269.61" x2="350.26" y2="261.23" stroke="#3e26a8"/>
<polygon points="159.30,231.05 165.63,235.74 146.30,223.83 139.97,218.45" fill="#fff"/>
<line x1="159.30" y1="231.05" x2="165.63" y2="235.74" stroke="#4269fe"/>
<line x1="165.63" y1="235.74" x2="146.30" y2="223.83" stroke="#465efb"/>
<line x1="139.97" y1="218.45" x2="146.30" y2="223.83" stroke="#3875fe"/>
<line x1="159.30" y1="231.05" x2="139.97" y2="218.45" stroke="#4269fe"/>
<polygon points="420.59,270.16 426.92,268.57 407.59,260.24 401.25,261.82" fill="#fff"/>
<line x1="420.59" y1="270.16" x2="426.92" y2="268.57" stroke="#3e26a8"/>
<line x1="426.92" y1="268.57" x2="407.59" y2="260.24" stroke="#3e26a8"/>
<line x1="401.25" y1="261.82" x2="407.59" y2="260.24" stroke="#3e26a8"/>
<line x1="420.59" y1="270.16" x2="401.25" y2="261.82" stroke="#3e26a8"/>
<polygon points="210.29,256.59 216.62,257.45 197.29,247.67 190.96,246.51" fill="#fff"/>
<line x1="210.29" y1="256.59" x2="216.62" y2="257.45" stroke="#4537d5"/>
<line x1="216.62" y1="257.45" x2="197.29" y2="247.67" stroke="#4537d5"/>
<line x1="190.96" y1="246.51" x2="197.29" y2="247.67" stroke="#463cde"/>
<line x1="210.29" y1="256.59" x2="190.96" y2="246.51" stroke="#4537d5"/>
<polygon points="261.28,266.38 267.62,265.61 248.28,256.75 241.95,257.39" fill="#fff"/>
<line x1="261.28" y1="266.38" x2="267.62" y2="265.61" stroke="#402ab4"/>
<line x1="267.62" y1="265.61" x2="248.28" y2="256.75" stroke="#402ab4"/>
<line x1="241.95" y1="257.39" x2="248.28" y2="256.75" stroke="#402ab4"/>
<line x1="261.28" y1="266.38" x2="241.95" y2="257.39" stroke="#402ab4"/>
<polygon points="312.27,269.85 318.61,268.51 299.27,260.00 292.94,261.30" fill="#fff"/>
<line x1="312.27" y1="269.85" x2="318.61" y2="268.51" stroke="#3e26a8"/>
<line x1="318.61" y1="268.51" x2="299.27" y2="260.00" stroke="#3e26a8"/>
<line x1="292.94" y1="261.30" x2="299.27" y2="260.00" stroke="#3e26a8"/>
<line x1="312.27" y1="269.85" x2="292.94" y2="261.30" stroke="#3e26a8"/>
<polygon points="101.98,157.83 108.31,172.01 88.97,154.33 82.64,138.64" fill="#fff"/>
<line x1="101.98" y1="157.83" x2="108.31" y2="172.01" stroke="#64cd6f"/>
<line x1="108.31" y1="172.01" x2="88.97" y2="154.33" stroke="#31c69f"/>
<line x1="82.64" y1="138.64" x2="88.97" y2="154.33" stroke="#9dc943"/>
<line x1="101.98" y1="157.83" x2="82.64" y2="138.64" stroke="#64cd6f"/>
<polygon points="363.27,271.14 369.60,269.61 350.26,261.23 343.93,262.74" fill="#fff"/>
<line x1="363.27" y1="271.14" x2="369.60" y2="269.61" stroke="#3e26a8"/>
<line x1="369.60" y1="269.61" x2="350.26" y2="261.23" stroke="#3e26a8"/>
<line x1="343.93" y1="262.74" x2="350.26" y2="261.23" stroke="#3e26a8"/>
<line x1="363.27" y1="271.14" x2="343.93" y2="262.74" stroke="#3e26a8"/>
<polygon points="152.97,225.35 159.30,231.05 139.97,218.45 133.63,211.95" fill="#fff"/>
<line x1="152.97" y1="225.35" x2="159.30" y2="231.05" stroke="#327cfc"/>
<line x1="159.30" y1="231.05" x2="139.97" y2="218.45" stroke="#4269fe"/>
<line x1="133.63" y1="211.95" x2="139.97" y2="218.45" stroke="#2e87f7"/>
<line x1="152.97" y1="225.35" x2="133.63" y2="211.95" stroke="#327cfc"/>
<polygon points="414.26,271.73 420.59,270.16 401.25,261.82 394.92,263.39" fill="#fff"/>
<line x1="414.26" y1="271.73" x2="420.59" y2="270.16" stroke="#3e26a8"/>
<line x1="420.59" y1="270.16" x2="401.25" y2="261.82" stroke="#3e26a8"/>
<line x1="394.92" y1="263.39" x2="401.25" y2="261.82" stroke="#3e26a8"/>
<line x1="414.26" y1="271.73" x2="394.92" y2="263.39" stroke="#3e26a8"/>
<polygon points="203.96,255.27 210.29,256.59 190.96,246.51 184.63,244.82" fill="#fff"/>
<line x1="203.96" y1="255.27" x2="210.29" y2="256.59" stroke="#4741e5"/>
<line x1="210.29" y1="256.59" x2="190.96" y2="246.51" stroke="#4537d5"/>
<line x1="184.63" y1="244.82" x2="190.96" y2="246.51" stroke="#4741e5"/>
<line x1="203.96" y1="255.27" x2="184.63" y2="244.82" stroke="#4741e5"/>
<polygon points="465.25,272.14 471.58,270.56 452.25,262.24 445.91,263.81" fill="#fff"/>
<line x1="465.25" y1="272.14" x2="471.58" y2="270.56" stroke="#3e26a8"/>
<line x1="471.58" y1="270.56" x2="452.25" y2="262.24" stroke="#3e26a8"/>
<line x1="445.91" y1="263.81" x2="452.25" y2="262.24" stroke="#3e26a8"/>
<line x1="465.25" y1="272.14" x2="445.91" y2="263.81" stroke="#3e26a8"/>
<polygon points="254.95,266.96 261.28,266.38 241.95,257.39 235.62,257.82" fill="#fff"/>
<line x1="254.95" y1="266.96" x2="261.28" y2="266.38" stroke="#402ab4"/>
<line x1="261.28" y1="266.38" x2="241.95" y2="257.39" stroke="#402ab4"/>
<line x1="235.62" y1="257.82" x2="241.95" y2="257.39" stroke="#422ec0"/>
<line x1="254.95" y1="266.96" x2="235.62" y2="257.82" stroke="#402ab4"/>
<polygon points="305.94,271.14 312.27,269.85 292.94,261.30 286.61,262.52" fill="#fff"/>
<line x1="305.94" y1="271.14" x2="312.27" y2="269.85" stroke="#3e26a8"/>
<line x1="312.27" y1="269.85" x2="292.94" y2="261.30" stroke="#3e26a8"/>
<line x1="286.61" y1="262.52" x2="292.94" y2="261.30" stroke="#3e26a8"/>
<line x1="305.94" y1="271.14" x2="286.61" y2="262.52" stroke="#3e26a8"/>
<polygon points="95.65,141.70 101.98,157.83 82.64,138.64 76.31,120.83" fill="#fff"/>
<line x1="95.65" y1="141.70" x2="101.98" y2="157.83" stroke="#c5c22a"/>
<line x1="101.98" y1="157.83" x2="82.64" y2="138.64" stroke="#64cd6f"/>
<line x1="76.31" y1="120.83" x2="82.64" y2="138.64" stroke="#f0ba36"/>
<line x1="95.65" y1="141.70" x2="76.31" y2="120.83" stroke="#c5c22a"/>
<polygon points="356.93,272.64 363.27,271.14 343.93,262.74 337.60,264.22" fill="#fff"/>
<line x1="356.93" y1="272.64" x2="363.27" y2="271.14" stroke="#3e26a8"/>
<line x1="363.27" y1="271.14" x2="343.93" y2="262.74" stroke="#3e26a8"/>
<line x1="337.60" y1="264.22" x2="343.93" y2="262.74" stroke="#3e26a8"/>
<line x1="356.93" y1="272.64" x2="337.60" y2="264.22" stroke="#3e26a8"/>
<polygon points="146.64,218.51 152.97,225.35 133.63,211.95 127.30,204.20" fill="#fff"/>
<line x1="146.64" y1="218.51" x2="152.97" y2="225.35" stroke="#2d8cf3"/>
<line x1="152.97" y1="225.35" x2="133.63" y2="211.95" stroke="#327cfc"/>
<line x1="127.30" y1="204.20" x2="133.63" y2="211.95" stroke="#2797eb"/>
<line x1="146.64" y1="218.51" x2="127.30" y2="204.20" stroke="#2d8cf3"/>
<polygon points="407.93,273.31 414.26,271.73 394.92,263.39 388.59,264.96" fill="#fff"/>
<line x1="407.93" y1="273.31" x2="414.26" y2="271.73" stroke="#3e26a8"/>
<line x1="414.26" y1="271.73" x2="394.92" y2="263.39" stroke="#3e26a8"/>
<line x1="388.59" y1="264.96" x2="394.92" y2="263.39" stroke="#3e26a8"/>
<line x1="407.93" y1="273.31" x2="388.59" y2="264.96" stroke="#3e26a8"/>
<polygon points="197.63,253.41 203.96,255.27 184.63,244.82 178.30,242.52" fill="#fff"/>
<line x1="197.63" y1="253.41" x2="203.96" y2="255.27" stroke="#4747eb"/>
<line x1="203.96" y1="255.27" x2="184.63" y2="244.82" stroke="#4741e5"/>
<line x1="178.30" y1="242.52" x2="184.63" y2="244.82" stroke="#484df0"/>
<line x1="197.63" y1="253.41" x2="178.30" y2="242.52" stroke="#4747eb"/>
<polygon points="458.92,273.73 465.25,272.14 445.91,263.81 439.58,265.40" fill="#fff"/>
<line x1="458.92" y1="273.73" x2="465.25" y2="272.14" stroke="#3e26a8"/>
<line x1="465.25" y1="272.14" x2="445.91" y2="263.81" stroke="#3e26a8"/>
<line x1="439.58" y1="265.40" x2="445.91" y2="263.81" stroke="#3e26a8"/>
<line x1="458.92" y1="273.73" x2="439.58" y2="265.40" stroke="#3e26a8"/>
<polygon points="248.62,267.33 254.95,266.96 235.62,257.82 229.29,258.00" fill="#fff"/>
<line x1="248.62" y1="267.33" x2="254.95" y2="266.96" stroke="#422ec0"/>
<line x1="254.95" y1="266.96" x2="235.62" y2="257.82" stroke="#402ab4"/>
<line x1="229.29" y1="258.00" x2="235.62" y2="257.82" stroke="#422ec0"/>
<line x1="248.62" y1="267.33" x2="229.29" y2="258.00" stroke="#422ec0"/>
<polygon points="299.61,272.35 305.94,271.14 286.61,262.52 280.28,263.66" fill="#fff"/>
<line x1="299.61" y1="272.35" x2="305.94" y2="271.14" stroke="#3e26a8"/>
<line x1="305.94" y1="271.14" x2="286.61" y2="262.52" stroke="#3e26a8"/>
<line x1="280.28" y1="263.66" x2="286.61" y2="262.52" stroke="#3e26a8"/>
<line x1="299.61" y1="272.35" x2="280.28" y2="263.66" stroke="#3e26a8"/>
<polygon points="89.32,124.06 95.65,141.70 76.31,120.83 69.98,101.52" fill="#fff"/>
<line x1="89.32" y1="124.06" x2="95.65" y2="141.70" stroke="#febe3c"/>
<line x1="95.65" y1="141.70" x2="76.31" y2="120.83" stroke="#c5c22a"/>
<line x1="69.98" y1="101.52" x2="76.31" y2="120.83" stroke="#f5e327"/>
<line x1="89.32" y1="124.06" x2="69.98" y2="101.52" stroke="#febe3c"/>
<polygon points="350.60,274.13 356.93,272.64 337.60,264.22 331.27,265.69" fill="#fff"/>
<line x1="350.60" y1="274.13" x2="356.93" y2="272.64" stroke="#3e26a8"/>
<line x1="356.93" y1="272.64" x2="337.60" y2="264.22" stroke="#3e26a8"/>
<line x1="331.27" y1="265.69" x2="337.60" y2="264.22" stroke="#3e26a8"/>
<line x1="350.60" y1="274.13" x2="331.27" y2="265.69" stroke="#3e26a8"/>
<polygon points="140.31,210.42 146.64,218.51 127.30,204.20 120.97,195.05" fill="#fff"/>
<line x1="140.31" y1="210.42" x2="146.64" y2="218.51" stroke="#23a0e5"/>
<line x1="146.64" y1="218.51" x2="127.30" y2="204.20" stroke="#2d8cf3"/>
<line x1="120.97" y1="195.05" x2="127.30" y2="204.20" stroke="#1ca9df"/>
<line x1="140.31" y1="210.42" x2="120.97" y2="195.05" stroke="#23a0e5"/>
<polygon points="401.60,274.88 407.93,273.31 388.59,264.96 382.26,266.52" fill="#fff"/>
<line x1="401.60" y1="274.88" x2="407.93" y2="273.31" stroke="#3e26a8"/>
<line x1="407.93" y1="273.31" x2="388.59" y2="264.96" stroke="#3e26a8"/>
<line x1="382.26" y1="266.52" x2="388.59" y2="264.96" stroke="#3e26a8"/>
<line x1="401.60" y1="274.88" x2="382.26" y2="266.52" stroke="#3e26a8"/>
<polygon points="191.30,250.94 197.63,253.41 178.30,242.52 171.96,239.53" fill="#fff"/>
<line x1="191.30" y1="250.94" x2="197.63" y2="253.41" stroke="#484df0"/>
<line x1="197.63" y1="253.41" x2="178.30" y2="242.52" stroke="#4747eb"/>
<line x1="171.96" y1="239.53" x2="178.30" y2="242.52" stroke="#4852f4"/>
<line x1="191.30" y1="250.94" x2="171.96" y2="239.53" stroke="#484df0"/>
<polygon points="452.59,275.32 458.92,273.73 439.58,265.40 433.25,266.99" fill="#fff"/>
<line x1="452.59" y1="275.32" x2="458.92" y2="273.73" stroke="#3e26a8"/>
<line x1="458.92" y1="273.73" x2="439.58" y2="265.40" stroke="#3e26a8"/>
<line x1="433.25" y1="266.99" x2="439.58" y2="265.40" stroke="#3e26a8"/>
<line x1="452.59" y1="275.32" x2="433.25" y2="266.99" stroke="#3e26a8"/>
<polygon points="242.29,267.44 248.62,267.33 229.29,258.00 222.96,257.90" fill="#fff"/>
<line x1="242.29" y1="267.44" x2="248.62" y2="267.33" stroke="#422ec0"/>
<line x1="248.62" y1="267.33" x2="229.29" y2="258.00" stroke="#422ec0"/>
<line x1="222.96" y1="257.90" x2="229.29" y2="258.00" stroke="#4332cb"/>
<line x1="242.29" y1="267.44" x2="222.96" y2="257.90" stroke="#422ec0"/>
<polygon points="293.28,273.47 299.61,272.35 280.28,263.66 273.95,264.70" fill="#fff"/>
<line x1="293.28" y1="273.47" x2="299.61" y2="272.35" stroke="#3e26a8"/>
<line x1="299.61" y1="272.35" x2="280.28" y2="263.66" stroke="#3e26a8"/>
<line x1="273.95" y1="264.70" x2="280.28" y2="263.66" stroke="#402ab4"/>
<line x1="293.28" y1="273.47" x2="273.95" y2="264.70" stroke="#3e26a8"/>
<polygon points="82.99,112.56 89.32,124.06 69.98,101.52 63.65,89.21" fill="#fff"/>
<line x1="82.99" y1="112.56" x2="89.32" y2="124.06" stroke="#f7dc2a"/>
<line x1="89.32" y1="124.06" x2="69.98" y2="101.52" stroke="#febe3c"/>
<line x1="63.65" y1="89.21" x2="69.98" y2="101.52" stroke="#f9fb15"/>
<line x1="82.99" y1="112.56" x2="63.65" y2="89.21" stroke="#f7dc2a"/>
<polygon points="344.27,275.60 350.60,274.13 331.27,265.69 324.94,267.12" fill="#fff"/>
<line x1="344.27" y1="275.60" x2="350.60" y2="274.13" stroke="#3e26a8"/>
<line x1="350.60" y1="274.13" x2="331.27" y2="265.69" stroke="#3e26a8"/>
<line x1="324.94" y1="267.12" x2="331.27" y2="265.69" stroke="#3e26a8"/>
<line x1="344.27" y1="275.60" x2="324.94" y2="267.12" stroke="#3e26a8"/>
<polygon points="133.98,200.95 140.31,210.42 120.97,195.05 114.64,184.37" fill="#fff"/>
<line x1="133.98" y1="200.95" x2="140.31" y2="210.42" stroke="#12b1d6"/>
<line x1="140.31" y1="210.42" x2="120.97" y2="195.05" stroke="#23a0e5"/>
<line x1="114.64" y1="184.37" x2="120.97" y2="195.05" stroke="#02bac3"/>
<line x1="133.98" y1="200.95" x2="114.64" y2="184.37" stroke="#12b1d6"/>
<polygon points="395.26,276.44 401.60,274.88 382.26,266.52 375.93,268.07" fill="#fff"/>
<line x1="395.26" y1="276.44" x2="401.60" y2="274.88" stroke="#3e26a8"/>
<line x1="401.60" y1="274.88" x2="382.26" y2="266.52" stroke="#3e26a8"/>
<line x1="375.93" y1="268.07" x2="382.26" y2="266.52" stroke="#3e26a8"/>
<line x1="395.26" y1="276.44" x2="375.93" y2="268.07" stroke="#3e26a8"/>
<polygon points="184.97,247.75 191.30,250.94 171.96,239.53 165.63,235.74" fill="#fff"/>
<line x1="184.97" y1="247.75" x2="191.30" y2="250.94" stroke="#4758f8"/>
<line x1="191.30" y1="250.94" x2="171.96" y2="239.53" stroke="#484df0"/>
<line x1="165.63" y1="235.74" x2="171.96" y2="239.53" stroke="#465efb"/>
<line x1="184.97" y1="247.75" x2="165.63" y2="235.74" stroke="#4758f8"/>
<polygon points="446.25,276.91 452.59,275.32 433.25,266.99 426.92,268.57" fill="#fff"/>
<line x1="446.25" y1="276.91" x2="452.59" y2="275.32" stroke="#3e26a8"/>
<line x1="452.59" y1="275.32" x2="433.25" y2="266.99" stroke="#3e26a8"/>
<line x1="426.92" y1="268.57" x2="433.25" y2="266.99" stroke="#3e26a8"/>
<line x1="446.25" y1="276.91" x2="426.92" y2="268.57" stroke="#3e26a8"/>
<polygon points="235.96,267.26 242.29,267.44 222.96,257.90 216.62,257.45" fill="#fff"/>
<line x1="235.96" y1="267.26" x2="242.29" y2="267.44" stroke="#4332cb"/>
<line x1="242.29" y1="267.44" x2="222.96" y2="257.90" stroke="#422ec0"/>
<line x1="216.62" y1="257.45" x2="222.96" y2="257.90" stroke="#4537d5"/>
<line x1="235.96" y1="267.26" x2="216.62" y2="257.45" stroke="#4332cb"/>
<polygon points="286.95,274.49 293.28,273.47 273.95,264.70 267.62,265.61" fill="#fff"/>
<line x1="286.95" y1="274.49" x2="293.28" y2="273.47" stroke="#402ab4"/>
<line x1="293.28" y1="273.47" x2="273.95" y2="264.70" stroke="#3e26a8"/>
<line x1="267.62" y1="265.61" x2="273.95" y2="264.70" stroke="#402ab4"/>
<line x1="286.95" y1="274.49" x2="267.62" y2="265.61" stroke="#402ab4"/>
<polygon points="337.94,277.03 344.27,275.60 324.94,267.12 318.61,268.51" fill="#fff"/>
<line x1="337.94" y1="277.03" x2="344.27" y2="275.60" stroke="#3e26a8"/>
<line x1="344.27" y1="275.60" x2="324.94" y2="267.12" stroke="#3e26a8"/>
<line x1="318.61" y1="268.51" x2="324.94" y2="267.12" stroke="#3e26a8"/>
<line x1="337.94" y1="277.03" x2="318.61" y2="268.51" stroke="#3e26a8"/>
<polygon points="127.64,189.97 133.98,200.95 114.64,184.37 108.31,172.01" fill="#fff"/>
<line x1="127.64" y1="189.97" x2="133.98" y2="200.95" stroke="#0bbdbd"/>
<line x1="133.98" y1="200.95" x2="114.64" y2="184.37" stroke="#12b1d6"/>
<line x1="108.31" y1="172.01" x2="114.64" y2="184.37" stroke="#31c69f"/>
<line x1="127.64" y1="189.97" x2="108.31" y2="172.01" stroke="#0bbdbd"/>
<polygon points="388.93,277.99 395.26,276.44 375.93,268.07 369.60,269.61" fill="#fff"/>
<line x1="388.93" y1="277.99" x2="395.26" y2="276.44" stroke="#3e26a8"/>
<line x1="395.26" y1="276.44" x2="375.93" y2="268.07" stroke="#3e26a8"/>
<line x1="369.60" y1="269.61" x2="375.93" y2="268.07" stroke="#3e26a8"/>
<line x1="388.93" y1="277.99" x2="369.60" y2="269.61" stroke="#3e26a8"/>
<polygon points="178.64,243.77 184.97,247.75 165.63,235.74 159.30,231.05" fill="#fff"/>
<line x1="178.64" y1="243.77" x2="184.97" y2="247.75" stroke="#4563fd"/>
<line x1="184.97" y1="247.75" x2="165.63" y2="235.74" stroke="#4758f8"/>
<line x1="159.30" y1="231.05" x2="165.63" y2="235.74" stroke="#4269fe"/>
<line x1="178.64" y1="243.77" x2="159.30" y2="231.05" stroke="#4563fd"/>
<polygon points="439.92,278.50 446.25,276.91 426.92,268.57 420.59,270.16" fill="#fff"/>
<line x1="439.92" y1="278.50" x2="446.25" y2="276.91" stroke="#3e26a8"/>
<line x1="446.25" y1="276.91" x2="426.92" y2="268.57" stroke="#3e26a8"/>
<line x1="420.59" y1="270.16" x2="426.92" y2="268.57" stroke="#3e26a8"/>
<line x1="439.92" y1="278.50" x2="420.59" y2="270.16" stroke="#3e26a8"/>
<polygon points="229.63,266.73 235.96,267.26 216.62,257.45 210.29,256.59" fill="#fff"/>
<line x1="229.63" y1="266.73" x2="235.96" y2="267.26" stroke="#4537d5"/>
<line x1="235.96" y1="267.26" x2="216.62" y2="257.45" stroke="#4332cb"/>
<line x1="210.29" y1="256.59" x2="216.62" y2="257.45" stroke="#4537d5"/>
<line x1="229.63" y1="266.73" x2="210.29" y2="256.59" stroke="#4537d5"/>
<polygon points="280.62,275.38 286.95,274.49 267.62,265.61 261.28,266.38" fill="#fff"/>
<line x1="280.62" y1="275.38" x2="286.95" y2="274.49" stroke="#402ab4"/>
<line x1="286.95" y1="274.49" x2="267.62" y2="265.61" stroke="#402ab4"/>
<line x1="261.28" y1="266.38" x2="267.62" y2="265.61" stroke="#402ab4"/>
<line x1="280.62" y1="275.38" x2="261.28" y2="266.38" stroke="#402ab4"/>
<polygon points="331.61,278.42 337.94,277.03 318.61,268.51 312.27,269.85" fill="#fff"/>
<line x1="331.61" y1="278.42" x2="337.94" y2="277.03" stroke="#3e26a8"/>
<line x1="337.94" y1="277.03" x2="318.61" y2="268.51" stroke="#3e26a8"/>
<line x1="312.27" y1="269.85" x2="318.61" y2="268.51" stroke="#3e26a8"/>
<line x1="331.61" y1="278.42" x2="312.27" y2="269.85" stroke="#3e26a8"/>
<polygon points="121.31,177.34 127.64,189.97 108.31,172.01 101.98,157.83" fill="#fff"/>
<line x1="121.31" y1="177.34" x2="127.64" y2="189.97" stroke="#37c897"/>
<line x1="127.64" y1="189.97" x2="108.31" y2="172.01" stroke="#0bbdbd"/>
<line x1="101.98" y1="157.83" x2="108.31" y2="172.01" stroke="#64cd6f"/>
<line x1="121.31" y1="177.34" x2="101.98" y2="157.83" stroke="#37c897"/>
<polygon points="382.60,279.54 388.93,277.99 369.60,269.61 363.27,271.14" fill="#fff"/>
<line x1="382.60" y1="279.54" x2="388.93" y2="277.99" stroke="#3e26a8"/>
<line x1="388.93" y1="277.99" x2="369.60" y2="269.61" stroke="#3e26a8"/>
<line x1="363.27" y1="271.14" x2="369.60" y2="269.61" stroke="#3e26a8"/>
<line x1="382.60" y1="279.54" x2="363.27" y2="271.14" stroke="#3e26a8"/>
<polygon points="172.30,238.89 178.64,243.77 159.30,231.05 152.97,225.35" fill="#fff"/>
<line x1="172.30" y1="238.89" x2="178.64" y2="243.77" stroke="#3e6fff"/>
<line x1="178.64" y1="243.77" x2="159.30" y2="231.05" stroke="#4563fd"/>
<line x1="152.97" y1="225.35" x2="159.30" y2="231.05" stroke="#327cfc"/>
<line x1="172.30" y1="238.89" x2="152.97" y2="225.35" stroke="#3e6fff"/>
<polygon points="433.59,280.08 439.92,278.50 420.59,270.16 414.26,271.73" fill="#fff"/>
<line x1="433.59" y1="280.08" x2="439.92" y2="278.50" stroke="#3e26a8"/>
<line x1="439.92" y1="278.50" x2="420.59" y2="270.16" stroke="#3e26a8"/>
<line x1="414.26" y1="271.73" x2="420.59" y2="270.16" stroke="#3e26a8"/>
<line x1="433.59" y1="280.08" x2="414.26" y2="271.73" stroke="#3e26a8"/>
<polygon points="223.30,265.79 229.63,266.73 210.29,256.59 203.96,255.27" fill="#fff"/>
<line x1="223.30" y1="265.79" x2="229.63" y2="266.73" stroke="#463cde"/>
<line x1="229.63" y1="266.73" x2="210.29" y2="256.59" stroke="#4537d5"/>
<line x1="203.96" y1="255.27" x2="210.29" y2="256.59" stroke="#4741e5"/>
<line x1="223.30" y1="265.79" x2="203.96" y2="255.27" stroke="#463cde"/>
<polygon points="484.58,280.47 490.92,278.88 471.58,270.56 465.25,272.14" fill="#fff"/>
<line x1="484.58" y1="280.47" x2="490.92" y2="278.88" stroke="#3e26a8"/>
<line x1="490.92" y1="278.88" x2="471.58" y2="270.56" stroke="#3e26a8"/>
<line x1="465.25" y1="272.14" x2="471.58" y2="270.56" stroke="#3e26a8"/>
<line x1="484.58" y1="280.47" x2="465.25" y2="272.14" stroke="#3e26a8"/>
<polygon points="274.29,276.12 280.62,275.38 261.28,266.38 254.95,266.96" fill="#fff"/>
<line x1="274.29" y1="276.12" x2="280.62" y2="275.38" stroke="#402ab4"/>
<line x1="280.62" y1="275.38" x2="261.28" y2="266.38" stroke="#402ab4"/>
<line x1="254.95" y1="266.96" x2="261.28" y2="266.38" stroke="#402ab4"/>
<line x1="274.29" y1="276.12" x2="254.95" y2="266.96" stroke="#402ab4"/>
<polygon points="325.28,279.76 331.61,278.42 312.27,269.85 305.94,271.14" fill="#fff"/>
<line x1="325.28" y1="279.76" x2="331.61" y2="278.42" stroke="#3e26a8"/>
<line x1="331.61" y1="278.42" x2="312.27" y2="269.85" stroke="#3e26a8"/>
<line x1="305.94" y1="271.14" x2="312.27" y2="269.85" stroke="#3e26a8"/>
<line x1="325.28" y1="279.76" x2="305.94" y2="271.14" stroke="#3e26a8"/>
<polygon points="114.98,162.94 121.31,177.34 101.98,157.83 95.65,141.70" fill="#fff"/>
<line x1="114.98" y1="162.94" x2="121.31" y2="177.34" stroke="#81cc59"/>
<line x1="121.31" y1="177.34" x2="101.98" y2="157.83" stroke="#37c897"/>
<line x1="95.65" y1="141.70" x2="101.98" y2="157.83" stroke="#c5c22a"/>
<line x1="114.98" y1="162.94" x2="95.65" y2="141.70" stroke="#81cc59"/>
<polygon points="376.27,281.07 382.60,279.54 363.27,271.14 356.93,272.64" fill="#fff"/>
<line x1="376.27" y1="281.07" x2="382.60" y2="279.54" stroke="#3e26a8"/>
<line x1="382.60" y1="279.54" x2="363.27" y2="271.14" stroke="#3e26a8"/>
<line x1="356.93" y1="272.64" x2="363.27" y2="271.14" stroke="#3e26a8"/>
<line x1="376.27" y1="281.07" x2="356.93" y2="272.64" stroke="#3e26a8"/>
<polygon points="165.97,233.00 172.30,238.89 152.97,225.35 146.64,218.51" fill="#fff"/>
<line x1="165.97" y1="233.00" x2="172.30" y2="238.89" stroke="#2f81fa"/>
<line x1="172.30" y1="238.89" x2="152.97" y2="225.35" stroke="#3e6fff"/>
<line x1="146.64" y1="218.51" x2="152.97" y2="225.35" stroke="#2d8cf3"/>
<line x1="165.97" y1="233.00" x2="146.64" y2="218.51" stroke="#2f81fa"/>
<polygon points="427.26,281.66 433.59,280.08 414.26,271.73 407.93,273.31" fill="#fff"/>
<line x1="427.26" y1="281.66" x2="433.59" y2="280.08" stroke="#3e26a8"/>
<line x1="433.59" y1="280.08" x2="414.26" y2="271.73" stroke="#3e26a8"/>
<line x1="407.93" y1="273.31" x2="414.26" y2="271.73" stroke="#3e26a8"/>
<line x1="427.26" y1="281.66" x2="407.93" y2="273.31" stroke="#3e26a8"/>
<polygon points="216.97,264.38 223.30,265.79 203.96,255.27 197.63,253.41" fill="#fff"/>
<line x1="216.97" y1="264.38" x2="223.30" y2="265.79" stroke="#4741e5"/>
<line x1="223.30" y1="265.79" x2="203.96" y2="255.27" stroke="#463cde"/>
<line x1="197.63" y1="253.41" x2="203.96" y2="255.27" stroke="#4747eb"/>
<line x1="216.97" y1="264.38" x2="197.63" y2="253.41" stroke="#4741e5"/>
<polygon points="478.25,282.06 484.58,280.47 465.25,272.14 458.92,273.73" fill="#fff"/>
<line x1="478.25" y1="282.06" x2="484.58" y2="280.47" stroke="#3e26a8"/>
<line x1="484.58" y1="280.47" x2="465.25" y2="272.14" stroke="#3e26a8"/>
<line x1="458.92" y1="273.73" x2="465.25" y2="272.14" stroke="#3e26a8"/>
<line x1="478.25" y1="282.06" x2="458.92" y2="273.73" stroke="#3e26a8"/>
<polygon points="267.96,276.68 274.29,276.12 254.95,266.96 248.62,267.33" fill="#fff"/>
<line x1="267.96" y1="276.68" x2="274.29" y2="276.12" stroke="#422ec0"/>
<line x1="274.29" y1="276.12" x2="254.95" y2="266.96" stroke="#402ab4"/>
<line x1="248.62" y1="267.33" x2="254.95" y2="266.96" stroke="#422ec0"/>
<line x1="267.96" y1="276.68" x2="248.62" y2="267.33" stroke="#422ec0"/>
<polygon points="318.95,281.04 325.28,279.76 305.94,271.14 299.61,272.35" fill="#fff"/>
<line x1="318.95" y1="281.04" x2="325.28" y2="279.76" stroke="#3e26a8"/>
<line x1="325.28" y1="279.76" x2="305.94" y2="271.14" stroke="#3e26a8"/>
<line x1="299.61" y1="272.35" x2="305.94" y2="271.14" stroke="#3e26a8"/>
<line x1="318.95" y1="281.04" x2="299.61" y2="272.35" stroke="#3e26a8"/>
<polygon points="108.65,147.07 114.98,162.94 95.65,141.70 89.32,124.06" fill="#fff"/>
<line x1="108.65" y1="147.07" x2="114.98" y2="162.94" stroke="#d1bf27"/>
<line x1="114.98" y1="162.94" x2="95.65" y2="141.70" stroke="#81cc59"/>
<line x1="89.32" y1="124.06" x2="95.65" y2="141.70" stroke="#febe3c"/>
<line x1="108.65" y1="147.07" x2="89.32" y2="124.06" stroke="#d1bf27"/>
<polygon points="369.94,282.58 376.27,281.07 356.93,272.64 350.60,274.13" fill="#fff"/>
<line x1="369.94" y1="282.58" x2="376.27" y2="281.07" stroke="#3e26a8"/>
<line x1="376.27" y1="281.07" x2="356.93" y2="272.64" stroke="#3e26a8"/>
<line x1="350.60" y1="274.13" x2="356.93" y2="272.64" stroke="#3e26a8"/>
<line x1="369.94" y1="282.58" x2="350.60" y2="274.13" stroke="#3e26a8"/>
<polygon points="159.64,226.00 165.97,233.00 146.64,218.51 140.31,210.42" fill="#fff"/>
<line x1="159.64" y1="226.00" x2="165.97" y2="233.00" stroke="#2b91ef"/>
<line x1="165.97" y1="233.00" x2="146.64" y2="218.51" stroke="#2f81fa"/>
<line x1="140.31" y1="210.42" x2="146.64" y2="218.51" stroke="#23a0e5"/>
<line x1="159.64" y1="226.00" x2="140.31" y2="210.42" stroke="#2b91ef"/>
<polygon points="420.93,283.24 427.26,281.66 407.93,273.31 401.60,274.88" fill="#fff"/>
<line x1="420.93" y1="283.24" x2="427.26" y2="281.66" stroke="#3e26a8"/>
<line x1="427.26" y1="281.66" x2="407.93" y2="273.31" stroke="#3e26a8"/>
<line x1="401.60" y1="274.88" x2="407.93" y2="273.31" stroke="#3e26a8"/>
<line x1="420.93" y1="283.24" x2="401.60" y2="274.88" stroke="#3e26a8"/>
<polygon points="210.63,262.44 216.97,264.38 197.63,253.41 191.30,250.94" fill="#fff"/>
<line x1="210.63" y1="262.44" x2="216.97" y2="264.38" stroke="#4747eb"/>
<line x1="216.97" y1="264.38" x2="197.63" y2="253.41" stroke="#4741e5"/>
<line x1="191.30" y1="250.94" x2="197.63" y2="253.41" stroke="#484df0"/>
<line x1="210.63" y1="262.44" x2="191.30" y2="250.94" stroke="#4747eb"/>
<polygon points="471.92,283.65 478.25,282.06 458.92,273.73 452.59,275.32" fill="#fff"/>
<line x1="471.92" y1="283.65" x2="478.25" y2="282.06" stroke="#3e26a8"/>
<line x1="478.25" y1="282.06" x2="458.92" y2="273.73" stroke="#3e26a8"/>
<line x1="452.59" y1="275.32" x2="458.92" y2="273.73" stroke="#3e26a8"/>
<line x1="471.92" y1="283.65" x2="452.59" y2="275.32" stroke="#3e26a8"/>
<polygon points="261.62,277.02 267.96,276.68 248.62,267.33 242.29,267.44" fill="#fff"/>
<line x1="261.62" y1="277.02" x2="267.96" y2="276.68" stroke="#422ec0"/>
<line x1="267.96" y1="276.68" x2="248.62" y2="267.33" stroke="#422ec0"/>
<line x1="242.29" y1="267.44" x2="248.62" y2="267.33" stroke="#422ec0"/>
<line x1="261.62" y1="277.02" x2="242.29" y2="267.44" stroke="#422ec0"/>
<polygon points="312.62,282.26 318.95,281.04 299.61,272.35 293.28,273.47" fill="#fff"/>
<line x1="312.62" y1="282.26" x2="318.95" y2="281.04" stroke="#3e26a8"/>
<line x1="318.95" y1="281.04" x2="299.61" y2="272.35" stroke="#3e26a8"/>
<line x1="293.28" y1="273.47" x2="299.61" y2="272.35" stroke="#3e26a8"/>
<line x1="312.62" y1="282.26" x2="293.28" y2="273.47" stroke="#3e26a8"/>
<polygon points="102.32,136.46 108.65,147.07 89.32,124.06 82.99,112.56" fill="#fff"/>
<line x1="102.32" y1="136.46" x2="108.65" y2="147.07" stroke="#febe3c"/>
<line x1="108.65" y1="147.07" x2="89.32" y2="124.06" stroke="#d1bf27"/>
<line x1="82.99" y1="112.56" x2="89.32" y2="124.06" stroke="#f7dc2a"/>
<line x1="102.32" y1="136.46" x2="82.99" y2="112.56" stroke="#febe3c"/>
<polygon points="363.61,284.08 369.94,282.58 350.60,274.13 344.27,275.60" fill="#fff"/>
<line x1="363.61" y1="284.08" x2="369.94" y2="282.58" stroke="#3e26a8"/>
<line x1="369.94" y1="282.58" x2="350.60" y2="274.13" stroke="#3e26a8"/>
<line x1="344.27" y1="275.60" x2="350.60" y2="274.13" stroke="#3e26a8"/>
<line x1="363.61" y1="284.08" x2="344.27" y2="275.60" stroke="#3e26a8"/>
<polygon points="153.31,217.78 159.64,226.00 140.31,210.42 133.98,200.95" fill="#fff"/>
<line x1="153.31" y1="217.78" x2="159.64" y2="226.00" stroke="#20a5e3"/>
<line x1="159.64" y1="226.00" x2="140.31" y2="210.42" stroke="#2b91ef"/>
<line x1="133.98" y1="200.95" x2="140.31" y2="210.42" stroke="#12b1d6"/>
<line x1="153.31" y1="217.78" x2="133.98" y2="200.95" stroke="#20a5e3"/>
<polygon points="414.60,284.81 420.93,283.24 401.60,274.88 395.26,276.44" fill="#fff"/>
<line x1="414.60" y1="284.81" x2="420.93" y2="283.24" stroke="#3e26a8"/>
<line x1="420.93" y1="283.24" x2="401.60" y2="274.88" stroke="#3e26a8"/>
<line x1="395.26" y1="276.44" x2="401.60" y2="274.88" stroke="#3e26a8"/>
<line x1="414.60" y1="284.81" x2="395.26" y2="276.44" stroke="#3e26a8"/>
<polygon points="204.30,259.88 210.63,262.44 191.30,250.94 184.97,247.75" fill="#fff"/>
<line x1="204.30" y1="259.88" x2="210.63" y2="262.44" stroke="#4852f4"/>
<line x1="210.63" y1="262.44" x2="191.30" y2="250.94" stroke="#4747eb"/>
<line x1="184.97" y1="247.75" x2="191.30" y2="250.94" stroke="#4758f8"/>
<line x1="204.30" y1="259.88" x2="184.97" y2="247.75" stroke="#4852f4"/>
<polygon points="465.59,285.25 471.92,283.65 452.59,275.32 446.25,276.91" fill="#fff"/>
<line x1="465.59" y1="285.25" x2="471.92" y2="283.65" stroke="#3e26a8"/>
<line x1="471.92" y1="283.65" x2="452.59" y2="275.32" stroke="#3e26a8"/>
<line x1="446.25" y1="276.91" x2="452.59" y2="275.32" stroke="#3e26a8"/>
<line x1="465.59" y1="285.25" x2="446.25" y2="276.91" stroke="#3e26a8"/>
<polygon points="255.29,277.12 261.62,277.02 242.29,267.44 235.96,267.26" fill="#fff"/>
<line x1="255.29" y1="277.12" x2="261.62" y2="277.02" stroke="#4332cb"/>
<line x1="261.62" y1="277.02" x2="242.29" y2="267.44" stroke="#422ec0"/>
<line x1="235.96" y1="267.26" x2="242.29" y2="267.44" stroke="#4332cb"/>
<line x1="255.29" y1="277.12" x2="235.96" y2="267.26" stroke="#4332cb"/>
<polygon points="306.28,283.38 312.62,282.26 293.28,273.47 286.95,274.49" fill="#fff"/>
<line x1="306.28" y1="283.38" x2="312.62" y2="282.26" stroke="#3e26a8"/>
<line x1="312.62" y1="282.26" x2="293.28" y2="273.47" stroke="#3e26a8"/>
<line x1="286.95" y1="274.49" x2="293.28" y2="273.47" stroke="#402ab4"/>
<line x1="306.28" y1="283.38" x2="286.95" y2="274.49" stroke="#3e26a8"/>
<polygon points="357.28,285.55 363.61,284.08 344.27,275.60 337.94,277.03" fill="#fff"/>
<line x1="357.28" y1="285.55" x2="363.61" y2="284.08" stroke="#3e26a8"/>
<line x1="363.61" y1="284.08" x2="344.27" y2="275.60" stroke="#3e26a8"/>
<line x1="337.94" y1="277.03" x2="344.27" y2="275.60" stroke="#3e26a8"/>
<line x1="357.28" y1="285.55" x2="337.94" y2="277.03" stroke="#3e26a8"/>
<polygon points="146.98,208.21 153.31,217.78 133.98,200.95 127.64,189.97" fill="#fff"/>
<line x1="146.98" y1="208.21" x2="153.31" y2="217.78" stroke="#08b5d0"/>
<line x1="153.31" y1="217.78" x2="133.98" y2="200.95" stroke="#20a5e3"/>
<line x1="127.64" y1="189.97" x2="133.98" y2="200.95" stroke="#0bbdbd"/>
<line x1="146.98" y1="208.21" x2="127.64" y2="189.97" stroke="#08b5d0"/>
<polygon points="408.27,286.38 414.60,284.81 395.26,276.44 388.93,277.99" fill="#fff"/>
<line x1="408.27" y1="286.38" x2="414.60" y2="284.81" stroke="#3e26a8"/>
<line x1="414.60" y1="284.81" x2="395.26" y2="276.44" stroke="#3e26a8"/>
<line x1="388.93" y1="277.99" x2="395.26" y2="276.44" stroke="#3e26a8"/>
<line x1="408.27" y1="286.38" x2="388.93" y2="277.99" stroke="#3e26a8"/>
<polygon points="197.97,256.62 204.30,259.88 184.97,247.75 178.64,243.77" fill="#fff"/>
<line x1="197.97" y1="256.62" x2="204.30" y2="259.88" stroke="#4758f8"/>
<line x1="204.30" y1="259.88" x2="184.97" y2="247.75" stroke="#4852f4"/>
<line x1="178.64" y1="243.77" x2="184.97" y2="247.75" stroke="#4563fd"/>
<line x1="197.97" y1="256.62" x2="178.64" y2="243.77" stroke="#4758f8"/>
<polygon points="459.26,286.84 465.59,285.25 446.25,276.91 439.92,278.50" fill="#fff"/>
<line x1="459.26" y1="286.84" x2="465.59" y2="285.25" stroke="#3e26a8"/>
<line x1="465.59" y1="285.25" x2="446.25" y2="276.91" stroke="#3e26a8"/>
<line x1="439.92" y1="278.50" x2="446.25" y2="276.91" stroke="#3e26a8"/>
<line x1="459.26" y1="286.84" x2="439.92" y2="278.50" stroke="#3e26a8"/>
<polygon points="248.96,276.91 255.29,277.12 235.96,267.26 229.63,266.73" fill="#fff"/>
<line x1="248.96" y1="276.91" x2="255.29" y2="277.12" stroke="#4332cb"/>
<line x1="255.29" y1="277.12" x2="235.96" y2="267.26" stroke="#4332cb"/>
<line x1="229.63" y1="266.73" x2="235.96" y2="267.26" stroke="#4537d5"/>
<line x1="248.96" y1="276.91" x2="229.63" y2="266.73" stroke="#4332cb"/>
<polygon points="299.95,284.41 306.28,283.38 286.95,274.49 280.62,275.38" fill="#fff"/>
<line x1="299.95" y1="284.41" x2="306.28" y2="283.38" stroke="#402ab4"/>
<line x1="306.28" y1="283.38" x2="286.95" y2="274.49" stroke="#3e26a8"/>
<line x1="280.62" y1="275.38" x2="286.95" y2="274.49" stroke="#402ab4"/>
<line x1="299.95" y1="284.41" x2="280.62" y2="275.38" stroke="#402ab4"/>
<polygon points="350.94,286.99 357.28,285.55 337.94,277.03 331.61,278.42" fill="#fff"/>
<line x1="350.94" y1="286.99" x2="357.28" y2="285.55" stroke="#3e26a8"/>
<line x1="357.28" y1="285.55" x2="337.94" y2="277.03" stroke="#3e26a8"/>
<line x1="331.61" y1="278.42" x2="337.94" y2="277.03" stroke="#3e26a8"/>
<line x1="350.94" y1="286.99" x2="331.61" y2="278.42" stroke="#3e26a8"/>
<polygon points="140.65,197.18 146.98,208.21 127.64,189.97 121.31,177.34" fill="#fff"/>
<line x1="140.65" y1="197.18" x2="146.98" y2="208.21" stroke="#19bfb6"/>
<line x1="146.98" y1="208.21" x2="127.64" y2="189.97" stroke="#08b5d0"/>
<line x1="121.31" y1="177.34" x2="127.64" y2="189.97" stroke="#37c897"/>
<line x1="140.65" y1="197.18" x2="121.31" y2="177.34" stroke="#19bfb6"/>
<polygon points="401.94,287.94 408.27,286.38 388.93,277.99 382.60,279.54" fill="#fff"/>
<line x1="401.94" y1="287.94" x2="408.27" y2="286.38" stroke="#3e26a8"/>
<line x1="408.27" y1="286.38" x2="388.93" y2="277.99" stroke="#3e26a8"/>
<line x1="382.60" y1="279.54" x2="388.93" y2="277.99" stroke="#3e26a8"/>
<line x1="401.94" y1="287.94" x2="382.60" y2="279.54" stroke="#3e26a8"/>
<polygon points="191.64,252.59 197.97,256.62 178.64,243.77 172.30,238.89" fill="#fff"/>
<line x1="191.64" y1="252.59" x2="197.97" y2="256.62" stroke="#4563fd"/>
<line x1="197.97" y1="256.62" x2="178.64" y2="243.77" stroke="#4758f8"/>
<line x1="172.30" y1="238.89" x2="178.64" y2="243.77" stroke="#3e6fff"/>
<line x1="191.64" y1="252.59" x2="172.30" y2="238.89" stroke="#4563fd"/>
<polygon points="452.93,288.43 459.26,286.84 439.92,278.50 433.59,280.08" fill="#fff"/>
<line x1="452.93" y1="288.43" x2="459.26" y2="286.84" stroke="#3e26a8"/>
<line x1="459.26" y1="286.84" x2="439.92" y2="278.50" stroke="#3e26a8"/>
<line x1="433.59" y1="280.08" x2="439.92" y2="278.50" stroke="#3e26a8"/>
<line x1="452.93" y1="288.43" x2="433.59" y2="280.08" stroke="#3e26a8"/>
<polygon points="242.63,276.37 248.96,276.91 229.63,266.73 223.30,265.79" fill="#fff"/>
<line x1="242.63" y1="276.37" x2="248.96" y2="276.91" stroke="#4537d5"/>
<line x1="248.96" y1="276.91" x2="229.63" y2="266.73" stroke="#4332cb"/>
<line x1="223.30" y1="265.79" x2="229.63" y2="266.73" stroke="#463cde"/>
<line x1="242.63" y1="276.37" x2="223.30" y2="265.79" stroke="#4537d5"/>
<polygon points="503.92,288.80 510.25,287.20 490.92,278.88 484.58,280.47" fill="#fff"/>
<line x1="503.92" y1="288.80" x2="510.25" y2="287.20" stroke="#3e26a8"/>
<line x1="510.25" y1="287.20" x2="490.92" y2="278.88" stroke="#3e26a8"/>
<line x1="484.58" y1="280.47" x2="490.92" y2="278.88" stroke="#3e26a8"/>
<line x1="503.92" y1="288.80" x2="484.58" y2="280.47" stroke="#3e26a8"/>
<polygon points="293.62,285.31 299.95,284.41 280.62,275.38 274.29,276.12" fill="#fff"/>
<line x1="293.62" y1="285.31" x2="299.95" y2="284.41" stroke="#402ab4"/>
<line x1="299.95" y1="284.41" x2="280.62" y2="275.38" stroke="#402ab4"/>
<line x1="274.29" y1="276.12" x2="280.62" y2="275.38" stroke="#402ab4"/>
<line x1="293.62" y1="285.31" x2="274.29" y2="276.12" stroke="#402ab4"/>
<polygon points="344.61,288.39 350.94,286.99 331.61,278.42 325.28,279.76" fill="#fff"/>
<line x1="344.61" y1="288.39" x2="350.94" y2="286.99" stroke="#3e26a8"/>
<line x1="350.94" y1="286.99" x2="331.61" y2="278.42" stroke="#3e26a8"/>
<line x1="325.28" y1="279.76" x2="331.61" y2="278.42" stroke="#3e26a8"/>
<line x1="344.61" y1="288.39" x2="325.28" y2="279.76" stroke="#3e26a8"/>
<polygon points="134.32,184.57 140.65,197.18 121.31,177.34 114.98,162.94" fill="#fff"/>
<line x1="134.32" y1="184.57" x2="140.65" y2="197.18" stroke="#3fca8e"/>
<line x1="140.65" y1="197.18" x2="121.31" y2="177.34" stroke="#19bfb6"/>
<line x1="114.98" y1="162.94" x2="121.31" y2="177.34" stroke="#81cc59"/>
<line x1="134.32" y1="184.57" x2="114.98" y2="162.94" stroke="#3fca8e"/>
<polygon points="395.60,289.49 401.94,287.94 382.60,279.54 376.27,281.07" fill="#fff"/>
<line x1="395.60" y1="289.49" x2="401.94" y2="287.94" stroke="#3e26a8"/>
<line x1="401.94" y1="287.94" x2="382.60" y2="279.54" stroke="#3e26a8"/>
<line x1="376.27" y1="281.07" x2="382.60" y2="279.54" stroke="#3e26a8"/>
<line x1="395.60" y1="289.49" x2="376.27" y2="281.07" stroke="#3e26a8"/>
<polygon points="185.31,247.68 191.64,252.59 172.30,238.89 165.97,233.00" fill="#fff"/>
<line x1="185.31" y1="247.68" x2="191.64" y2="252.59" stroke="#3875fe"/>
<line x1="191.64" y1="252.59" x2="172.30" y2="238.89" stroke="#4563fd"/>
<line x1="165.97" y1="233.00" x2="172.30" y2="238.89" stroke="#2f81fa"/>
<line x1="185.31" y1="247.68" x2="165.97" y2="233.00" stroke="#3875fe"/>
<polygon points="446.60,290.02 452.93,288.43 433.59,280.08 427.26,281.66" fill="#fff"/>
<line x1="446.60" y1="290.02" x2="452.93" y2="288.43" stroke="#3e26a8"/>
<line x1="452.93" y1="288.43" x2="433.59" y2="280.08" stroke="#3e26a8"/>
<line x1="427.26" y1="281.66" x2="433.59" y2="280.08" stroke="#3e26a8"/>
<line x1="446.60" y1="290.02" x2="427.26" y2="281.66" stroke="#3e26a8"/>
<polygon points="236.30,275.42 242.63,276.37 223.30,265.79 216.97,264.38" fill="#fff"/>
<line x1="236.30" y1="275.42" x2="242.63" y2="276.37" stroke="#463cde"/>
<line x1="242.63" y1="276.37" x2="223.30" y2="265.79" stroke="#4537d5"/>
<line x1="216.97" y1="264.38" x2="223.30" y2="265.79" stroke="#4741e5"/>
<line x1="236.30" y1="275.42" x2="216.97" y2="264.38" stroke="#463cde"/>
<polygon points="497.59,290.39 503.92,288.80 484.58,280.47 478.25,282.06" fill="#fff"/>
<line x1="497.59" y1="290.39" x2="503.92" y2="288.80" stroke="#3e26a8"/>
<line x1="503.92" y1="288.80" x2="484.58" y2="280.47" stroke="#3e26a8"/>
<line x1="478.25" y1="282.06" x2="484.58" y2="280.47" stroke="#3e26a8"/>
<line x1="497.59" y1="290.39" x2="478.25" y2="282.06" stroke="#3e26a8"/>
<polygon points="287.29,286.06 293.62,285.31 274.29,276.12 267.96,276.68" fill="#fff"/>
<line x1="287.29" y1="286.06" x2="293.62" y2="285.31" stroke="#402ab4"/>
<line x1="293.62" y1="285.31" x2="274.29" y2="276.12" stroke="#402ab4"/>
<line x1="267.96" y1="276.68" x2="274.29" y2="276.12" stroke="#422ec0"/>
<line x1="287.29" y1="286.06" x2="267.96" y2="276.68" stroke="#402ab4"/>
<polygon points="338.28,289.75 344.61,288.39 325.28,279.76 318.95,281.04" fill="#fff"/>
<line x1="338.28" y1="289.75" x2="344.61" y2="288.39" stroke="#3e26a8"/>
<line x1="344.61" y1="288.39" x2="325.28" y2="279.76" stroke="#3e26a8"/>
<line x1="318.95" y1="281.04" x2="325.28" y2="279.76" stroke="#3e26a8"/>
<line x1="338.28" y1="289.75" x2="318.95" y2="281.04" stroke="#3e26a8"/>
<polygon points="127.99,170.57 134.32,184.57 114.98,162.94 108.65,147.07" fill="#fff"/>
<line x1="127.99" y1="170.57" x2="134.32" y2="184.57" stroke="#8fcb4e"/>
<line x1="134.32" y1="184.57" x2="114.98" y2="162.94" stroke="#3fca8e"/>
<line x1="108.65" y1="147.07" x2="114.98" y2="162.94" stroke="#d1bf27"/>
<line x1="127.99" y1="170.57" x2="108.65" y2="147.07" stroke="#8fcb4e"/>
<polygon points="389.27,291.03 395.60,289.49 376.27,281.07 369.94,282.58" fill="#fff"/>
<line x1="389.27" y1="291.03" x2="395.60" y2="289.49" stroke="#3e26a8"/>
<line x1="395.60" y1="289.49" x2="376.27" y2="281.07" stroke="#3e26a8"/>
<line x1="369.94" y1="282.58" x2="376.27" y2="281.07" stroke="#3e26a8"/>
<line x1="389.27" y1="291.03" x2="369.94" y2="282.58" stroke="#3e26a8"/>
<polygon points="178.98,241.80 185.31,247.68 165.97,233.00 159.64,226.00" fill="#fff"/>
<line x1="178.98" y1="241.80" x2="185.31" y2="247.68" stroke="#2f81fa"/>
<line x1="185.31" y1="247.68" x2="165.97" y2="233.00" stroke="#3875fe"/>
<line x1="159.64" y1="226.00" x2="165.97" y2="233.00" stroke="#2b91ef"/>
<line x1="178.98" y1="241.80" x2="159.64" y2="226.00" stroke="#2f81fa"/>
<polygon points="440.27,291.60 446.60,290.02 427.26,281.66 420.93,283.24" fill="#fff"/>
<line x1="440.27" y1="291.60" x2="446.60" y2="290.02" stroke="#3e26a8"/>
<line x1="446.60" y1="290.02" x2="427.26" y2="281.66" stroke="#3e26a8"/>
<line x1="420.93" y1="283.24" x2="427.26" y2="281.66" stroke="#3e26a8"/>
<line x1="440.27" y1="291.60" x2="420.93" y2="283.24" stroke="#3e26a8"/>
<polygon points="229.97,274.03 236.30,275.42 216.97,264.38 210.63,262.44" fill="#fff"/>
<line x1="229.97" y1="274.03" x2="236.30" y2="275.42" stroke="#4741e5"/>
<line x1="236.30" y1="275.42" x2="216.97" y2="264.38" stroke="#463cde"/>
<line x1="210.63" y1="262.44" x2="216.97" y2="264.38" stroke="#4747eb"/>
<line x1="229.97" y1="274.03" x2="210.63" y2="262.44" stroke="#4741e5"/>
<polygon points="491.26,291.99 497.59,290.39 478.25,282.06 471.92,283.65" fill="#fff"/>
<line x1="491.26" y1="291.99" x2="497.59" y2="290.39" stroke="#3e26a8"/>
<line x1="497.59" y1="290.39" x2="478.25" y2="282.06" stroke="#3e26a8"/>
<line x1="471.92" y1="283.65" x2="478.25" y2="282.06" stroke="#3e26a8"/>
<line x1="491.26" y1="291.99" x2="471.92" y2="283.65" stroke="#3e26a8"/>
<polygon points="280.96,286.64 287.29,286.06 267.96,276.68 261.62,277.02" fill="#fff"/>
<line x1="280.96" y1="286.64" x2="287.29" y2="286.06" stroke="#422ec0"/>
<line x1="287.29" y1="286.06" x2="267.96" y2="276.68" stroke="#402ab4"/>
<line x1="261.62" y1="277.02" x2="267.96" y2="276.68" stroke="#422ec0"/>
<line x1="280.96" y1="286.64" x2="261.62" y2="277.02" stroke="#422ec0"/>
<polygon points="331.95,291.05 338.28,289.75 318.95,281.04 312.62,282.26" fill="#fff"/>
<line x1="331.95" y1="291.05" x2="338.28" y2="289.75" stroke="#3e26a8"/>
<line x1="338.28" y1="289.75" x2="318.95" y2="281.04" stroke="#3e26a8"/>
<line x1="312.62" y1="282.26" x2="318.95" y2="281.04" stroke="#3e26a8"/>
<line x1="331.95" y1="291.05" x2="312.62" y2="282.26" stroke="#3e26a8"/>
<polygon points="121.66,160.93 127.99,170.57 108.65,147.07 102.32,136.46" fill="#fff"/>
<line x1="121.66" y1="160.93" x2="127.99" y2="170.57" stroke="#c5c22a"/>
<line x1="127.99" y1="170.57" x2="108.65" y2="147.07" stroke="#8fcb4e"/>
<line x1="102.32" y1="136.46" x2="108.65" y2="147.07" stroke="#febe3c"/>
<line x1="121.66" y1="160.93" x2="102.32" y2="136.46" stroke="#c5c22a"/>
<polygon points="382.94,292.56 389.27,291.03 369.94,282.58 363.61,284.08" fill="#fff"/>
<line x1="382.94" y1="292.56" x2="389.27" y2="291.03" stroke="#3e26a8"/>
<line x1="389.27" y1="291.03" x2="369.94" y2="282.58" stroke="#3e26a8"/>
<line x1="363.61" y1="284.08" x2="369.94" y2="282.58" stroke="#3e26a8"/>
<line x1="382.94" y1="292.56" x2="363.61" y2="284.08" stroke="#3e26a8"/>
<polygon points="172.65,234.85 178.98,241.80 159.64,226.00 153.31,217.78" fill="#fff"/>
<line x1="172.65" y1="234.85" x2="178.98" y2="241.80" stroke="#2b91ef"/>
<line x1="178.98" y1="241.80" x2="159.64" y2="226.00" stroke="#2f81fa"/>
<line x1="153.31" y1="217.78" x2="159.64" y2="226.00" stroke="#20a5e3"/>
<line x1="172.65" y1="234.85" x2="153.31" y2="217.78" stroke="#2b91ef"/>
<polygon points="433.93,293.19 440.27,291.60 420.93,283.24 414.60,284.81" fill="#fff"/>
<line x1="433.93" y1="293.19" x2="440.27" y2="291.60" stroke="#3e26a8"/>
<line x1="440.27" y1="291.60" x2="420.93" y2="283.24" stroke="#3e26a8"/>
<line x1="414.60" y1="284.81" x2="420.93" y2="283.24" stroke="#3e26a8"/>
<line x1="433.93" y1="293.19" x2="414.60" y2="284.81" stroke="#3e26a8"/>
<polygon points="223.64,272.11 229.97,274.03 210.63,262.44 204.30,259.88" fill="#fff"/>
<line x1="223.64" y1="272.11" x2="229.97" y2="274.03" stroke="#4747eb"/>
<line x1="229.97" y1="274.03" x2="210.63" y2="262.44" stroke="#4741e5"/>
<line x1="204.30" y1="259.88" x2="210.63" y2="262.44" stroke="#4852f4"/>
<line x1="223.64" y1="272.11" x2="204.30" y2="259.88" stroke="#4747eb"/>
<polygon points="484.93,293.59 491.26,291.99 471.92,283.65 465.59,285.25" fill="#fff"/>
<line x1="484.93" y1="293.59" x2="491.26" y2="291.99" stroke="#3e26a8"/>
<line x1="491.26" y1="291.99" x2="471.92" y2="283.65" stroke="#3e26a8"/>
<line x1="465.59" y1="285.25" x2="471.92" y2="283.65" stroke="#3e26a8"/>
<line x1="484.93" y1="293.59" x2="465.59" y2="285.25" stroke="#3e26a8"/>
<polygon points="274.63,287.02 280.96,286.64 261.62,277.02 255.29,277.12" fill="#fff"/>
<line x1="274.63" y1="287.02" x2="280.96" y2="286.64" stroke="#422ec0"/>
<line x1="280.96" y1="286.64" x2="261.62" y2="277.02" stroke="#422ec0"/>
<line x1="255.29" y1="277.12" x2="261.62" y2="277.02" stroke="#4332cb"/>
<line x1="274.63" y1="287.02" x2="255.29" y2="277.12" stroke="#422ec0"/>
<polygon points="325.62,292.29 331.95,291.05 312.62,282.26 306.28,283.38" fill="#fff"/>
<line x1="325.62" y1="292.29" x2="331.95" y2="291.05" stroke="#3e26a8"/>
<line x1="331.95" y1="291.05" x2="312.62" y2="282.26" stroke="#3e26a8"/>
<line x1="306.28" y1="283.38" x2="312.62" y2="282.26" stroke="#3e26a8"/>
<line x1="325.62" y1="292.29" x2="306.28" y2="283.38" stroke="#3e26a8"/>
<polygon points="376.61,294.07 382.94,292.56 363.61,284.08 357.28,285.55" fill="#fff"/>
<line x1="376.61" y1="294.07" x2="382.94" y2="292.56" stroke="#3e26a8"/>
<line x1="382.94" y1="292.56" x2="363.61" y2="284.08" stroke="#3e26a8"/>
<line x1="357.28" y1="285.55" x2="363.61" y2="284.08" stroke="#3e26a8"/>
<line x1="376.61" y1="294.07" x2="357.28" y2="285.55" stroke="#3e26a8"/>
<polygon points="166.31,226.74 172.65,234.85 153.31,217.78 146.98,208.21" fill="#fff"/>
<line x1="166.31" y1="226.74" x2="172.65" y2="234.85" stroke="#20a5e3"/>
<line x1="172.65" y1="234.85" x2="153.31" y2="217.78" stroke="#2b91ef"/>
<line x1="146.98" y1="208.21" x2="153.31" y2="217.78" stroke="#08b5d0"/>
<line x1="166.31" y1="226.74" x2="146.98" y2="208.21" stroke="#20a5e3"/>
<polygon points="427.60,294.77 433.93,293.19 414.60,284.81 408.27,286.38" fill="#fff"/>
<line x1="427.60" y1="294.77" x2="433.93" y2="293.19" stroke="#3e26a8"/>
<line x1="433.93" y1="293.19" x2="414.60" y2="284.81" stroke="#3e26a8"/>
<line x1="408.27" y1="286.38" x2="414.60" y2="284.81" stroke="#3e26a8"/>
<line x1="427.60" y1="294.77" x2="408.27" y2="286.38" stroke="#3e26a8"/>
<polygon points="217.31,269.61 223.64,272.11 204.30,259.88 197.97,256.62" fill="#fff"/>
<line x1="217.31" y1="269.61" x2="223.64" y2="272.11" stroke="#4852f4"/>
<line x1="223.64" y1="272.11" x2="204.30" y2="259.88" stroke="#4747eb"/>
<line x1="197.97" y1="256.62" x2="204.30" y2="259.88" stroke="#4758f8"/>
<line x1="217.31" y1="269.61" x2="197.97" y2="256.62" stroke="#4852f4"/>
<polygon points="478.59,295.18 484.93,293.59 465.59,285.25 459.26,286.84" fill="#fff"/>
<line x1="478.59" y1="295.18" x2="484.93" y2="293.59" stroke="#3e26a8"/>
<line x1="484.93" y1="293.59" x2="465.59" y2="285.25" stroke="#3e26a8"/>
<line x1="459.26" y1="286.84" x2="465.59" y2="285.25" stroke="#3e26a8"/>
<line x1="478.59" y1="295.18" x2="459.26" y2="286.84" stroke="#3e26a8"/>
<polygon points="268.30,287.16 274.63,287.02 255.29,277.12 248.96,276.91" fill="#fff"/>
<line x1="268.30" y1="287.16" x2="274.63" y2="287.02" stroke="#422ec0"/>
<line x1="274.63" y1="287.02" x2="255.29" y2="277.12" stroke="#422ec0"/>
<line x1="248.96" y1="276.91" x2="255.29" y2="277.12" stroke="#4332cb"/>
<line x1="268.30" y1="287.16" x2="248.96" y2="276.91" stroke="#422ec0"/>
<polygon points="319.29,293.45 325.62,292.29 306.28,283.38 299.95,284.41" fill="#fff"/>
<line x1="319.29" y1="293.45" x2="325.62" y2="292.29" stroke="#3e26a8"/>
<line x1="325.62" y1="292.29" x2="306.28" y2="283.38" stroke="#3e26a8"/>
<line x1="299.95" y1="284.41" x2="306.28" y2="283.38" stroke="#402ab4"/>
<line x1="319.29" y1="293.45" x2="299.95" y2="284.41" stroke="#3e26a8"/>
<polygon points="370.28,295.56 376.61,294.07 357.28,285.55 350.94,286.99" fill="#fff"/>
<line x1="370.28" y1="295.56" x2="376.61" y2="294.07" stroke="#3e26a8"/>
<line x1="376.61" y1="294.07" x2="357.28" y2="285.55" stroke="#3e26a8"/>
<line x1="350.94" y1="286.99" x2="357.28" y2="285.55" stroke="#3e26a8"/>
<line x1="370.28" y1="295.56" x2="350.94" y2="286.99" stroke="#3e26a8"/>
<polygon points="159.98,217.36 166.31,226.74 146.98,208.21 140.65,197.18" fill="#fff"/>
<line x1="159.98" y1="217.36" x2="166.31" y2="226.74" stroke="#08b5d0"/>
<line x1="166.31" y1="226.74" x2="146.98" y2="208.21" stroke="#20a5e3"/>
<line x1="140.65" y1="197.18" x2="146.98" y2="208.21" stroke="#19bfb6"/>
<line x1="159.98" y1="217.36" x2="140.65" y2="197.18" stroke="#08b5d0"/>
<polygon points="421.27,296.35 427.60,294.77 408.27,286.38 401.94,287.94" fill="#fff"/>
<line x1="421.27" y1="296.35" x2="427.60" y2="294.77" stroke="#3e26a8"/>
<line x1="427.60" y1="294.77" x2="408.27" y2="286.38" stroke="#3e26a8"/>
<line x1="401.94" y1="287.94" x2="408.27" y2="286.38" stroke="#3e26a8"/>
<line x1="421.27" y1="296.35" x2="401.94" y2="287.94" stroke="#3e26a8"/>
<polygon points="210.97,266.44 217.31,269.61 197.97,256.62 191.64,252.59" fill="#fff"/>
<line x1="210.97" y1="266.44" x2="217.31" y2="269.61" stroke="#4758f8"/>
<line x1="217.31" y1="269.61" x2="197.97" y2="256.62" stroke="#4852f4"/>
<line x1="191.64" y1="252.59" x2="197.97" y2="256.62" stroke="#4563fd"/>
<line x1="210.97" y1="266.44" x2="191.64" y2="252.59" stroke="#4758f8"/>
<polygon points="472.26,296.78 478.59,295.18 459.26,286.84 452.93,288.43" fill="#fff"/>
<line x1="472.26" y1="296.78" x2="478.59" y2="295.18" stroke="#3e26a8"/>
<line x1="478.59" y1="295.18" x2="459.26" y2="286.84" stroke="#3e26a8"/>
<line x1="452.93" y1="288.43" x2="459.26" y2="286.84" stroke="#3e26a8"/>
<line x1="472.26" y1="296.78" x2="452.93" y2="288.43" stroke="#3e26a8"/>
<polygon points="261.97,287.01 268.30,287.16 248.96,276.91 242.63,276.37" fill="#fff"/>
<line x1="261.97" y1="287.01" x2="268.30" y2="287.16" stroke="#4332cb"/>
<line x1="268.30" y1="287.16" x2="248.96" y2="276.91" stroke="#422ec0"/>
<line x1="242.63" y1="276.37" x2="248.96" y2="276.91" stroke="#4537d5"/>
<line x1="261.97" y1="287.01" x2="242.63" y2="276.37" stroke="#4332cb"/>
<polygon points="312.96,294.52 319.29,293.45 299.95,284.41 293.62,285.31" fill="#fff"/>
<line x1="312.96" y1="294.52" x2="319.29" y2="293.45" stroke="#402ab4"/>
<line x1="319.29" y1="293.45" x2="299.95" y2="284.41" stroke="#3e26a8"/>
<line x1="293.62" y1="285.31" x2="299.95" y2="284.41" stroke="#402ab4"/>
<line x1="312.96" y1="294.52" x2="293.62" y2="285.31" stroke="#402ab4"/>
<polygon points="363.95,297.03 370.28,295.56 350.94,286.99 344.61,288.39" fill="#fff"/>
<line x1="363.95" y1="297.03" x2="370.28" y2="295.56" stroke="#3e26a8"/>
<line x1="370.28" y1="295.56" x2="350.94" y2="286.99" stroke="#3e26a8"/>
<line x1="344.61" y1="288.39" x2="350.94" y2="286.99" stroke="#3e26a8"/>
<line x1="363.95" y1="297.03" x2="344.61" y2="288.39" stroke="#3e26a8"/>
<polygon points="153.65,206.61 159.98,217.36 140.65,197.18 134.32,184.57" fill="#fff"/>
<line x1="153.65" y1="206.61" x2="159.98" y2="217.36" stroke="#19bfb6"/>
<line x1="159.98" y1="217.36" x2="140.65" y2="197.18" stroke="#08b5d0"/>
<line x1="134.32" y1="184.57" x2="140.65" y2="197.18" stroke="#3fca8e"/>
<line x1="153.65" y1="206.61" x2="134.32" y2="184.57" stroke="#19bfb6"/>
<polygon points="414.94,297.92 421.27,296.35 401.94,287.94 395.60,289.49" fill="#fff"/>
<line x1="414.94" y1="297.92" x2="421.27" y2="296.35" stroke="#3e26a8"/>
<line x1="421.27" y1="296.35" x2="401.94" y2="287.94" stroke="#3e26a8"/>
<line x1="395.60" y1="289.49" x2="401.94" y2="287.94" stroke="#3e26a8"/>
<line x1="414.94" y1="297.92" x2="395.60" y2="289.49" stroke="#3e26a8"/>
<polygon points="204.64,262.54 210.97,266.44 191.64,252.59 185.31,247.68" fill="#fff"/>
<line x1="204.64" y1="262.54" x2="210.97" y2="266.44" stroke="#4563fd"/>
<line x1="210.97" y1="266.44" x2="191.64" y2="252.59" stroke="#4758f8"/>
<line x1="185.31" y1="247.68" x2="191.64" y2="252.59" stroke="#3875fe"/>
<line x1="204.64" y1="262.54" x2="185.31" y2="247.68" stroke="#4563fd"/>
<polygon points="465.93,298.37 472.26,296.78 452.93,288.43 446.60,290.02" fill="#fff"/>
<line x1="465.93" y1="298.37" x2="472.26" y2="296.78" stroke="#3e26a8"/>
<line x1="472.26" y1="296.78" x2="452.93" y2="288.43" stroke="#3e26a8"/>
<line x1="446.60" y1="290.02" x2="452.93" y2="288.43" stroke="#3e26a8"/>
<line x1="465.93" y1="298.37" x2="446.60" y2="290.02" stroke="#3e26a8"/>
<polygon points="255.64,286.55 261.97,287.01 242.63,276.37 236.30,275.42" fill="#fff"/>
<line x1="255.64" y1="286.55" x2="261.97" y2="287.01" stroke="#4537d5"/>
<line x1="261.97" y1="287.01" x2="242.63" y2="276.37" stroke="#4332cb"/>
<line x1="236.30" y1="275.42" x2="242.63" y2="276.37" stroke="#463cde"/>
<line x1="255.64" y1="286.55" x2="236.30" y2="275.42" stroke="#4537d5"/>
<polygon points="306.63,295.48 312.96,294.52 293.62,285.31 287.29,286.06" fill="#fff"/>
<line x1="306.63" y1="295.48" x2="312.96" y2="294.52" stroke="#402ab4"/>
<line x1="312.96" y1="294.52" x2="293.62" y2="285.31" stroke="#402ab4"/>
<line x1="287.29" y1="286.06" x2="293.62" y2="285.31" stroke="#402ab4"/>
<line x1="306.63" y1="295.48" x2="287.29" y2="286.06" stroke="#402ab4"/>
<polygon points="357.62,298.46 363.95,297.03 344.61,288.39 338.28,289.75" fill="#fff"/>
<line x1="357.62" y1="298.46" x2="363.95" y2="297.03" stroke="#3e26a8"/>
<line x1="363.95" y1="297.03" x2="344.61" y2="288.39" stroke="#3e26a8"/>
<line x1="338.28" y1="289.75" x2="344.61" y2="288.39" stroke="#3e26a8"/>
<line x1="357.62" y1="298.46" x2="338.28" y2="289.75" stroke="#3e26a8"/>
<polygon points="147.32,194.56 153.65,206.61 134.32,184.57 127.99,170.57" fill="#fff"/>
<line x1="147.32" y1="194.56" x2="153.65" y2="206.61" stroke="#3fca8e"/>
<line x1="153.65" y1="206.61" x2="134.32" y2="184.57" stroke="#19bfb6"/>
<line x1="127.99" y1="170.57" x2="134.32" y2="184.57" stroke="#8fcb4e"/>
<line x1="147.32" y1="194.56" x2="127.99" y2="170.57" stroke="#3fca8e"/>
<polygon points="408.61,299.49 414.94,297.92 395.60,289.49 389.27,291.03" fill="#fff"/>
<line x1="408.61" y1="299.49" x2="414.94" y2="297.92" stroke="#3e26a8"/>
<line x1="414.94" y1="297.92" x2="395.60" y2="289.49" stroke="#3e26a8"/>
<line x1="389.27" y1="291.03" x2="395.60" y2="289.49" stroke="#3e26a8"/>
<line x1="408.61" y1="299.49" x2="389.27" y2="291.03" stroke="#3e26a8"/>
<polygon points="198.31,257.82 204.64,262.54 185.31,247.68 178.98,241.80" fill="#fff"/>
<line x1="198.31" y1="257.82" x2="204.64" y2="262.54" stroke="#3875fe"/>
<line x1="204.64" y1="262.54" x2="185.31" y2="247.68" stroke="#4563fd"/>
<line x1="178.98" y1="241.80" x2="185.31" y2="247.68" stroke="#2f81fa"/>
<line x1="198.31" y1="257.82" x2="178.98" y2="241.80" stroke="#3875fe"/>
<polygon points="459.60,299.97 465.93,298.37 446.60,290.02 440.27,291.60" fill="#fff"/>
<line x1="459.60" y1="299.97" x2="465.93" y2="298.37" stroke="#3e26a8"/>
<line x1="465.93" y1="298.37" x2="446.60" y2="290.02" stroke="#3e26a8"/>
<line x1="440.27" y1="291.60" x2="446.60" y2="290.02" stroke="#3e26a8"/>
<line x1="459.60" y1="299.97" x2="440.27" y2="291.60" stroke="#3e26a8"/>
<polygon points="249.30,285.72 255.64,286.55 236.30,275.42 229.97,274.03" fill="#fff"/>
<line x1="249.30" y1="285.72" x2="255.64" y2="286.55" stroke="#463cde"/>
<line x1="255.64" y1="286.55" x2="236.30" y2="275.42" stroke="#4537d5"/>
<line x1="229.97" y1="274.03" x2="236.30" y2="275.42" stroke="#4741e5"/>
<line x1="249.30" y1="285.72" x2="229.97" y2="274.03" stroke="#463cde"/>
<polygon points="300.30,296.30 306.63,295.48 287.29,286.06 280.96,286.64" fill="#fff"/>
<line x1="300.30" y1="296.30" x2="306.63" y2="295.48" stroke="#402ab4"/>
<line x1="306.63" y1="295.48" x2="287.29" y2="286.06" stroke="#402ab4"/>
<line x1="280.96" y1="286.64" x2="287.29" y2="286.06" stroke="#422ec0"/>
<line x1="300.30" y1="296.30" x2="280.96" y2="286.64" stroke="#402ab4"/>
<polygon points="351.29,299.86 357.62,298.46 338.28,289.75 331.95,291.05" fill="#fff"/>
<line x1="351.29" y1="299.86" x2="357.62" y2="298.46" stroke="#3e26a8"/>
<line x1="357.62" y1="298.46" x2="338.28" y2="289.75" stroke="#3e26a8"/>
<line x1="331.95" y1="291.05" x2="338.28" y2="289.75" stroke="#3e26a8"/>
<line x1="351.29" y1="299.86" x2="331.95" y2="291.05" stroke="#3e26a8"/>
<polygon points="140.99,186.00 147.32,194.56 127.99,170.57 121.66,160.93" fill="#fff"/>
<line x1="140.99" y1="186.00" x2="147.32" y2="194.56" stroke="#72cd64"/>
<line x1="147.32" y1="194.56" x2="127.99" y2="170.57" stroke="#3fca8e"/>
<line x1="121.66" y1="160.93" x2="127.99" y2="170.57" stroke="#c5c22a"/>
<line x1="140.99" y1="186.00" x2="121.66" y2="160.93" stroke="#72cd64"/>
<polygon points="402.28,301.05 408.61,299.49 389.27,291.03 382.94,292.56" fill="#fff"/>
<line x1="402.28" y1="301.05" x2="408.61" y2="299.49" stroke="#3e26a8"/>
<line x1="408.61" y1="299.49" x2="389.27" y2="291.03" stroke="#3e26a8"/>
<line x1="382.94" y1="292.56" x2="389.27" y2="291.03" stroke="#3e26a8"/>
<line x1="402.28" y1="301.05" x2="382.94" y2="292.56" stroke="#3e26a8"/>
<polygon points="191.98,252.19 198.31,257.82 178.98,241.80 172.65,234.85" fill="#fff"/>
<line x1="191.98" y1="252.19" x2="198.31" y2="257.82" stroke="#2f81fa"/>
<line x1="198.31" y1="257.82" x2="178.98" y2="241.80" stroke="#3875fe"/>
<line x1="172.65" y1="234.85" x2="178.98" y2="241.80" stroke="#2b91ef"/>
<line x1="191.98" y1="252.19" x2="172.65" y2="234.85" stroke="#2f81fa"/>
<polygon points="453.27,301.57 459.60,299.97 440.27,291.60 433.93,293.19" fill="#fff"/>
<line x1="453.27" y1="301.57" x2="459.60" y2="299.97" stroke="#3e26a8"/>
<line x1="459.60" y1="299.97" x2="440.27" y2="291.60" stroke="#3e26a8"/>
<line x1="433.93" y1="293.19" x2="440.27" y2="291.60" stroke="#3e26a8"/>
<line x1="453.27" y1="301.57" x2="433.93" y2="293.19" stroke="#3e26a8"/>
<polygon points="242.97,284.46 249.30,285.72 229.97,274.03 223.64,272.11" fill="#fff"/>
<line x1="242.97" y1="284.46" x2="249.30" y2="285.72" stroke="#4741e5"/>
<line x1="249.30" y1="285.72" x2="229.97" y2="274.03" stroke="#463cde"/>
<line x1="223.64" y1="272.11" x2="229.97" y2="274.03" stroke="#4747eb"/>
<line x1="242.97" y1="284.46" x2="223.64" y2="272.11" stroke="#4741e5"/>
<polygon points="293.96,296.97 300.30,296.30 280.96,286.64 274.63,287.02" fill="#fff"/>
<line x1="293.96" y1="296.97" x2="300.30" y2="296.30" stroke="#402ab4"/>
<line x1="300.30" y1="296.30" x2="280.96" y2="286.64" stroke="#402ab4"/>
<line x1="274.63" y1="287.02" x2="280.96" y2="286.64" stroke="#422ec0"/>
<line x1="293.96" y1="296.97" x2="274.63" y2="287.02" stroke="#402ab4"/>
<polygon points="344.95,301.22 351.29,299.86 331.95,291.05 325.62,292.29" fill="#fff"/>
<line x1="344.95" y1="301.22" x2="351.29" y2="299.86" stroke="#3e26a8"/>
<line x1="351.29" y1="299.86" x2="331.95" y2="291.05" stroke="#3e26a8"/>
<line x1="325.62" y1="292.29" x2="331.95" y2="291.05" stroke="#3e26a8"/>
<line x1="344.95" y1="301.22" x2="325.62" y2="292.29" stroke="#3e26a8"/>
<polygon points="395.95,302.61 402.28,301.05 382.94,292.56 376.61,294.07" fill="#fff"/>
<line x1="395.95" y1="302.61" x2="402.28" y2="301.05" stroke="#3e26a8"/>
<line x1="402.28" y1="301.05" x2="382.94" y2="292.56" stroke="#3e26a8"/>
<line x1="376.61" y1="294.07" x2="382.94" y2="292.56" stroke="#3e26a8"/>
<line x1="395.95" y1="302.61" x2="376.61" y2="294.07" stroke="#3e26a8"/>
<polygon points="185.65,245.58 191.98,252.19 172.65,234.85 166.31,226.74" fill="#fff"/>
<line x1="185.65" y1="245.58" x2="191.98" y2="252.19" stroke="#2b91ef"/>
<line x1="191.98" y1="252.19" x2="172.65" y2="234.85" stroke="#2f81fa"/>
<line x1="166.31" y1="226.74" x2="172.65" y2="234.85" stroke="#20a5e3"/>
<line x1="185.65" y1="245.58" x2="166.31" y2="226.74" stroke="#2b91ef"/>
<polygon points="446.94,303.16 453.27,301.57 433.93,293.19 427.60,294.77" fill="#fff"/>
<line x1="446.94" y1="303.16" x2="453.27" y2="301.57" stroke="#3e26a8"/>
<line x1="453.27" y1="301.57" x2="433.93" y2="293.19" stroke="#3e26a8"/>
<line x1="427.60" y1="294.77" x2="433.93" y2="293.19" stroke="#3e26a8"/>
<line x1="446.94" y1="303.16" x2="427.60" y2="294.77" stroke="#3e26a8"/>
<polygon points="236.64,282.73 242.97,284.46 223.64,272.11 217.31,269.61" fill="#fff"/>
<line x1="236.64" y1="282.73" x2="242.97" y2="284.46" stroke="#4747eb"/>
<line x1="242.97" y1="284.46" x2="223.64" y2="272.11" stroke="#4741e5"/>
<line x1="217.31" y1="269.61" x2="223.64" y2="272.11" stroke="#4852f4"/>
<line x1="236.64" y1="282.73" x2="217.31" y2="269.61" stroke="#4747eb"/>
<polygon points="287.63,297.45 293.96,296.97 274.63,287.02 268.30,287.16" fill="#fff"/>
<line x1="287.63" y1="297.45" x2="293.96" y2="296.97" stroke="#422ec0"/>
<line x1="293.96" y1="296.97" x2="274.63" y2="287.02" stroke="#402ab4"/>
<line x1="268.30" y1="287.16" x2="274.63" y2="287.02" stroke="#422ec0"/>
<line x1="287.63" y1="297.45" x2="268.30" y2="287.16" stroke="#422ec0"/>
<polygon points="338.62,302.52 344.95,301.22 325.62,292.29 319.29,293.45" fill="#fff"/>
<line x1="338.62" y1="302.52" x2="344.95" y2="301.22" stroke="#3e26a8"/>
<line x1="344.95" y1="301.22" x2="325.62" y2="292.29" stroke="#3e26a8"/>
<line x1="319.29" y1="293.45" x2="325.62" y2="292.29" stroke="#3e26a8"/>
<line x1="338.62" y1="302.52" x2="319.29" y2="293.45" stroke="#3e26a8"/>
<polygon points="389.62,304.15 395.95,302.61 376.61,294.07 370.28,295.56" fill="#fff"/>
<line x1="389.62" y1="304.15" x2="395.95" y2="302.61" stroke="#3e26a8"/>
<line x1="395.95" y1="302.61" x2="376.61" y2="294.07" stroke="#3e26a8"/>
<line x1="370.28" y1="295.56" x2="376.61" y2="294.07" stroke="#3e26a8"/>
<line x1="389.62" y1="304.15" x2="370.28" y2="295.56" stroke="#3e26a8"/>
<polygon points="179.32,237.90 185.65,245.58 166.31,226.74 159.98,217.36" fill="#fff"/>
<line x1="179.32" y1="237.90" x2="185.65" y2="245.58" stroke="#23a0e5"/>
<line x1="185.65" y1="245.58" x2="166.31" y2="226.74" stroke="#2b91ef"/>
<line x1="159.98" y1="217.36" x2="166.31" y2="226.74" stroke="#08b5d0"/>
<line x1="179.32" y1="237.90" x2="159.98" y2="217.36" stroke="#23a0e5"/>
<polygon points="440.61,304.76 446.94,303.16 427.60,294.77 421.27,296.35" fill="#fff"/>
<line x1="440.61" y1="304.76" x2="446.94" y2="303.16" stroke="#3e26a8"/>
<line x1="446.94" y1="303.16" x2="427.60" y2="294.77" stroke="#3e26a8"/>
<line x1="421.27" y1="296.35" x2="427.60" y2="294.77" stroke="#3e26a8"/>
<line x1="440.61" y1="304.76" x2="421.27" y2="296.35" stroke="#3e26a8"/>
<polygon points="230.31,280.46 236.64,282.73 217.31,269.61 210.97,266.44" fill="#fff"/>
<line x1="230.31" y1="280.46" x2="236.64" y2="282.73" stroke="#484df0"/>
<line x1="236.64" y1="282.73" x2="217.31" y2="269.61" stroke="#4747eb"/>
<line x1="210.97" y1="266.44" x2="217.31" y2="269.61" stroke="#4758f8"/>
<line x1="230.31" y1="280.46" x2="210.97" y2="266.44" stroke="#484df0"/>
<polygon points="281.30,297.73 287.63,297.45 268.30,287.16 261.97,287.01" fill="#fff"/>
<line x1="281.30" y1="297.73" x2="287.63" y2="297.45" stroke="#422ec0"/>
<line x1="287.63" y1="297.45" x2="268.30" y2="287.16" stroke="#422ec0"/>
<line x1="261.97" y1="287.01" x2="268.30" y2="287.16" stroke="#4332cb"/>
<line x1="281.30" y1="297.73" x2="261.97" y2="287.01" stroke="#422ec0"/>
<polygon points="332.29,303.76 338.62,302.52 319.29,293.45 312.96,294.52" fill="#fff"/>
<line x1="332.29" y1="303.76" x2="338.62" y2="302.52" stroke="#3e26a8"/>
<line x1="338.62" y1="302.52" x2="319.29" y2="293.45" stroke="#3e26a8"/>
<line x1="312.96" y1="294.52" x2="319.29" y2="293.45" stroke="#402ab4"/>
<line x1="332.29" y1="303.76" x2="312.96" y2="294.52" stroke="#3e26a8"/>
<polygon points="383.28,305.68 389.62,304.15 370.28,295.56 363.95,297.03" fill="#fff"/>
<line x1="383.28" y1="305.68" x2="389.62" y2="304.15" stroke="#3e26a8"/>
<line x1="389.62" y1="304.15" x2="370.28" y2="295.56" stroke="#3e26a8"/>
<line x1="363.95" y1="297.03" x2="370.28" y2="295.56" stroke="#3e26a8"/>
<line x1="383.28" y1="305.68" x2="363.95" y2="297.03" stroke="#3e26a8"/>
<polygon points="172.99,229.05 179.32,237.90 159.98,217.36 153.65,206.61" fill="#fff"/>
<line x1="172.99" y1="229.05" x2="179.32" y2="237.90" stroke="#12b1d6"/>
<line x1="179.32" y1="237.90" x2="159.98" y2="217.36" stroke="#23a0e5"/>
<line x1="153.65" y1="206.61" x2="159.98" y2="217.36" stroke="#19bfb6"/>
<line x1="172.99" y1="229.05" x2="153.65" y2="206.61" stroke="#12b1d6"/>
<polygon points="434.27,306.36 440.61,304.76 421.27,296.35 414.94,297.92" fill="#fff"/>
<line x1="434.27" y1="306.36" x2="440.61" y2="304.76" stroke="#3e26a8"/>
<line x1="440.61" y1="304.76" x2="421.27" y2="296.35" stroke="#3e26a8"/>
<line x1="414.94" y1="297.92" x2="421.27" y2="296.35" stroke="#3e26a8"/>
<line x1="434.27" y1="306.36" x2="414.94" y2="297.92" stroke="#3e26a8"/>
<polygon points="223.98,277.59 230.31,280.46 210.97,266.44 204.64,262.54" fill="#fff"/>
<line x1="223.98" y1="277.59" x2="230.31" y2="280.46" stroke="#4758f8"/>
<line x1="230.31" y1="280.46" x2="210.97" y2="266.44" stroke="#484df0"/>
<line x1="204.64" y1="262.54" x2="210.97" y2="266.44" stroke="#4563fd"/>
<line x1="223.98" y1="277.59" x2="204.64" y2="262.54" stroke="#4758f8"/>
<polygon points="274.97,297.76 281.30,297.73 261.97,287.01 255.64,286.55" fill="#fff"/>
<line x1="274.97" y1="297.76" x2="281.30" y2="297.73" stroke="#4332cb"/>
<line x1="281.30" y1="297.73" x2="261.97" y2="287.01" stroke="#422ec0"/>
<line x1="255.64" y1="286.55" x2="261.97" y2="287.01" stroke="#4537d5"/>
<line x1="274.97" y1="297.76" x2="255.64" y2="286.55" stroke="#4332cb"/>
<polygon points="325.96,304.92 332.29,303.76 312.96,294.52 306.63,295.48" fill="#fff"/>
<line x1="325.96" y1="304.92" x2="332.29" y2="303.76" stroke="#3e26a8"/>
<line x1="332.29" y1="303.76" x2="312.96" y2="294.52" stroke="#3e26a8"/>
<line x1="306.63" y1="295.48" x2="312.96" y2="294.52" stroke="#402ab4"/>
<line x1="325.96" y1="304.92" x2="306.63" y2="295.48" stroke="#3e26a8"/>
<polygon points="376.95,307.19 383.28,305.68 363.95,297.03 357.62,298.46" fill="#fff"/>
<line x1="376.95" y1="307.19" x2="383.28" y2="305.68" stroke="#3e26a8"/>
<line x1="383.28" y1="305.68" x2="363.95" y2="297.03" stroke="#3e26a8"/>
<line x1="357.62" y1="298.46" x2="363.95" y2="297.03" stroke="#3e26a8"/>
<line x1="376.95" y1="307.19" x2="357.62" y2="298.46" stroke="#3e26a8"/>
<polygon points="166.66,219.05 172.99,229.05 153.65,206.61 147.32,194.56" fill="#fff"/>
<line x1="166.66" y1="219.05" x2="172.99" y2="229.05" stroke="#0bbdbd"/>
<line x1="172.99" y1="229.05" x2="153.65" y2="206.61" stroke="#12b1d6"/>
<line x1="147.32" y1="194.56" x2="153.65" y2="206.61" stroke="#3fca8e"/>
<line x1="166.66" y1="219.05" x2="147.32" y2="194.56" stroke="#0bbdbd"/>
<polygon points="427.94,307.95 434.27,306.36 414.94,297.92 408.61,299.49" fill="#fff"/>
<line x1="427.94" y1="307.95" x2="434.27" y2="306.36" stroke="#3e26a8"/>
<line x1="434.27" y1="306.36" x2="414.94" y2="297.92" stroke="#3e26a8"/>
<line x1="408.61" y1="299.49" x2="414.94" y2="297.92" stroke="#3e26a8"/>
<line x1="427.94" y1="307.95" x2="408.61" y2="299.49" stroke="#3e26a8"/>
<polygon points="217.65,274.06 223.98,277.59 204.64,262.54 198.31,257.82" fill="#fff"/>
<line x1="217.65" y1="274.06" x2="223.98" y2="277.59" stroke="#4563fd"/>
<line x1="223.98" y1="277.59" x2="204.64" y2="262.54" stroke="#4758f8"/>
<line x1="198.31" y1="257.82" x2="204.64" y2="262.54" stroke="#3875fe"/>
<line x1="217.65" y1="274.06" x2="198.31" y2="257.82" stroke="#4563fd"/>
<polygon points="268.64,297.50 274.97,297.76 255.64,286.55 249.30,285.72" fill="#fff"/>
<line x1="268.64" y1="297.50" x2="274.97" y2="297.76" stroke="#4332cb"/>
<line x1="274.97" y1="297.76" x2="255.64" y2="286.55" stroke="#4332cb"/>
<line x1="249.30" y1="285.72" x2="255.64" y2="286.55" stroke="#463cde"/>
<line x1="268.64" y1="297.50" x2="249.30" y2="285.72" stroke="#4332cb"/>
<polygon points="319.63,306.00 325.96,304.92 306.63,295.48 300.30,296.30" fill="#fff"/>
<line x1="319.63" y1="306.00" x2="325.96" y2="304.92" stroke="#402ab4"/>
<line x1="325.96" y1="304.92" x2="306.63" y2="295.48" stroke="#3e26a8"/>
<line x1="300.30" y1="296.30" x2="306.63" y2="295.48" stroke="#402ab4"/>
<line x1="319.63" y1="306.00" x2="300.30" y2="296.30" stroke="#402ab4"/>
<polygon points="370.62,308.69 376.95,307.19 357.62,298.46 351.29,299.86" fill="#fff"/>
<line x1="370.62" y1="308.69" x2="376.95" y2="307.19" stroke="#3e26a8"/>
<line x1="376.95" y1="307.19" x2="357.62" y2="298.46" stroke="#3e26a8"/>
<line x1="351.29" y1="299.86" x2="357.62" y2="298.46" stroke="#3e26a8"/>
<line x1="370.62" y1="308.69" x2="351.29" y2="299.86" stroke="#3e26a8"/>
<polygon points="160.32,211.69 166.66,219.05 147.32,194.56 140.99,186.00" fill="#fff"/>
<line x1="160.32" y1="211.69" x2="166.66" y2="219.05" stroke="#31c69f"/>
<line x1="166.66" y1="219.05" x2="147.32" y2="194.56" stroke="#0bbdbd"/>
<line x1="140.99" y1="186.00" x2="147.32" y2="194.56" stroke="#72cd64"/>
<line x1="160.32" y1="211.69" x2="140.99" y2="186.00" stroke="#31c69f"/>
<polygon points="421.61,309.55 427.94,307.95 408.61,299.49 402.28,301.05" fill="#fff"/>
<line x1="421.61" y1="309.55" x2="427.94" y2="307.95" stroke="#3e26a8"/>
<line x1="427.94" y1="307.95" x2="408.61" y2="299.49" stroke="#3e26a8"/>
<line x1="402.28" y1="301.05" x2="408.61" y2="299.49" stroke="#3e26a8"/>
<line x1="421.61" y1="309.55" x2="402.28" y2="301.05" stroke="#3e26a8"/>
<polygon points="211.32,269.80 217.65,274.06 198.31,257.82 191.98,252.19" fill="#fff"/>
<line x1="211.32" y1="269.80" x2="217.65" y2="274.06" stroke="#3e6fff"/>
<line x1="217.65" y1="274.06" x2="198.31" y2="257.82" stroke="#4563fd"/>
<line x1="191.98" y1="252.19" x2="198.31" y2="257.82" stroke="#2f81fa"/>
<line x1="211.32" y1="269.80" x2="191.98" y2="252.19" stroke="#3e6fff"/>
<polygon points="262.31,296.93 268.64,297.50 249.30,285.72 242.97,284.46" fill="#fff"/>
<line x1="262.31" y1="296.93" x2="268.64" y2="297.50" stroke="#4537d5"/>
<line x1="268.64" y1="297.50" x2="249.30" y2="285.72" stroke="#4332cb"/>
<line x1="242.97" y1="284.46" x2="249.30" y2="285.72" stroke="#4741e5"/>
<line x1="262.31" y1="296.93" x2="242.97" y2="284.46" stroke="#4537d5"/>
<polygon points="313.30,306.96 319.63,306.00 300.30,296.30 293.96,296.97" fill="#fff"/>
<line x1="313.30" y1="306.96" x2="319.63" y2="306.00" stroke="#402ab4"/>
<line x1="319.63" y1="306.00" x2="300.30" y2="296.30" stroke="#402ab4"/>
<line x1="293.96" y1="296.97" x2="300.30" y2="296.30" stroke="#402ab4"/>
<line x1="313.30" y1="306.96" x2="293.96" y2="296.97" stroke="#402ab4"/>
<polygon points="364.29,310.16 370.62,308.69 351.29,299.86 344.95,301.22" fill="#fff"/>
<line x1="364.29" y1="310.16" x2="370.62" y2="308.69" stroke="#3e26a8"/>
<line x1="370.62" y1="308.69" x2="351.29" y2="299.86" stroke="#3e26a8"/>
<line x1="344.95" y1="301.22" x2="351.29" y2="299.86" stroke="#3e26a8"/>
<line x1="364.29" y1="310.16" x2="344.95" y2="301.22" stroke="#3e26a8"/>
<polygon points="415.28,311.14 421.61,309.55 402.28,301.05 395.95,302.61" fill="#fff"/>
<line x1="415.28" y1="311.14" x2="421.61" y2="309.55" stroke="#3e26a8"/>
<line x1="421.61" y1="309.55" x2="402.28" y2="301.05" stroke="#3e26a8"/>
<line x1="395.95" y1="302.61" x2="402.28" y2="301.05" stroke="#3e26a8"/>
<line x1="415.28" y1="311.14" x2="395.95" y2="302.61" stroke="#3e26a8"/>
<polygon points="204.98,264.73 211.32,269.80 191.98,252.19 185.65,245.58" fill="#fff"/>
<line x1="204.98" y1="264.73" x2="211.32" y2="269.80" stroke="#327cfc"/>
<line x1="211.32" y1="269.80" x2="191.98" y2="252.19" stroke="#3e6fff"/>
<line x1="185.65" y1="245.58" x2="191.98" y2="252.19" stroke="#2b91ef"/>
<line x1="204.98" y1="264.73" x2="185.65" y2="245.58" stroke="#327cfc"/>
<polygon points="255.98,295.99 262.31,296.93 242.97,284.46 236.64,282.73" fill="#fff"/>
<line x1="255.98" y1="295.99" x2="262.31" y2="296.93" stroke="#463cde"/>
<line x1="262.31" y1="296.93" x2="242.97" y2="284.46" stroke="#4537d5"/>
<line x1="236.64" y1="282.73" x2="242.97" y2="284.46" stroke="#4747eb"/>
<line x1="255.98" y1="295.99" x2="236.64" y2="282.73" stroke="#463cde"/>
<polygon points="306.97,307.81 313.30,306.96 293.96,296.97 287.63,297.45" fill="#fff"/>
<line x1="306.97" y1="307.81" x2="313.30" y2="306.96" stroke="#402ab4"/>
<line x1="313.30" y1="306.96" x2="293.96" y2="296.97" stroke="#402ab4"/>
<line x1="287.63" y1="297.45" x2="293.96" y2="296.97" stroke="#422ec0"/>
<line x1="306.97" y1="307.81" x2="287.63" y2="297.45" stroke="#402ab4"/>
<polygon points="357.96,311.61 364.29,310.16 344.95,301.22 338.62,302.52" fill="#fff"/>
<line x1="357.96" y1="311.61" x2="364.29" y2="310.16" stroke="#3e26a8"/>
<line x1="364.29" y1="310.16" x2="344.95" y2="301.22" stroke="#3e26a8"/>
<line x1="338.62" y1="302.52" x2="344.95" y2="301.22" stroke="#3e26a8"/>
<line x1="357.96" y1="311.61" x2="338.62" y2="302.52" stroke="#3e26a8"/>
<polygon points="408.95,312.74 415.28,311.14 395.95,302.61 389.62,304.15" fill="#fff"/>
<line x1="408.95" y1="312.74" x2="415.28" y2="311.14" stroke="#3e26a8"/>
<line x1="415.28" y1="311.14" x2="395.95" y2="302.61" stroke="#3e26a8"/>
<line x1="389.62" y1="304.15" x2="395.95" y2="302.61" stroke="#3e26a8"/>
<line x1="408.95" y1="312.74" x2="389.62" y2="304.15" stroke="#3e26a8"/>
<polygon points="198.65,258.79 204.98,264.73 185.65,245.58 179.32,237.90" fill="#fff"/>
<line x1="198.65" y1="258.79" x2="204.98" y2="264.73" stroke="#2d8cf3"/>
<line x1="204.98" y1="264.73" x2="185.65" y2="245.58" stroke="#327cfc"/>
<line x1="179.32" y1="237.90" x2="185.65" y2="245.58" stroke="#23a0e5"/>
<line x1="198.65" y1="258.79" x2="179.32" y2="237.90" stroke="#2d8cf3"/>
<polygon points="249.64,294.65 255.98,295.99 236.64,282.73 230.31,280.46" fill="#fff"/>
<line x1="249.64" y1="294.65" x2="255.98" y2="295.99" stroke="#4741e5"/>
<line x1="255.98" y1="295.99" x2="236.64" y2="282.73" stroke="#463cde"/>
<line x1="230.31" y1="280.46" x2="236.64" y2="282.73" stroke="#484df0"/>
<line x1="249.64" y1="294.65" x2="230.31" y2="280.46" stroke="#4741e5"/>
<polygon points="300.64,308.51 306.97,307.81 287.63,297.45 281.30,297.73" fill="#fff"/>
<line x1="300.64" y1="308.51" x2="306.97" y2="307.81" stroke="#402ab4"/>
<line x1="306.97" y1="307.81" x2="287.63" y2="297.45" stroke="#402ab4"/>
<line x1="281.30" y1="297.73" x2="287.63" y2="297.45" stroke="#422ec0"/>
<line x1="300.64" y1="308.51" x2="281.30" y2="297.73" stroke="#402ab4"/>
<polygon points="351.63,313.02 357.96,311.61 338.62,302.52 332.29,303.76" fill="#fff"/>
<line x1="351.63" y1="313.02" x2="357.96" y2="311.61" stroke="#3e26a8"/>
<line x1="357.96" y1="311.61" x2="338.62" y2="302.52" stroke="#3e26a8"/>
<line x1="332.29" y1="303.76" x2="338.62" y2="302.52" stroke="#3e26a8"/>
<line x1="351.63" y1="313.02" x2="332.29" y2="303.76" stroke="#3e26a8"/>
<polygon points="402.62,314.34 408.95,312.74 389.62,304.15 383.28,305.68" fill="#fff"/>
<line x1="402.62" y1="314.34" x2="408.95" y2="312.74" stroke="#3e26a8"/>
<line x1="408.95" y1="312.74" x2="389.62" y2="304.15" stroke="#3e26a8"/>
<line x1="383.28" y1="305.68" x2="389.62" y2="304.15" stroke="#3e26a8"/>
<line x1="402.62" y1="314.34" x2="383.28" y2="305.68" stroke="#3e26a8"/>
<polygon points="192.32,251.92 198.65,258.79 179.32,237.90 172.99,229.05" fill="#fff"/>
<line x1="192.32" y1="251.92" x2="198.65" y2="258.79" stroke="#259be8"/>
<line x1="198.65" y1="258.79" x2="179.32" y2="237.90" stroke="#2d8cf3"/>
<line x1="172.99" y1="229.05" x2="179.32" y2="237.90" stroke="#12b1d6"/>
<line x1="192.32" y1="251.92" x2="172.99" y2="229.05" stroke="#259be8"/>
<polygon points="243.31,292.85 249.64,294.65 230.31,280.46 223.98,277.59" fill="#fff"/>
<line x1="243.31" y1="292.85" x2="249.64" y2="294.65" stroke="#4747eb"/>
<line x1="249.64" y1="294.65" x2="230.31" y2="280.46" stroke="#4741e5"/>
<line x1="223.98" y1="277.59" x2="230.31" y2="280.46" stroke="#4758f8"/>
<line x1="243.31" y1="292.85" x2="223.98" y2="277.59" stroke="#4747eb"/>
<polygon points="294.31,309.05 300.64,308.51 281.30,297.73 274.97,297.76" fill="#fff"/>
<line x1="294.31" y1="309.05" x2="300.64" y2="308.51" stroke="#422ec0"/>
<line x1="300.64" y1="308.51" x2="281.30" y2="297.73" stroke="#402ab4"/>
<line x1="274.97" y1="297.76" x2="281.30" y2="297.73" stroke="#4332cb"/>
<line x1="294.31" y1="309.05" x2="274.97" y2="297.76" stroke="#422ec0"/>
<polygon points="345.30,314.40 351.63,313.02 332.29,303.76 325.96,304.92" fill="#fff"/>
<line x1="345.30" y1="314.40" x2="351.63" y2="313.02" stroke="#3e26a8"/>
<line x1="351.63" y1="313.02" x2="332.29" y2="303.76" stroke="#3e26a8"/>
<line x1="325.96" y1="304.92" x2="332.29" y2="303.76" stroke="#3e26a8"/>
<line x1="345.30" y1="314.40" x2="325.96" y2="304.92" stroke="#3e26a8"/>
<polygon points="396.29,315.93 402.62,314.34 383.28,305.68 376.95,307.19" fill="#fff"/>
<line x1="396.29" y1="315.93" x2="402.62" y2="314.34" stroke="#3e26a8"/>
<line x1="402.62" y1="314.34" x2="383.28" y2="305.68" stroke="#3e26a8"/>
<line x1="376.95" y1="307.19" x2="383.28" y2="305.68" stroke="#3e26a8"/>
<line x1="396.29" y1="315.93" x2="376.95" y2="307.19" stroke="#3e26a8"/>
<polygon points="185.99,244.06 192.32,251.92 172.99,229.05 166.66,219.05" fill="#fff"/>
<line x1="185.99" y1="244.06" x2="192.32" y2="251.92" stroke="#1ca9df"/>
<line x1="192.32" y1="251.92" x2="172.99" y2="229.05" stroke="#259be8"/>
<line x1="166.66" y1="219.05" x2="172.99" y2="229.05" stroke="#0bbdbd"/>
<line x1="185.99" y1="244.06" x2="166.66" y2="219.05" stroke="#1ca9df"/>
<polygon points="236.98,290.54 243.31,292.85 223.98,277.59 217.65,274.06" fill="#fff"/>
<line x1="236.98" y1="290.54" x2="243.31" y2="292.85" stroke="#4852f4"/>
<line x1="243.31" y1="292.85" x2="223.98" y2="277.59" stroke="#4747eb"/>
<line x1="217.65" y1="274.06" x2="223.98" y2="277.59" stroke="#4563fd"/>
<line x1="236.98" y1="290.54" x2="217.65" y2="274.06" stroke="#4852f4"/>
<polygon points="287.97,309.39 294.31,309.05 274.97,297.76 268.64,297.50" fill="#fff"/>
<line x1="287.97" y1="309.39" x2="294.31" y2="309.05" stroke="#422ec0"/>
<line x1="294.31" y1="309.05" x2="274.97" y2="297.76" stroke="#422ec0"/>
<line x1="268.64" y1="297.50" x2="274.97" y2="297.76" stroke="#4332cb"/>
<line x1="287.97" y1="309.39" x2="268.64" y2="297.50" stroke="#422ec0"/>
<polygon points="338.97,315.73 345.30,314.40 325.96,304.92 319.63,306.00" fill="#fff"/>
<line x1="338.97" y1="315.73" x2="345.30" y2="314.40" stroke="#3e26a8"/>
<line x1="345.30" y1="314.40" x2="325.96" y2="304.92" stroke="#3e26a8"/>
<line x1="319.63" y1="306.00" x2="325.96" y2="304.92" stroke="#402ab4"/>
<line x1="338.97" y1="315.73" x2="319.63" y2="306.00" stroke="#3e26a8"/>
<polygon points="389.96,317.53 396.29,315.93 376.95,307.19 370.62,308.69" fill="#fff"/>
<line x1="389.96" y1="317.53" x2="396.29" y2="315.93" stroke="#3e26a8"/>
<line x1="396.29" y1="315.93" x2="376.95" y2="307.19" stroke="#3e26a8"/>
<line x1="370.62" y1="308.69" x2="376.95" y2="307.19" stroke="#3e26a8"/>
<line x1="389.96" y1="317.53" x2="370.62" y2="308.69" stroke="#3e26a8"/>
<polygon points="179.66,238.05 185.99,244.06 166.66,219.05 160.32,211.69" fill="#fff"/>
<line x1="179.66" y1="238.05" x2="185.99" y2="244.06" stroke="#08b5d0"/>
<line x1="185.99" y1="244.06" x2="166.66" y2="219.05" stroke="#1ca9df"/>
<line x1="160.32" y1="211.69" x2="166.66" y2="219.05" stroke="#31c69f"/>
<line x1="179.66" y1="238.05" x2="160.32" y2="211.69" stroke="#08b5d0"/>
<polygon points="230.65,287.68 236.98,290.54 217.65,274.06 211.32,269.80" fill="#fff"/>
<line x1="230.65" y1="287.68" x2="236.98" y2="290.54" stroke="#4758f8"/>
<line x1="236.98" y1="290.54" x2="217.65" y2="274.06" stroke="#4852f4"/>
<line x1="211.32" y1="269.80" x2="217.65" y2="274.06" stroke="#3e6fff"/>
<line x1="230.65" y1="287.68" x2="211.32" y2="269.80" stroke="#4758f8"/>
<polygon points="281.64,309.52 287.97,309.39 268.64,297.50 262.31,296.93" fill="#fff"/>
<line x1="281.64" y1="309.52" x2="287.97" y2="309.39" stroke="#4332cb"/>
<line x1="287.97" y1="309.39" x2="268.64" y2="297.50" stroke="#422ec0"/>
<line x1="262.31" y1="296.93" x2="268.64" y2="297.50" stroke="#4537d5"/>
<line x1="281.64" y1="309.52" x2="262.31" y2="296.93" stroke="#4332cb"/>
<polygon points="332.63,317.01 338.97,315.73 319.63,306.00 313.30,306.96" fill="#fff"/>
<line x1="332.63" y1="317.01" x2="338.97" y2="315.73" stroke="#3e26a8"/>
<line x1="338.97" y1="315.73" x2="319.63" y2="306.00" stroke="#3e26a8"/>
<line x1="313.30" y1="306.96" x2="319.63" y2="306.00" stroke="#402ab4"/>
<line x1="332.63" y1="317.01" x2="313.30" y2="306.96" stroke="#3e26a8"/>
<polygon points="383.62,319.12 389.96,317.53 370.62,308.69 364.29,310.16" fill="#fff"/>
<line x1="383.62" y1="319.12" x2="389.96" y2="317.53" stroke="#3e26a8"/>
<line x1="389.96" y1="317.53" x2="370.62" y2="308.69" stroke="#3e26a8"/>
<line x1="364.29" y1="310.16" x2="370.62" y2="308.69" stroke="#3e26a8"/>
<line x1="383.62" y1="319.12" x2="364.29" y2="310.16" stroke="#3e26a8"/>
<polygon points="224.32,284.21 230.65,287.68 211.32,269.80 204.98,264.73" fill="#fff"/>
<line x1="224.32" y1="284.21" x2="230.65" y2="287.68" stroke="#4563fd"/>
<line x1="230.65" y1="287.68" x2="211.32" y2="269.80" stroke="#4758f8"/>
<line x1="204.98" y1="264.73" x2="211.32" y2="269.80" stroke="#327cfc"/>
<line x1="224.32" y1="284.21" x2="204.98" y2="264.73" stroke="#4563fd"/>
<polygon points="275.31,309.40 281.64,309.52 262.31,296.93 255.98,295.99" fill="#fff"/>
<line x1="275.31" y1="309.40" x2="281.64" y2="309.52" stroke="#4332cb"/>
<line x1="281.64" y1="309.52" x2="262.31" y2="296.93" stroke="#4332cb"/>
<line x1="255.98" y1="295.99" x2="262.31" y2="296.93" stroke="#463cde"/>
<line x1="275.31" y1="309.40" x2="255.98" y2="295.99" stroke="#4332cb"/>
<polygon points="326.30,318.22 332.63,317.01 313.30,306.96 306.97,307.81" fill="#fff"/>
<line x1="326.30" y1="318.22" x2="332.63" y2="317.01" stroke="#3e26a8"/>
<line x1="332.63" y1="317.01" x2="313.30" y2="306.96" stroke="#3e26a8"/>
<line x1="306.97" y1="307.81" x2="313.30" y2="306.96" stroke="#402ab4"/>
<line x1="326.30" y1="318.22" x2="306.97" y2="307.81" stroke="#3e26a8"/>
<polygon points="377.29,320.72 383.62,319.12 364.29,310.16 357.96,311.61" fill="#fff"/>
<line x1="377.29" y1="320.72" x2="383.62" y2="319.12" stroke="#3e26a8"/>
<line x1="383.62" y1="319.12" x2="364.29" y2="310.16" stroke="#3e26a8"/>
<line x1="357.96" y1="311.61" x2="364.29" y2="310.16" stroke="#3e26a8"/>
<line x1="377.29" y1="320.72" x2="357.96" y2="311.61" stroke="#3e26a8"/>
<polygon points="217.99,280.07 224.32,284.21 204.98,264.73 198.65,258.79" fill="#fff"/>
<line x1="217.99" y1="280.07" x2="224.32" y2="284.21" stroke="#3e6fff"/>
<line x1="224.32" y1="284.21" x2="204.98" y2="264.73" stroke="#4563fd"/>
<line x1="198.65" y1="258.79" x2="204.98" y2="264.73" stroke="#2d8cf3"/>
<line x1="217.99" y1="280.07" x2="198.65" y2="258.79" stroke="#3e6fff"/>
<polygon points="268.98,309.01 275.31,309.40 255.98,295.99 249.64,294.65" fill="#fff"/>
<line x1="268.98" y1="309.01" x2="275.31" y2="309.40" stroke="#4537d5"/>
<line x1="275.31" y1="309.40" x2="255.98" y2="295.99" stroke="#4332cb"/>
<line x1="249.64" y1="294.65" x2="255.98" y2="295.99" stroke="#4741e5"/>
<line x1="268.98" y1="309.01" x2="249.64" y2="294.65" stroke="#4537d5"/>
<polygon points="319.97,319.37 326.30,318.22 306.97,307.81 300.64,308.51" fill="#fff"/>
<line x1="319.97" y1="319.37" x2="326.30" y2="318.22" stroke="#3e26a8"/>
<line x1="326.30" y1="318.22" x2="306.97" y2="307.81" stroke="#3e26a8"/>
<line x1="300.64" y1="308.51" x2="306.97" y2="307.81" stroke="#402ab4"/>
<line x1="319.97" y1="319.37" x2="300.64" y2="308.51" stroke="#3e26a8"/>
<polygon points="370.96,322.32 377.29,320.72 357.96,311.61 351.63,313.02" fill="#fff"/>
<line x1="370.96" y1="322.32" x2="377.29" y2="320.72" stroke="#3e26a8"/>
<line x1="377.29" y1="320.72" x2="357.96" y2="311.61" stroke="#3e26a8"/>
<line x1="351.63" y1="313.02" x2="357.96" y2="311.61" stroke="#3e26a8"/>
<line x1="370.96" y1="322.32" x2="351.63" y2="313.02" stroke="#3e26a8"/>
<polygon points="211.66,275.22 217.99,280.07 198.65,258.79 192.32,251.92" fill="#fff"/>
<line x1="211.66" y1="275.22" x2="217.99" y2="280.07" stroke="#2f81fa"/>
<line x1="217.99" y1="280.07" x2="198.65" y2="258.79" stroke="#3e6fff"/>
<line x1="192.32" y1="251.92" x2="198.65" y2="258.79" stroke="#259be8"/>
<line x1="211.66" y1="275.22" x2="192.32" y2="251.92" stroke="#2f81fa"/>
<polygon points="262.65,308.31 268.98,309.01 249.64,294.65 243.31,292.85" fill="#fff"/>
<line x1="262.65" y1="308.31" x2="268.98" y2="309.01" stroke="#463cde"/>
<line x1="268.98" y1="309.01" x2="249.64" y2="294.65" stroke="#4537d5"/>
<line x1="243.31" y1="292.85" x2="249.64" y2="294.65" stroke="#4747eb"/>
<line x1="262.65" y1="308.31" x2="243.31" y2="292.85" stroke="#463cde"/>
<polygon points="313.64,320.43 319.97,319.37 300.64,308.51 294.31,309.05" fill="#fff"/>
<line x1="313.64" y1="320.43" x2="319.97" y2="319.37" stroke="#402ab4"/>
<line x1="319.97" y1="319.37" x2="300.64" y2="308.51" stroke="#3e26a8"/>
<line x1="294.31" y1="309.05" x2="300.64" y2="308.51" stroke="#422ec0"/>
<line x1="313.64" y1="320.43" x2="294.31" y2="309.05" stroke="#402ab4"/>
<polygon points="364.63,323.91 370.96,322.32 351.63,313.02 345.30,314.40" fill="#fff"/>
<line x1="364.63" y1="323.91" x2="370.96" y2="322.32" stroke="#3e26a8"/>
<line x1="370.96" y1="322.32" x2="351.63" y2="313.02" stroke="#3e26a8"/>
<line x1="345.30" y1="314.40" x2="351.63" y2="313.02" stroke="#3e26a8"/>
<line x1="364.63" y1="323.91" x2="345.30" y2="314.40" stroke="#3e26a8"/>
<polygon points="205.33,269.60 211.66,275.22 192.32,251.92 185.99,244.06" fill="#fff"/>
<line x1="205.33" y1="269.60" x2="211.66" y2="275.22" stroke="#2d8cf3"/>
<line x1="211.66" y1="275.22" x2="192.32" y2="251.92" stroke="#2f81fa"/>
<line x1="185.99" y1="244.06" x2="192.32" y2="251.92" stroke="#1ca9df"/>
<line x1="205.33" y1="269.60" x2="185.99" y2="244.06" stroke="#2d8cf3"/>
<polygon points="256.32,307.27 262.65,308.31 243.31,292.85 236.98,290.54" fill="#fff"/>
<line x1="256.32" y1="307.27" x2="262.65" y2="308.31" stroke="#4741e5"/>
<line x1="262.65" y1="308.31" x2="243.31" y2="292.85" stroke="#463cde"/>
<line x1="236.98" y1="290.54" x2="243.31" y2="292.85" stroke="#4852f4"/>
<line x1="256.32" y1="307.27" x2="236.98" y2="290.54" stroke="#4741e5"/>
<polygon points="307.31,321.39 313.64,320.43 294.31,309.05 287.97,309.39" fill="#fff"/>
<line x1="307.31" y1="321.39" x2="313.64" y2="320.43" stroke="#402ab4"/>
<line x1="313.64" y1="320.43" x2="294.31" y2="309.05" stroke="#402ab4"/>
<line x1="287.97" y1="309.39" x2="294.31" y2="309.05" stroke="#422ec0"/>
<line x1="307.31" y1="321.39" x2="287.97" y2="309.39" stroke="#402ab4"/>
<polygon points="358.30,325.51 364.63,323.91 345.30,314.40 338.97,315.73" fill="#fff"/>
<line x1="358.30" y1="325.51" x2="364.63" y2="323.91" stroke="#3e26a8"/>
<line x1="364.63" y1="323.91" x2="345.30" y2="314.40" stroke="#3e26a8"/>
<line x1="338.97" y1="315.73" x2="345.30" y2="314.40" stroke="#3e26a8"/>
<line x1="358.30" y1="325.51" x2="338.97" y2="315.73" stroke="#3e26a8"/>
<polygon points="199.00,265.09 205.33,269.60 185.99,244.06 179.66,238.05" fill="#fff"/>
<line x1="199.00" y1="265.09" x2="205.33" y2="269.60" stroke="#2797eb"/>
<line x1="205.33" y1="269.60" x2="185.99" y2="244.06" stroke="#2d8cf3"/>
<line x1="179.66" y1="238.05" x2="185.99" y2="244.06" stroke="#08b5d0"/>
<line x1="199.00" y1="265.09" x2="179.66" y2="238.05" stroke="#2797eb"/>
<polygon points="249.99,305.85 256.32,307.27 236.98,290.54 230.65,287.68" fill="#fff"/>
<line x1="249.99" y1="305.85" x2="256.32" y2="307.27" stroke="#4747eb"/>
<line x1="256.32" y1="307.27" x2="236.98" y2="290.54" stroke="#4741e5"/>
<line x1="230.65" y1="287.68" x2="236.98" y2="290.54" stroke="#4758f8"/>
<line x1="249.99" y1="305.85" x2="230.65" y2="287.68" stroke="#4747eb"/>
<polygon points="300.98,322.24 307.31,321.39 287.97,309.39 281.64,309.52" fill="#fff"/>
<line x1="300.98" y1="322.24" x2="307.31" y2="321.39" stroke="#402ab4"/>
<line x1="307.31" y1="321.39" x2="287.97" y2="309.39" stroke="#402ab4"/>
<line x1="281.64" y1="309.52" x2="287.97" y2="309.39" stroke="#4332cb"/>
<line x1="300.98" y1="322.24" x2="281.64" y2="309.52" stroke="#402ab4"/>
<polygon points="351.97,327.11 358.30,325.51 338.97,315.73 332.63,317.01" fill="#fff"/>
<line x1="351.97" y1="327.11" x2="358.30" y2="325.51" stroke="#3e26a8"/>
<line x1="358.30" y1="325.51" x2="338.97" y2="315.73" stroke="#3e26a8"/>
<line x1="332.63" y1="317.01" x2="338.97" y2="315.73" stroke="#3e26a8"/>
<line x1="351.97" y1="327.11" x2="332.63" y2="317.01" stroke="#3e26a8"/>
<polygon points="243.65,304.01 249.99,305.85 230.65,287.68 224.32,284.21" fill="#fff"/>
<line x1="243.65" y1="304.01" x2="249.99" y2="305.85" stroke="#484df0"/>
<line x1="249.99" y1="305.85" x2="230.65" y2="287.68" stroke="#4747eb"/>
<line x1="224.32" y1="284.21" x2="230.65" y2="287.68" stroke="#4563fd"/>
<line x1="243.65" y1="304.01" x2="224.32" y2="284.21" stroke="#484df0"/>
<polygon points="294.65,322.97 300.98,322.24 281.64,309.52 275.31,309.40" fill="#fff"/>
<line x1="294.65" y1="322.97" x2="300.98" y2="322.24" stroke="#402ab4"/>
<line x1="300.98" y1="322.24" x2="281.64" y2="309.52" stroke="#402ab4"/>
<line x1="275.31" y1="309.40" x2="281.64" y2="309.52" stroke="#4332cb"/>
<line x1="294.65" y1="322.97" x2="275.31" y2="309.40" stroke="#402ab4"/>
<polygon points="345.64,328.70 351.97,327.11 332.63,317.01 326.30,318.22" fill="#fff"/>
<line x1="345.64" y1="328.70" x2="351.97" y2="327.11" stroke="#3e26a8"/>
<line x1="351.97" y1="327.11" x2="332.63" y2="317.01" stroke="#3e26a8"/>
<line x1="326.30" y1="318.22" x2="332.63" y2="317.01" stroke="#3e26a8"/>
<line x1="345.64" y1="328.70" x2="326.30" y2="318.22" stroke="#3e26a8"/>
<polygon points="237.32,301.73 243.65,304.01 224.32,284.21 217.99,280.07" fill="#fff"/>
<line x1="237.32" y1="301.73" x2="243.65" y2="304.01" stroke="#4852f4"/>
<line x1="243.65" y1="304.01" x2="224.32" y2="284.21" stroke="#484df0"/>
<line x1="217.99" y1="280.07" x2="224.32" y2="284.21" stroke="#3e6fff"/>
<line x1="237.32" y1="301.73" x2="217.99" y2="280.07" stroke="#4852f4"/>
<polygon points="288.31,323.55 294.65,322.97 275.31,309.40 268.98,309.01" fill="#fff"/>
<line x1="288.31" y1="323.55" x2="294.65" y2="322.97" stroke="#422ec0"/>
<line x1="294.65" y1="322.97" x2="275.31" y2="309.40" stroke="#402ab4"/>
<line x1="268.98" y1="309.01" x2="275.31" y2="309.40" stroke="#4537d5"/>
<line x1="288.31" y1="323.55" x2="268.98" y2="309.01" stroke="#422ec0"/>
<polygon points="339.31,330.30 345.64,328.70 326.30,318.22 319.97,319.37" fill="#fff"/>
<line x1="339.31" y1="330.30" x2="345.64" y2="328.70" stroke="#3e26a8"/>
<line x1="345.64" y1="328.70" x2="326.30" y2="318.22" stroke="#3e26a8"/>
<line x1="319.97" y1="319.37" x2="326.30" y2="318.22" stroke="#3e26a8"/>
<line x1="339.31" y1="330.30" x2="319.97" y2="319.37" stroke="#3e26a8"/>
<polygon points="230.99,298.96 237.32,301.73 217.99,280.07 211.66,275.22" fill="#fff"/>
<line x1="230.99" y1="298.96" x2="237.32" y2="301.73" stroke="#465efb"/>
<line x1="237.32" y1="301.73" x2="217.99" y2="280.07" stroke="#4852f4"/>
<line x1="211.66" y1="275.22" x2="217.99" y2="280.07" stroke="#2f81fa"/>
<line x1="230.99" y1="298.96" x2="211.66" y2="275.22" stroke="#465efb"/>
<polygon points="281.98,323.98 288.31,323.55 268.98,309.01 262.65,308.31" fill="#fff"/>
<line x1="281.98" y1="323.98" x2="288.31" y2="323.55" stroke="#422ec0"/>
<line x1="288.31" y1="323.55" x2="268.98" y2="309.01" stroke="#422ec0"/>
<line x1="262.65" y1="308.31" x2="268.98" y2="309.01" stroke="#463cde"/>
<line x1="281.98" y1="323.98" x2="262.65" y2="308.31" stroke="#422ec0"/>
<polygon points="332.98,331.89 339.31,330.30 319.97,319.37 313.64,320.43" fill="#fff"/>
<line x1="332.98" y1="331.89" x2="339.31" y2="330.30" stroke="#3e26a8"/>
<line x1="339.31" y1="330.30" x2="319.97" y2="319.37" stroke="#3e26a8"/>
<line x1="313.64" y1="320.43" x2="319.97" y2="319.37" stroke="#402ab4"/>
<line x1="332.98" y1="331.89" x2="313.64" y2="320.43" stroke="#3e26a8"/>
<polygon points="224.66,295.68 230.99,298.96 211.66,275.22 205.33,269.60" fill="#fff"/>
<line x1="224.66" y1="295.68" x2="230.99" y2="298.96" stroke="#4269fe"/>
<line x1="230.99" y1="298.96" x2="211.66" y2="275.22" stroke="#465efb"/>
<line x1="205.33" y1="269.60" x2="211.66" y2="275.22" stroke="#2d8cf3"/>
<line x1="224.66" y1="295.68" x2="205.33" y2="269.60" stroke="#4269fe"/>
<polygon points="275.65,324.24 281.98,323.98 262.65,308.31 256.32,307.27" fill="#fff"/>
<line x1="275.65" y1="324.24" x2="281.98" y2="323.98" stroke="#4332cb"/>
<line x1="281.98" y1="323.98" x2="262.65" y2="308.31" stroke="#422ec0"/>
<line x1="256.32" y1="307.27" x2="262.65" y2="308.31" stroke="#4741e5"/>
<line x1="275.65" y1="324.24" x2="256.32" y2="307.27" stroke="#4332cb"/>
<polygon points="326.64,333.49 332.98,331.89 313.64,320.43 307.31,321.39" fill="#fff"/>
<line x1="326.64" y1="333.49" x2="332.98" y2="331.89" stroke="#3e26a8"/>
<line x1="332.98" y1="331.89" x2="313.64" y2="320.43" stroke="#3e26a8"/>
<line x1="307.31" y1="321.39" x2="313.64" y2="320.43" stroke="#402ab4"/>
<line x1="326.64" y1="333.49" x2="307.31" y2="321.39" stroke="#3e26a8"/>
<polygon points="218.33,292.88 224.66,295.68 205.33,269.60 199.00,265.09" fill="#fff"/>
<line x1="218.33" y1="292.88" x2="224.66" y2="295.68" stroke="#3e6fff"/>
<line x1="224.66" y1="295.68" x2="205.33" y2="269.60" stroke="#4269fe"/>
<line x1="199.00" y1="265.09" x2="205.33" y2="269.60" stroke="#2797eb"/>
<line x1="218.33" y1="292.88" x2="199.00" y2="265.09" stroke="#3e6fff"/>
<polygon points="269.32,324.31 275.65,324.24 256.32,307.27 249.99,305.85" fill="#fff"/>
<line x1="269.32" y1="324.31" x2="275.65" y2="324.24" stroke="#4332cb"/>
<line x1="275.65" y1="324.24" x2="256.32" y2="307.27" stroke="#4332cb"/>
<line x1="249.99" y1="305.85" x2="256.32" y2="307.27" stroke="#4747eb"/>
<line x1="269.32" y1="324.31" x2="249.99" y2="305.85" stroke="#4332cb"/>
<polygon points="320.31,335.09 326.64,333.49 307.31,321.39 300.98,322.24" fill="#fff"/>
<line x1="320.31" y1="335.09" x2="326.64" y2="333.49" stroke="#3e26a8"/>
<line x1="326.64" y1="333.49" x2="307.31" y2="321.39" stroke="#3e26a8"/>
<line x1="300.98" y1="322.24" x2="307.31" y2="321.39" stroke="#402ab4"/>
<line x1="320.31" y1="335.09" x2="300.98" y2="322.24" stroke="#3e26a8"/>
<polygon points="262.99,324.16 269.32,324.31 249.99,305.85 243.65,304.01" fill="#fff"/>
<line x1="262.99" y1="324.16" x2="269.32" y2="324.31" stroke="#4537d5"/>
<line x1="269.32" y1="324.31" x2="249.99" y2="305.85" stroke="#4332cb"/>
<line x1="243.65" y1="304.01" x2="249.99" y2="305.85" stroke="#484df0"/>
<line x1="262.99" y1="324.16" x2="243.65" y2="304.01" stroke="#4537d5"/>
<polygon points="313.98,336.68 320.31,335.09 300.98,322.24 294.65,322.97" fill="#fff"/>
<line x1="313.98" y1="336.68" x2="320.31" y2="335.09" stroke="#3e26a8"/>
<line x1="320.31" y1="335.09" x2="300.98" y2="322.24" stroke="#3e26a8"/>
<line x1="294.65" y1="322.97" x2="300.98" y2="322.24" stroke="#402ab4"/>
<line x1="313.98" y1="336.68" x2="294.65" y2="322.97" stroke="#3e26a8"/>
<polygon points="256.66,323.79 262.99,324.16 243.65,304.01 237.32,301.73" fill="#fff"/>
<line x1="256.66" y1="323.79" x2="262.99" y2="324.16" stroke="#463cde"/>
<line x1="262.99" y1="324.16" x2="243.65" y2="304.01" stroke="#4537d5"/>
<line x1="237.32" y1="301.73" x2="243.65" y2="304.01" stroke="#4852f4"/>
<line x1="256.66" y1="323.79" x2="237.32" y2="301.73" stroke="#463cde"/>
<polygon points="307.65,338.28 313.98,336.68 294.65,322.97 288.31,323.55" fill="#fff"/>
<line x1="307.65" y1="338.28" x2="313.98" y2="336.68" stroke="#3e26a8"/>
<line x1="313.98" y1="336.68" x2="294.65" y2="322.97" stroke="#3e26a8"/>
<line x1="288.31" y1="323.55" x2="294.65" y2="322.97" stroke="#422ec0"/>
<line x1="307.65" y1="338.28" x2="288.31" y2="323.55" stroke="#3e26a8"/>
<polygon points="250.33,323.17 256.66,323.79 237.32,301.73 230.99,298.96" fill="#fff"/>
<line x1="250.33" y1="323.17" x2="256.66" y2="323.79" stroke="#463cde"/>
<line x1="256.66" y1="323.79" x2="237.32" y2="301.73" stroke="#463cde"/>
<line x1="230.99" y1="298.96" x2="237.32" y2="301.73" stroke="#465efb"/>
<line x1="250.33" y1="323.17" x2="230.99" y2="298.96" stroke="#463cde"/>
<polygon points="301.32,339.88 307.65,338.28 288.31,323.55 281.98,323.98" fill="#fff"/>
<line x1="301.32" y1="339.88" x2="307.65" y2="338.28" stroke="#3e26a8"/>
<line x1="307.65" y1="338.28" x2="288.31" y2="323.55" stroke="#3e26a8"/>
<line x1="281.98" y1="323.98" x2="288.31" y2="323.55" stroke="#422ec0"/>
<line x1="301.32" y1="339.88" x2="281.98" y2="323.98" stroke="#3e26a8"/>
<polygon points="244.00,322.29 250.33,323.17 230.99,298.96 224.66,295.68" fill="#fff"/>
<line x1="244.00" y1="322.29" x2="250.33" y2="323.17" stroke="#4741e5"/>
<line x1="250.33" y1="323.17" x2="230.99" y2="298.96" stroke="#463cde"/>
<line x1="224.66" y1="295.68" x2="230.99" y2="298.96" stroke="#4269fe"/>
<line x1="244.00" y1="322.29" x2="224.66" y2="295.68" stroke="#4741e5"/>
<polygon points="294.99,341.47 301.32,339.88 281.98,323.98 275.65,324.24" fill="#fff"/>
<line x1="294.99" y1="341.47" x2="301.32" y2="339.88" stroke="#3e26a8"/>
<line x1="301.32" y1="339.88" x2="281.98" y2="323.98" stroke="#3e26a8"/>
<line x1="275.65" y1="324.24" x2="281.98" y2="323.98" stroke="#4332cb"/>
<line x1="294.99" y1="341.47" x2="275.65" y2="324.24" stroke="#3e26a8"/>
<polygon points="237.66,321.48 244.00,322.29 224.66,295.68 218.33,292.88" fill="#fff"/>
<line x1="237.66" y1="321.48" x2="244.00" y2="322.29" stroke="#4747eb"/>
<line x1="244.00" y1="322.29" x2="224.66" y2="295.68" stroke="#4741e5"/>
<line x1="218.33" y1="292.88" x2="224.66" y2="295.68" stroke="#3e6fff"/>
<line x1="237.66" y1="321.48" x2="218.33" y2="292.88" stroke="#4747eb"/>
<polygon points="288.66,343.07 294.99,341.47 275.65,324.24 269.32,324.31" fill="#fff"/>
<line x1="288.66" y1="343.07" x2="294.99" y2="341.47" stroke="#3e26a8"/>
<line x1="294.99" y1="341.47" x2="275.65" y2="324.24" stroke="#3e26a8"/>
<line x1="269.32" y1="324.31" x2="275.65" y2="324.24" stroke="#4332cb"/>
<line x1="288.66" y1="343.07" x2="269.32" y2="324.31" stroke="#3e26a8"/>
<polygon points="282.32,344.67 288.66,343.07 269.32,324.31 262.99,324.16" fill="#fff"/>
<line x1="282.32" y1="344.67" x2="288.66" y2="343.07" stroke="#3e26a8"/>
<line x1="288.66" y1="343.07" x2="269.32" y2="324.31" stroke="#3e26a8"/>
<line x1="262.99" y1="324.16" x2="269.32" y2="324.31" stroke="#4537d5"/>
<line x1="282.32" y1="344.67" x2="262.99" y2="324.16" stroke="#3e26a8"/>
<polygon points="275.99,346.26 282.32,344.67 262.99,324.16 256.66,323.79" fill="#fff"/>
<line x1="275.99" y1="346.26" x2="282.32" y2="344.67" stroke="#3e26a8"/>
<line x1="282.32" y1="344.67" x2="262.99" y2="324.16" stroke="#3e26a8"/>
<line x1="256.66" y1="323.79" x2="262.99" y2="324.16" stroke="#463cde"/>
<line x1="275.99" y1="346.26" x2="256.66" y2="323.79" stroke="#3e26a8"/>
<polygon points="269.66,347.86 275.99,346.26 256.66,323.79 250.33,323.17" fill="#fff"/>
<line x1="269.66" y1="347.86" x2="275.99" y2="346.26" stroke="#3e26a8"/>
<line x1="275.99" y1="346.26" x2="256.66" y2="323.79" stroke="#3e26a8"/>
<line x1="250.33" y1="323.17" x2="256.66" y2="323.79" stroke="#463cde"/>
<line x1="269.66" y1="347.86" x2="250.33" y2="323.17" stroke="#3e26a8"/>
<polygon points="263.33,349.45 269.66,347.86 250.33,323.17 244.00,322.29" fill="#fff"/>
<line x1="263.33" y1="349.45" x2="269.66" y2="347.86" stroke="#3e26a8"/>
<line x1="269.66" y1="347.86" x2="250.33" y2="323.17" stroke="#3e26a8"/>
<line x1="244.00" y1="322.29" x2="250.33" y2="323.17" stroke="#4741e5"/>
<line x1="263.33" y1="349.45" x2="244.00" y2="322.29" stroke="#3e26a8"/>
<polygon points="257.00,351.05 263.33,349.45 244.00,322.29 237.66,321.48" fill="#fff"/>
<line x1="257.00" y1="351.05" x2="263.33" y2="349.45" stroke="#3e26a8"/>
<line x1="263.33" y1="349.45" x2="244.00" y2="322.29" stroke="#3e26a8"/>
<line x1="237.66" y1="321.48" x2="244.00" y2="322.29" stroke="#4747eb"/>
<line x1="257.00" y1="351.05" x2="237.66" y2="321.48" stroke="#3e26a8"/></g><g style="will-change:transform"><text x="52.2" y="87.2" text-anchor="end" font-family="Liberation Sans, sans-serif" font-size="14" fill="#262626">70</text><text x="52.2" y="123.6" text-anchor="end" font-family="Liberation Sans, sans-serif" font-size="14" fill="#262626">60</text><text x="52.2" y="159.8" text-anchor="end" font-family="Liberation Sans, sans-serif" font-size="14" fill="#262626">50</text><text x="52.2" y="196.0" text-anchor="end" font-family="Liberation Sans, sans-serif" font-size="14" fill="#262626">40</text><text x="52.2" y="232.3" text-anchor="end" font-family="Liberation Sans, sans-serif" font-size="14" fill="#262626">30</text><text x="52.2" y="269.0" text-anchor="end" font-family="Liberation Sans, sans-serif" font-size="14" fill="#262626">20</text><text x="52" y="286.1" text-anchor="end" font-family="Liberation Sans, sans-serif" font-size="14" fill="#262626">10</text><text x="147.9" y="327.5" text-anchor="end" font-family="Liberation Sans, sans-serif" font-size="14" fill="#262626">5</text><text x="244.6" y="369.5" text-anchor="end" font-family="Liberation Sans, sans-serif" font-size="14" fill="#262626">0</text><text x="269.3" y="371.3" font-family="Liberation Sans, sans-serif" font-size="14" fill="#262626">0</text><text x="332.5" y="355.4" font-family="Liberation Sans, sans-serif" font-size="14" fill="#262626">20</text><text x="395.8" y="339.5" font-family="Liberation Sans, sans-serif" font-size="14" fill="#262626">40</text><text x="458.6" y="323.3" font-family="Liberation Sans, sans-serif" font-size="14" fill="#262626">60</text><text x="522.2" y="307.3" font-family="Liberation Sans, sans-serif" font-size="14" fill="#262626">80</text><text x="97.9" y="349" font-family="Liberation Serif, serif" font-size="15.3" textLength="54.7" lengthAdjust="spacing" fill="#262626">Time (s)</text><text x="345.1" y="391.2" font-family="Liberation Serif, serif" font-size="15.3" textLength="77.6" lengthAdjust="spacing" fill="#262626">Depth (mm)</text><text transform="translate(27.30,233.20) rotate(-90)" font-family="Liberation Sans, sans-serif" font-size="16.00" fill="#262626">Temperature (<tspan font-size="6.5" dy="-8.30">o</tspan><tspan dy="8.30">C)</tspan></text></g></svg></body></html>
